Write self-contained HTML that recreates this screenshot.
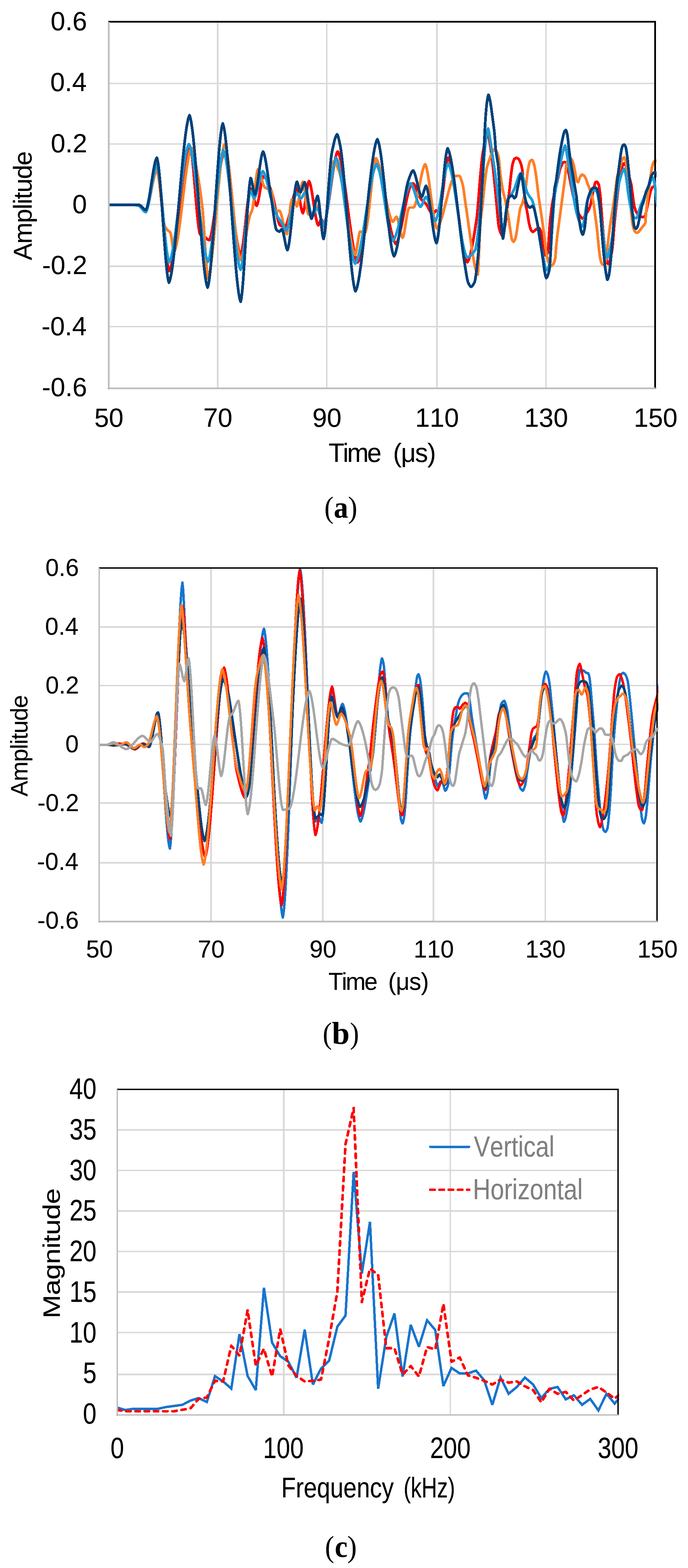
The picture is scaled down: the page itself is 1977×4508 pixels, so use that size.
<!DOCTYPE html>
<html lang="en">
<head>
<meta charset="utf-8">
<title>Figure</title>
<style>html,body{margin:0;padding:0;background:#fff}svg{display:block}</style>
</head>
<body>
<svg width="1977" height="4508" viewBox="0 0 1977 4508" style="font-kerning:none">
<rect width="1977" height="4508" fill="#fff"/>
<g shape-rendering="crispEdges">
<rect x="310" y="238" width="1575" height="4" fill="#d9d9d9"/>
<rect x="310" y="412" width="1575" height="4" fill="#d9d9d9"/>
<rect x="310" y="586" width="1575" height="4" fill="#d9d9d9"/>
<rect x="310" y="763" width="1575" height="5" fill="#d9d9d9"/>
<rect x="310" y="937" width="1575" height="4" fill="#d9d9d9"/>
<rect x="623" y="60" width="5" height="1059" fill="#d9d9d9"/>
<rect x="937" y="60" width="4" height="1059" fill="#d9d9d9"/>
<rect x="1253" y="60" width="5" height="1059" fill="#d9d9d9"/>
<rect x="1567" y="60" width="4" height="1059" fill="#d9d9d9"/>
</g>
<clipPath id="ca"><rect x="312" y="60" width="1574.6" height="1059"/></clipPath>
<g clip-path="url(#ca)" fill="none" stroke-width="7.8" stroke-linejoin="round" stroke-linecap="butt" shape-rendering="crispEdges">
<path d="M312.0,589.0 314.0,589.0 316.0,589.0 318.0,589.0 320.0,589.0 322.0,589.0 324.0,589.0 326.0,589.0 328.0,589.0 330.0,589.0 332.0,589.0 334.0,589.0 336.0,589.0 338.0,589.0 340.0,589.0 342.0,589.0 344.0,589.0 346.0,589.0 348.0,589.0 350.0,589.0 352.0,589.0 354.0,589.0 356.0,589.0 358.0,589.0 360.0,589.0 362.0,589.0 364.0,589.0 366.0,589.0 368.0,589.0 370.0,589.0 372.0,589.0 374.0,589.0 376.0,589.0 378.0,589.0 380.0,589.0 380.0,589.0 382.0,589.0 384.0,589.0 386.0,589.0 388.0,589.0 390.0,589.0 392.0,589.0 394.0,589.0 396.0,589.0 398.0,589.0 399.5,589.0 400.0,589.2 402.0,590.1 404.0,591.7 406.0,593.7 408.0,596.0 410.0,598.3 412.0,600.7 414.0,602.7 416.0,604.4 418.0,605.4 418.9,605.7 420.0,604.4 422.0,600.3 424.0,594.1 426.0,586.3 428.0,577.1 430.0,566.7 432.0,555.7 434.0,544.1 436.0,532.5 438.0,521.0 440.0,510.1 442.0,499.9 444.0,490.9 446.0,483.3 448.0,477.5 450.0,473.7 450.8,472.9 452.0,475.9 454.0,484.3 456.0,496.5 458.0,512.0 460.0,530.3 462.0,550.8 464.0,573.0 466.0,596.4 468.0,620.4 470.0,644.6 472.0,668.4 474.0,691.2 476.0,712.6 478.0,732.0 480.0,748.8 482.0,762.6 484.0,772.8 486.0,778.8 486.2,779.1 488.0,776.1 490.0,771.2 492.0,764.6 494.0,756.5 496.0,747.0 498.0,736.2 500.0,724.2 502.0,711.3 504.0,697.4 506.0,682.8 508.0,667.5 510.0,651.7 512.0,635.5 514.0,619.0 516.0,602.4 518.0,585.8 520.0,569.3 522.0,553.0 524.0,537.1 526.0,521.7 528.0,506.9 530.0,492.8 532.0,479.6 534.0,467.4 536.0,456.3 538.0,446.4 540.0,438.0 542.0,431.0 544.0,425.6 546.0,422.0 546.4,421.6 548.0,426.5 550.0,437.0 552.0,451.8 554.0,470.1 556.0,491.2 558.0,514.1 560.0,538.2 562.0,562.6 564.0,586.5 566.0,609.1 568.0,629.7 570.0,647.4 572.0,661.4 574.0,670.9 574.7,672.9 576.0,674.1 578.0,675.7 580.0,676.9 582.0,678.0 584.0,679.1 586.0,680.1 588.0,681.3 588.8,681.8 590.0,682.6 592.0,684.3 594.0,686.1 596.0,687.9 598.0,689.3 600.0,690.3 601.2,690.6 602.0,689.5 604.0,684.8 606.0,677.8 608.0,668.8 610.0,657.9 612.0,645.5 614.0,631.7 616.0,616.9 618.0,601.3 620.0,585.1 622.0,568.6 624.0,552.1 626.0,535.7 628.0,519.8 630.0,504.6 632.0,490.4 634.0,477.3 636.0,465.7 638.0,455.8 640.0,447.9 642.0,442.2 643.7,439.3 644.0,439.7 646.0,443.7 648.0,450.0 650.0,458.3 652.0,468.4 654.0,480.1 656.0,493.2 658.0,507.6 660.0,522.9 662.0,539.0 664.0,555.6 666.0,572.7 668.0,589.9 670.0,607.0 672.0,623.9 674.0,640.4 676.0,656.1 678.0,671.0 680.0,684.9 682.0,697.4 684.0,708.5 686.0,717.8 688.0,725.3 690.0,730.6 691.5,733.1 692.0,732.2 694.0,726.2 696.0,716.5 698.0,703.6 700.0,688.3 702.0,671.2 704.0,652.9 706.0,634.0 708.0,615.3 710.0,597.3 712.0,580.8 714.0,566.3 716.0,554.5 718.0,546.1 719.8,541.9 720.0,542.1 722.0,544.9 724.0,550.0 726.0,556.7 728.0,564.2 730.0,572.0 732.0,579.4 734.0,585.5 736.0,589.9 737.5,591.5 738.0,590.9 740.0,586.2 742.0,578.3 744.0,568.1 746.0,556.5 748.0,544.3 750.0,532.4 752.0,521.8 754.0,513.4 756.0,507.9 757.0,506.5 758.0,507.0 760.0,508.6 762.0,510.9 764.0,513.7 766.0,517.2 768.0,521.1 770.0,525.3 772.0,529.8 774.0,534.6 776.0,539.4 778.0,544.3 780.0,549.0 780.0,549.1 782.0,555.6 784.0,563.4 786.0,572.2 788.0,581.8 790.0,591.8 792.0,602.0 794.0,611.9 796.0,621.2 798.0,629.8 800.0,637.1 802.0,643.0 804.0,647.1 804.8,648.1 806.0,648.6 808.0,649.4 810.0,650.0 812.0,650.6 814.0,651.0 816.0,651.4 818.0,651.6 818.9,651.7 820.0,650.7 822.0,647.7 824.0,643.2 826.0,637.4 828.0,630.6 830.0,623.0 832.0,614.7 834.0,606.0 836.0,597.1 838.0,588.2 840.0,579.5 842.0,571.2 844.0,563.5 846.0,556.6 848.0,550.8 850.0,546.2 852.0,543.1 853.3,541.9 854.0,542.9 856.0,548.2 858.0,556.8 860.0,567.3 862.0,578.9 864.0,590.3 866.0,600.4 868.0,608.2 870.0,612.5 870.3,612.7 872.0,608.8 874.0,600.2 876.0,588.4 878.0,574.6 880.0,560.0 882.0,546.1 884.0,534.1 886.0,525.1 888.0,520.7 888.0,520.8 890.0,524.5 892.0,531.1 894.0,540.1 896.0,551.0 898.0,563.3 900.0,576.4 902.0,589.8 904.0,603.0 906.0,615.5 908.0,626.7 910.0,636.1 912.0,643.3 914.0,647.6 914.5,648.1 916.0,646.4 918.0,641.8 920.0,636.3 922.0,631.8 923.4,630.4 924.0,631.0 926.0,635.1 928.0,640.6 930.0,644.3 930.4,644.6 932.0,642.2 934.0,637.0 936.0,629.9 938.0,620.9 940.0,610.4 942.0,598.5 944.0,585.6 946.0,571.9 948.0,557.7 950.0,543.2 952.0,528.6 954.0,514.2 956.0,500.2 958.0,487.0 960.0,474.7 962.0,463.6 964.0,453.9 966.0,446.0 968.0,440.0 970.0,436.2 970.4,435.8 972.0,438.1 974.0,442.6 976.0,448.8 978.0,456.4 980.0,465.4 982.0,475.7 984.0,487.0 986.0,499.4 988.0,512.5 990.0,526.4 992.0,540.9 994.0,555.9 996.0,571.2 998.0,586.7 1000.0,602.2 1002.0,617.7 1004.0,633.0 1006.0,648.0 1008.0,662.5 1010.0,676.5 1012.0,689.7 1014.0,702.1 1016.0,713.6 1018.0,723.9 1020.0,733.0 1022.0,740.8 1024.0,747.0 1026.0,751.7 1027.8,754.3 1028.0,754.1 1030.0,750.8 1032.0,745.7 1034.0,739.0 1036.0,730.8 1038.0,721.3 1040.0,710.7 1042.0,699.0 1044.0,686.3 1046.0,673.0 1048.0,659.0 1050.0,644.6 1052.0,629.9 1054.0,615.0 1056.0,600.1 1058.0,585.3 1060.0,570.8 1062.0,556.6 1064.0,543.1 1066.0,530.2 1068.0,518.2 1070.0,507.2 1072.0,497.4 1074.0,488.8 1076.0,481.6 1078.0,476.1 1080.0,472.2 1080.9,471.2 1082.0,472.3 1084.0,475.4 1086.0,479.6 1088.0,485.0 1090.0,491.4 1092.0,498.8 1094.0,507.0 1096.0,515.9 1098.0,525.5 1100.0,535.6 1102.0,546.2 1104.0,557.1 1106.0,568.2 1108.0,579.6 1110.0,590.9 1112.0,602.3 1114.0,613.4 1116.0,624.4 1118.0,635.0 1120.0,645.2 1122.0,654.9 1124.0,663.9 1126.0,672.3 1128.0,679.8 1130.0,686.4 1132.0,691.9 1134.0,696.4 1136.0,699.7 1137.5,701.2 1138.0,700.8 1140.0,698.1 1142.0,694.0 1144.0,688.6 1146.0,682.1 1148.0,674.7 1150.0,666.4 1152.0,657.4 1154.0,647.8 1156.0,637.8 1158.0,627.5 1160.0,617.1 1162.0,606.6 1164.0,596.3 1166.0,586.2 1168.0,576.5 1170.0,567.4 1172.0,558.9 1174.0,551.2 1176.0,544.5 1178.0,538.8 1180.0,534.4 1180.0,534.4 1182.0,531.7 1184.0,529.4 1186.0,527.7 1187.1,527.3 1188.0,527.9 1190.0,529.9 1192.0,532.9 1194.0,536.8 1196.0,541.4 1198.0,546.3 1200.0,551.5 1202.0,556.6 1204.0,561.6 1206.0,566.2 1208.0,570.1 1210.0,573.3 1210.1,573.4 1212.0,575.3 1214.0,577.0 1216.0,578.6 1218.0,580.1 1220.0,581.7 1222.0,583.5 1222.5,584.0 1224.0,586.0 1226.0,589.1 1228.0,592.6 1230.0,596.3 1232.0,600.2 1234.0,603.9 1236.0,607.5 1238.0,610.6 1240.0,613.2 1242.0,615.0 1243.7,615.8 1244.0,615.7 1246.0,614.1 1248.0,611.2 1250.0,608.2 1252.0,605.9 1253.3,605.2 1254.0,605.5 1256.0,607.2 1258.0,609.6 1260.0,611.6 1261.4,612.3 1262.0,611.4 1264.0,605.9 1266.0,597.2 1268.0,585.7 1270.0,572.1 1272.0,556.9 1274.0,540.9 1276.0,524.6 1278.0,508.5 1280.0,493.4 1282.0,479.8 1284.0,468.2 1286.0,459.4 1288.0,454.0 1288.7,453.0 1290.0,455.0 1292.0,459.4 1294.0,465.6 1296.0,473.3 1298.0,482.5 1300.0,493.0 1302.0,504.6 1304.0,517.2 1306.0,530.7 1308.0,544.8 1310.0,559.6 1312.0,574.7 1314.0,590.1 1316.0,605.7 1318.0,621.2 1320.0,636.5 1322.0,651.6 1324.0,666.2 1326.0,680.1 1328.0,693.4 1330.0,705.7 1332.0,717.0 1334.0,727.1 1336.0,735.9 1338.0,743.2 1340.0,748.9 1342.0,752.9 1342.8,753.9 1344.0,752.5 1346.0,748.9 1348.0,743.9 1350.0,737.6 1352.0,730.0 1354.0,721.4 1356.0,711.8 1358.0,701.3 1360.0,690.1 1362.0,678.2 1364.0,665.8 1366.0,652.9 1368.0,639.8 1370.0,626.5 1370.1,626.1 1372.0,607.5 1374.0,584.0 1376.0,558.1 1378.0,532.3 1380.0,509.0 1380.0,508.6 1382.0,487.2 1384.0,466.7 1385.6,452.7 1386.0,449.9 1388.0,436.6 1390.0,424.7 1392.0,414.3 1393.5,407.7 1394.0,405.7 1396.0,398.3 1398.0,391.6 1400.0,386.7 1401.4,385.1 1402.0,386.0 1404.0,392.7 1406.0,402.6 1407.0,407.7 1408.0,413.6 1410.0,427.1 1412.0,442.3 1414.0,458.5 1416.0,475.2 1416.0,475.2 1418.0,493.8 1420.0,513.8 1422.0,534.5 1424.0,555.1 1425.0,565.3 1426.0,575.7 1428.0,598.6 1430.0,621.5 1432.0,641.4 1434.0,655.3 1434.1,655.4 1436.0,661.9 1438.0,667.7 1440.0,672.4 1442.0,675.9 1444.0,677.9 1444.2,677.9 1446.0,674.1 1448.0,666.0 1450.0,655.5 1452.0,644.3 1452.1,644.1 1454.0,629.8 1456.0,612.4 1458.0,594.5 1458.8,587.8 1460.0,578.2 1462.0,562.7 1464.0,546.5 1464.5,542.8 1466.0,527.0 1467.8,509.0 1468.0,507.3 1470.0,490.7 1472.0,476.9 1472.3,475.2 1474.0,468.3 1476.0,461.5 1478.0,457.2 1478.0,457.1 1480.0,455.5 1482.0,454.3 1483.6,453.8 1484.0,453.9 1486.0,454.5 1488.0,455.6 1490.0,457.0 1490.4,457.2 1492.0,459.6 1494.0,463.7 1496.0,468.5 1496.0,468.6 1498.0,475.2 1500.0,484.0 1500.5,486.5 1502.0,501.0 1502.7,509.0 1504.0,526.3 1506.0,553.1 1506.1,554.1 1508.0,570.1 1510.0,584.0 1510.6,587.8 1512.0,595.3 1514.0,604.8 1515.1,610.4 1516.0,615.7 1518.0,628.5 1520.0,640.5 1520.8,644.1 1522.0,649.1 1524.0,656.1 1526.0,661.5 1526.4,662.2 1528.0,664.4 1530.0,666.3 1530.9,666.7 1532.0,666.3 1534.0,665.1 1536.0,663.5 1537.7,662.2 1538.0,661.8 1540.0,659.6 1542.0,657.7 1542.2,657.7 1544.0,656.8 1546.0,656.0 1548.0,655.5 1548.9,655.4 1550.0,656.3 1552.0,660.0 1554.0,665.2 1554.5,666.7 1556.0,673.6 1558.0,686.1 1560.0,699.5 1560.2,700.5 1562.0,713.8 1563.6,723.0 1564.0,724.6 1566.0,730.9 1568.0,734.2 1568.1,734.2 1570.0,733.0 1572.0,730.4 1573.7,727.5 1574.0,725.6 1576.0,703.4 1578.0,671.6 1580.0,644.1 1580.0,643.8 1582.0,624.9 1584.0,607.9 1586.0,592.8 1586.8,587.8 1588.0,580.5 1590.0,570.2 1592.0,560.8 1593.5,554.1 1594.0,551.8 1596.0,543.7 1598.0,536.0 1600.0,528.0 1600.3,527.0 1602.0,519.0 1604.0,509.4 1606.0,499.8 1608.0,491.1 1609.3,486.5 1610.0,484.3 1612.0,479.2 1613.8,475.2 1614.0,474.7 1616.0,470.6 1618.0,467.5 1618.3,467.3 1620.0,466.7 1622.0,466.3 1622.8,466.2 1624.0,466.4 1626.0,467.1 1628.0,468.2 1628.4,468.5 1630.0,474.0 1632.0,485.7 1634.0,497.7 1634.1,497.7 1636.0,507.7 1638.0,517.7 1638.6,520.3 1640.0,527.8 1642.0,538.1 1644.0,548.4 1646.0,558.3 1647.6,565.3 1648.0,567.3 1650.0,575.5 1652.0,583.4 1654.0,590.7 1656.0,597.4 1656.6,599.1 1658.0,603.0 1660.0,607.8 1662.0,612.2 1663.3,614.9 1664.0,616.1 1666.0,619.6 1668.0,622.7 1669.0,623.9 1670.0,625.0 1672.0,627.0 1674.0,628.2 1674.6,628.4 1676.0,627.5 1678.0,624.9 1680.0,621.9 1680.2,621.6 1682.0,618.9 1684.0,615.6 1685.9,612.6 1686.0,612.3 1688.0,609.2 1690.0,606.1 1692.0,602.5 1692.6,601.4 1694.0,597.7 1696.0,591.6 1697.1,587.8 1698.0,583.8 1700.0,573.6 1701.6,565.3 1702.0,563.2 1704.0,553.0 1706.0,543.2 1706.1,542.8 1708.0,533.8 1710.0,526.0 1710.6,524.8 1712.0,523.7 1714.0,522.8 1715.1,522.5 1716.0,523.0 1718.0,525.7 1720.0,529.8 1720.8,531.5 1722.0,538.1 1724.0,554.0 1725.3,565.3 1726.0,574.2 1728.0,602.1 1728.6,610.4 1730.0,628.2 1732.0,653.5 1733.2,666.7 1734.0,676.2 1736.0,696.6 1737.7,711.7 1738.0,714.9 1740.0,731.8 1742.0,744.9 1742.2,745.5 1744.0,751.7 1746.0,756.8 1747.8,759.0 1748.0,758.9 1750.0,755.5 1752.0,749.9 1753.4,745.5 1754.0,743.2 1756.0,734.7 1758.0,724.2 1760.0,711.7 1760.0,711.4 1762.0,688.2 1764.0,661.1 1764.5,655.4 1766.0,639.0 1768.0,618.7 1770.0,599.3 1771.3,587.8 1772.0,580.9 1774.0,563.3 1776.0,546.5 1778.0,531.5 1778.0,531.4 1780.0,518.9 1782.0,507.4 1784.0,496.9 1784.8,493.2 1786.0,487.4 1788.0,479.0 1789.3,475.2 1790.0,473.9 1792.0,470.9 1793.8,469.6 1794.0,469.7 1796.0,471.6 1798.0,474.8 1798.3,475.2 1800.0,479.7 1802.0,486.3 1802.8,488.7 1804.0,493.0 1806.0,500.1 1808.0,507.6 1808.4,509.0 1810.0,515.0 1812.0,522.5 1814.0,531.4 1814.1,531.5 1816.0,545.5 1818.0,561.5 1818.6,565.3 1820.0,575.8 1822.0,589.2 1823.1,594.6 1824.0,598.2 1826.0,604.3 1827.6,608.1 1828.0,609.0 1830.0,612.2 1832.0,614.8 1832.1,614.9 1834.0,617.2 1836.0,619.3 1838.0,621.1 1838.8,621.6 1840.0,622.2 1842.0,623.0 1844.0,623.6 1845.6,623.9 1846.0,623.9 1848.0,623.7 1850.0,623.3 1852.0,622.8 1852.3,622.7 1854.0,619.6 1856.0,613.2 1856.8,610.4 1858.0,605.2 1860.0,594.7 1861.4,587.8 1862.0,584.4 1864.0,574.1 1865.9,565.3 1866.0,564.5 1868.0,555.8 1870.0,548.3 1870.4,547.3 1872.0,543.2 1874.0,539.4 1874.9,538.3 1876.0,537.5 1878.0,536.4 1879.4,536.0 1880.0,536.4 1882.0,539.3 1882.7,540.5 1884.0,544.2 1886.0,551.8 1886.6,554.1 1888.0,560.8 1890.0,571.1 1892.0,582.6" stroke="#ff0000"/>
<path d="M312.0,589.0 314.0,589.0 316.0,589.0 318.0,589.0 320.0,589.0 322.0,589.0 324.0,589.0 326.0,589.0 328.0,589.0 330.0,589.0 332.0,589.0 334.0,589.0 336.0,589.0 338.0,589.0 340.0,589.0 342.0,589.0 344.0,589.0 346.0,589.0 348.0,589.0 350.0,589.0 352.0,589.0 354.0,589.0 356.0,589.0 358.0,589.0 360.0,589.0 362.0,589.0 364.0,589.0 366.0,589.0 368.0,589.0 370.0,589.0 372.0,589.0 374.0,589.0 376.0,589.0 378.0,589.0 380.0,589.0 380.0,589.0 382.0,589.0 384.0,589.0 386.0,589.0 388.0,589.0 390.0,589.0 392.0,589.0 394.0,589.0 396.0,589.0 398.0,589.0 399.5,589.0 400.0,589.2 402.0,590.2 404.0,591.9 406.0,594.2 408.0,596.7 410.0,599.3 412.0,601.9 414.0,604.2 416.0,606.0 418.0,607.2 418.9,607.4 420.0,606.3 422.0,602.6 424.0,597.1 426.0,590.1 428.0,581.9 430.0,572.7 432.0,562.8 434.0,552.5 436.0,542.1 438.0,531.8 440.0,522.0 442.0,512.9 444.0,504.9 446.0,498.1 448.0,492.9 450.0,489.6 450.8,488.8 452.0,491.6 454.0,499.9 456.0,512.1 458.0,527.3 460.0,544.8 462.0,563.5 464.0,582.5 466.0,601.1 468.0,618.2 470.0,633.1 472.0,644.7 473.8,651.7 474.0,652.1 476.0,655.1 478.0,657.5 480.0,659.6 482.0,661.6 482.7,662.3 484.0,663.6 486.0,665.3 488.0,667.2 489.7,669.4 490.0,670.2 492.0,678.9 494.0,691.5 496.0,705.2 498.0,717.0 500.0,723.8 500.4,724.2 502.0,721.4 504.0,716.0 506.0,708.7 508.0,699.5 510.0,688.7 512.0,676.5 514.0,663.1 516.0,648.6 518.0,633.3 520.0,617.2 522.0,600.7 524.0,584.0 526.0,567.1 528.0,550.3 530.0,533.7 532.0,517.7 534.0,502.2 536.0,487.7 538.0,474.1 540.0,461.8 542.0,450.9 544.0,441.5 546.0,434.0 548.0,428.4 549.9,425.1 550.0,425.2 552.0,428.3 554.0,433.5 556.0,440.6 558.0,449.1 560.0,458.8 562.0,469.4 564.0,480.5 566.0,491.7 568.0,502.8 569.4,510.1 570.0,514.0 572.0,526.2 574.0,539.3 576.0,553.3 578.0,568.1 580.0,584.0 581.8,598.6 582.0,601.2 584.0,625.2 586.0,654.4 588.0,686.4 590.0,718.6 592.0,748.7 594.0,774.1 596.0,792.3 597.7,800.4 598.0,799.8 600.0,794.4 602.0,786.2 604.0,775.3 606.0,762.0 608.0,746.6 610.0,729.3 612.0,710.5 614.0,690.4 616.0,669.3 618.0,647.4 620.0,625.0 622.0,602.4 624.0,579.9 626.0,557.7 628.0,536.1 630.0,515.4 632.0,495.8 634.0,477.7 636.0,461.2 638.0,446.7 640.0,434.4 642.0,424.7 644.0,417.7 645.5,414.5 646.0,415.4 648.0,420.6 650.0,428.4 652.0,438.6 654.0,451.0 656.0,465.3 658.0,481.2 660.0,498.6 662.0,517.0 664.0,536.2 666.0,556.1 668.0,576.2 670.0,596.5 672.0,616.5 674.0,636.0 676.0,654.9 678.0,672.7 680.0,689.3 682.0,704.4 684.0,717.7 686.0,729.0 688.0,737.9 690.0,744.3 691.5,747.3 692.0,746.7 694.0,742.8 696.0,736.6 698.0,728.5 700.0,718.9 702.0,708.0 704.0,696.3 706.0,684.0 708.0,671.7 710.0,659.5 712.0,647.9 714.0,637.2 716.0,627.7 718.0,619.9 718.1,619.8 720.0,614.7 722.0,610.3 724.0,605.4 725.1,602.1 726.0,597.7 728.0,584.4 730.0,567.7 732.0,549.1 734.0,530.3 736.0,513.0 738.0,498.9 740.0,489.5 741.1,487.1 742.0,487.9 744.0,491.0 746.0,495.7 748.0,501.6 750.0,508.3 752.0,515.3 754.0,522.2 756.0,528.6 758.0,533.9 760.0,537.7 760.5,538.4 762.0,539.5 764.0,540.8 766.0,541.7 768.0,542.6 770.0,543.3 772.0,544.1 774.0,544.9 776.0,546.0 778.0,547.3 780.0,549.0 780.0,549.1 782.0,556.7 784.0,569.3 786.0,583.7 788.0,596.6 790.0,604.7 790.6,605.7 792.0,605.7 794.0,605.7 796.0,605.7 798.0,605.7 800.0,605.7 802.0,605.7 803.0,605.7 804.0,606.7 806.0,610.5 808.0,616.5 810.0,623.9 812.0,632.3 814.0,641.1 816.0,649.8 818.0,657.9 820.0,664.7 822.0,669.9 824.0,672.8 824.2,672.9 826.0,666.9 828.0,653.6 830.0,635.9 832.0,616.4 834.0,597.9 836.0,583.1 838.0,574.5 838.4,573.8 840.0,573.8 842.0,573.8 844.0,573.8 845.5,573.8 846.0,574.4 848.0,579.8 850.0,587.3 852.0,592.7 852.6,593.3 854.0,591.0 856.0,584.8 858.0,576.0 860.0,565.6 862.0,554.4 864.0,543.6 866.0,534.0 868.0,526.7 870.0,522.7 870.3,522.5 872.0,527.1 874.0,537.5 876.0,551.7 878.0,567.8 880.0,584.0 882.0,598.7 884.0,610.0 886.0,616.1 886.2,616.3 888.0,616.3 890.0,616.3 892.0,616.3 894.0,616.3 896.0,616.3 896.8,616.3 898.0,615.6 900.0,613.2 902.0,609.7 904.0,605.5 906.0,601.2 908.0,597.1 910.0,593.9 912.0,591.8 912.7,591.5 914.0,593.2 916.0,598.5 918.0,606.3 920.0,615.6 922.0,625.6 924.0,635.4 926.0,644.1 928.0,650.9 930.0,654.8 930.4,655.2 932.0,651.7 934.0,643.6 936.0,632.1 938.0,617.9 940.0,601.5 942.0,583.7 944.0,565.0 946.0,546.1 948.0,527.7 950.0,510.5 952.0,494.9 954.0,481.8 956.0,471.7 958.0,465.3 958.8,464.1 960.0,464.8 962.0,466.7 964.0,469.5 966.0,473.0 968.0,477.0 970.0,481.5 972.0,486.1 974.0,490.9 974.7,492.4 976.0,496.8 978.0,504.4 980.0,513.4 982.0,523.4 984.0,534.4 986.0,546.3 988.0,558.8 990.0,571.8 992.0,585.2 994.0,598.9 996.0,612.6 998.0,626.3 1000.0,639.9 1002.0,653.0 1004.0,665.7 1006.0,677.8 1008.0,689.0 1010.0,699.4 1012.0,708.7 1014.0,716.8 1016.0,723.5 1018.0,728.7 1020.0,732.3 1020.7,733.1 1022.0,730.5 1024.0,722.4 1026.0,710.9 1028.0,697.8 1030.0,685.0 1032.0,674.1 1034.0,667.2 1034.9,665.8 1036.0,666.0 1038.0,666.4 1040.0,667.0 1042.0,667.6 1044.0,668.3 1046.0,668.9 1048.0,669.3 1049.0,669.4 1050.0,667.5 1052.0,660.8 1054.0,650.6 1056.0,637.6 1058.0,622.3 1060.0,605.2 1062.0,586.8 1064.0,567.8 1066.0,548.5 1068.0,529.7 1070.0,511.8 1072.0,495.4 1074.0,481.0 1076.0,469.2 1078.0,460.5 1080.0,455.4 1080.2,455.2 1082.0,457.2 1084.0,460.7 1086.0,465.5 1088.0,471.4 1090.0,478.3 1092.0,486.0 1094.0,494.6 1096.0,503.7 1098.0,513.4 1100.0,523.5 1102.0,533.8 1104.0,544.3 1106.0,554.8 1108.0,565.3 1110.0,575.4 1112.0,585.3 1114.0,594.7 1116.0,603.5 1118.0,611.6 1120.0,618.8 1122.0,625.1 1124.0,630.3 1126.0,634.3 1128.0,637.0 1128.7,637.5 1130.0,636.6 1132.0,633.9 1134.0,630.3 1136.0,626.8 1138.0,624.1 1139.3,623.4 1140.0,624.1 1142.0,628.3 1144.0,635.1 1146.0,643.6 1148.0,652.9 1150.0,662.3 1152.0,671.0 1154.0,678.0 1156.0,682.5 1157.0,683.5 1158.0,681.9 1160.0,675.5 1162.0,665.8 1164.0,653.9 1166.0,641.0 1168.0,628.0 1170.0,616.0 1172.0,606.3 1174.0,599.8 1174.7,598.6 1176.0,597.8 1178.0,596.8 1180.0,596.4 1180.0,596.4 1182.0,596.4 1184.0,596.4 1186.0,596.4 1188.0,596.4 1188.8,596.4 1190.0,595.1 1192.0,591.4 1194.0,585.9 1196.0,578.9 1198.0,570.6 1200.0,561.4 1202.0,551.5 1204.0,541.1 1206.0,530.6 1208.0,520.2 1210.0,510.1 1212.0,500.7 1214.0,492.1 1216.0,484.8 1218.0,478.8 1220.0,474.6 1221.8,472.5 1222.0,472.8 1224.0,476.9 1226.0,483.8 1228.0,493.1 1230.0,504.4 1232.0,517.2 1234.0,531.3 1236.0,546.3 1238.0,561.6 1240.0,577.1 1242.0,592.2 1244.0,606.7 1246.0,620.0 1248.0,631.9 1250.0,642.0 1252.0,649.8 1254.0,655.0 1255.0,656.5 1256.0,655.9 1258.0,653.7 1260.0,650.6 1262.0,646.7 1264.0,642.1 1266.0,636.7 1268.0,630.7 1270.0,624.2 1272.0,617.3 1274.0,610.0 1276.0,602.4 1278.0,594.6 1280.0,586.6 1282.0,578.6 1284.0,570.7 1286.0,562.8 1288.0,555.1 1290.0,547.7 1292.0,540.6 1294.0,533.9 1296.0,527.8 1298.0,522.2 1300.0,517.3 1302.0,513.1 1304.0,509.7 1306.0,507.3 1307.4,506.1 1308.0,506.1 1310.0,505.9 1312.0,505.7 1314.0,505.6 1316.0,505.5 1318.0,505.4 1319.8,505.4 1320.0,505.5 1322.0,508.0 1324.0,512.5 1326.0,518.5 1328.0,525.4 1330.0,532.9 1330.4,534.4 1332.0,543.4 1334.0,557.9 1336.0,573.4 1337.5,584.0 1338.0,587.3 1340.0,600.5 1342.0,614.4 1344.0,628.7 1346.0,643.2 1348.0,658.0 1350.0,672.7 1352.0,687.2 1354.0,701.4 1356.0,715.1 1358.0,728.1 1360.0,740.4 1362.0,751.6 1364.0,761.8 1366.0,770.7 1368.0,778.1 1370.0,784.0 1372.0,788.1 1372.9,789.3 1374.0,778.4 1376.0,736.1 1378.0,683.8 1380.0,644.1 1380.0,643.8 1382.0,624.7 1384.0,609.3 1386.0,594.0 1386.8,587.8 1388.0,575.4 1390.0,554.4 1392.0,533.8 1393.5,520.3 1394.0,516.2 1396.0,501.1 1398.0,487.9 1399.1,482.0 1400.0,478.5 1402.0,472.0 1404.0,466.2 1404.8,464.0 1406.0,460.0 1408.0,453.6 1410.0,447.6 1411.5,443.7 1412.0,442.6 1414.0,438.2 1416.0,434.1 1418.0,431.2 1419.4,430.2 1420.0,430.3 1422.0,431.2 1424.0,432.6 1426.0,434.5 1427.3,435.8 1428.0,437.1 1430.0,442.0 1432.0,449.0 1432.9,452.7 1434.0,461.4 1436.0,483.5 1437.4,497.7 1438.0,502.4 1440.0,516.9 1442.0,530.1 1444.0,541.9 1444.2,542.8 1446.0,551.4 1448.0,559.8 1450.0,567.8 1452.0,576.4 1452.1,576.6 1454.0,585.9 1456.0,595.6 1458.0,606.0 1458.8,610.4 1460.0,617.8 1462.0,631.3 1464.0,645.1 1465.6,655.4 1466.0,658.3 1468.0,672.2 1470.0,684.5 1471.2,689.2 1472.0,690.7 1474.0,693.6 1475.7,694.8 1476.0,694.7 1478.0,692.2 1480.0,688.0 1481.4,684.7 1482.0,682.0 1484.0,671.3 1486.0,658.0 1488.0,644.6 1488.1,644.1 1490.0,630.6 1492.0,615.7 1494.0,603.0 1494.9,599.1 1496.0,595.7 1498.0,591.3 1500.0,587.3 1501.6,583.3 1502.0,582.0 1504.0,574.5 1506.0,565.7 1506.1,565.3 1508.0,555.0 1510.0,542.8 1511.8,531.5 1512.0,529.5 1514.0,512.9 1516.0,495.9 1517.4,486.5 1518.0,483.2 1520.0,473.7 1522.0,466.3 1523.0,464.0 1524.0,462.8 1526.0,460.8 1528.0,459.6 1528.6,459.5 1530.0,460.9 1532.0,465.1 1534.0,470.9 1535.4,475.2 1536.0,477.9 1538.0,489.0 1540.0,502.2 1541.0,509.0 1542.0,516.6 1544.0,533.5 1546.0,551.0 1547.8,565.3 1548.0,567.1 1550.0,580.8 1552.0,593.8 1554.0,606.9 1554.5,610.4 1556.0,620.7 1558.0,634.7 1560.0,648.9 1562.0,663.7 1562.4,666.7 1564.0,680.1 1566.0,697.9 1568.0,714.7 1569.2,723.0 1570.0,727.9 1572.0,738.4 1573.7,745.5 1574.0,746.6 1576.0,752.8 1578.0,758.0 1580.0,761.3 1580.0,761.3 1582.0,762.4 1584.0,763.2 1585.6,763.5 1586.0,763.4 1588.0,761.7 1590.0,758.8 1591.3,756.8 1592.0,755.0 1594.0,748.9 1595.8,741.0 1596.0,738.6 1598.0,711.7 1598.0,711.5 1600.0,690.6 1601.4,677.9 1602.0,672.7 1604.0,657.7 1605.9,644.1 1606.0,643.1 1608.0,628.1 1610.0,613.1 1610.4,610.4 1612.0,598.1 1614.0,583.1 1614.9,576.6 1616.0,568.1 1618.0,553.1 1619.4,542.8 1620.0,538.2 1622.0,523.7 1623.9,509.0 1624.0,507.9 1626.0,485.6 1627.3,475.2 1628.0,472.9 1630.0,467.9 1632.0,464.3 1634.0,461.7 1634.1,461.7 1636.0,460.1 1638.0,458.7 1640.0,457.7 1641.9,457.2 1642.0,457.3 1644.0,460.4 1646.0,466.1 1648.0,473.0 1648.7,475.2 1650.0,481.2 1652.0,491.7 1653.2,497.7 1654.0,502.3 1656.0,513.7 1657.7,520.3 1658.0,520.8 1660.0,523.1 1661.1,523.6 1662.0,522.4 1664.0,516.8 1666.0,510.5 1666.7,509.0 1668.0,506.9 1670.0,504.1 1672.0,502.4 1672.3,502.3 1674.0,502.6 1676.0,503.4 1678.0,504.5 1678.0,504.6 1680.0,507.0 1682.0,510.4 1683.6,513.5 1684.0,514.6 1686.0,520.6 1688.0,526.8 1688.1,527.0 1690.0,531.9 1692.0,536.8 1692.6,538.3 1694.0,542.2 1696.0,547.7 1698.0,553.5 1700.0,559.8 1701.6,565.3 1702.0,567.0 1704.0,576.4 1706.0,587.3 1706.1,587.8 1708.0,601.4 1710.0,617.1 1710.6,621.6 1712.0,631.9 1714.0,646.6 1715.1,655.4 1716.0,663.9 1718.0,684.3 1718.5,689.2 1720.0,705.0 1721.9,723.0 1722.0,724.1 1724.0,738.5 1725.3,745.5 1726.0,748.5 1728.0,755.4 1729.8,759.0 1730.0,759.2 1732.0,760.3 1734.0,761.0 1735.4,761.3 1736.0,760.7 1738.0,756.3 1740.0,749.4 1741.0,745.5 1742.0,739.6 1744.0,723.5 1746.0,705.7 1746.7,700.5 1748.0,689.3 1750.0,673.0 1752.0,657.3 1752.3,655.4 1754.0,643.6 1756.0,630.8 1758.0,618.3 1760.0,605.9 1760.0,605.6 1762.0,592.8 1764.0,579.8 1764.5,576.6 1766.0,565.4 1768.0,550.2 1769.0,542.8 1770.0,534.7 1772.0,518.6 1773.5,509.0 1774.0,506.8 1776.0,499.6 1778.0,493.6 1780.0,487.3 1780.3,486.5 1782.0,479.2 1784.0,470.6 1785.9,464.0 1786.0,463.6 1788.0,459.0 1790.0,455.4 1790.4,455.0 1792.0,453.5 1793.8,452.7 1794.0,452.9 1796.0,456.6 1798.0,463.1 1798.3,464.0 1800.0,474.7 1802.0,491.3 1802.8,497.7 1804.0,509.4 1806.0,529.9 1807.3,542.8 1808.0,550.2 1810.0,570.2 1811.8,587.8 1812.0,590.2 1814.0,611.5 1816.0,630.7 1816.3,632.9 1818.0,644.1 1820.0,654.7 1820.8,657.7 1822.0,660.7 1824.0,664.8 1826.0,667.5 1826.4,667.8 1828.0,668.3 1830.0,668.7 1832.0,668.9 1832.1,668.9 1834.0,667.8 1836.0,665.6 1838.0,663.1 1838.8,662.2 1840.0,660.7 1842.0,658.0 1844.0,655.2 1845.6,653.2 1846.0,652.6 1848.0,650.3 1850.0,648.0 1851.2,646.4 1852.0,645.2 1854.0,641.4 1854.6,639.6 1855.7,621.6 1856.0,618.0 1858.0,599.1 1858.0,598.5 1860.0,577.7 1861.4,565.3 1862.0,560.3 1864.0,547.4 1864.7,542.8 1866.0,533.1 1868.0,517.8 1869.2,509.0 1870.0,503.4 1872.0,489.4 1873.7,479.7 1874.0,478.6 1876.0,471.7 1878.0,466.6 1878.2,466.2 1880.0,463.8 1882.0,462.0 1882.7,461.7 1884.0,461.9 1886.0,462.6 1886.6,462.8 1888.0,463.5 1890.0,464.5 1892.0,465.7" stroke="#ff7f27"/>
<rect x="1880" y="60" width="5" height="1058" fill="#000" stroke="none" shape-rendering="crispEdges"/>
<path d="M312.0,589.0 314.0,589.0 316.0,589.0 318.0,589.0 320.0,589.0 322.0,589.0 324.0,589.0 326.0,589.0 328.0,589.0 330.0,589.0 332.0,589.0 334.0,589.0 336.0,589.0 338.0,589.0 340.0,589.0 342.0,589.0 344.0,589.0 346.0,589.0 348.0,589.0 350.0,589.0 352.0,589.0 354.0,589.0 356.0,589.0 358.0,589.0 360.0,589.0 362.0,589.0 364.0,589.0 366.0,589.0 368.0,589.0 370.0,589.0 372.0,589.0 374.0,589.0 376.0,589.0 378.0,589.0 380.0,589.0 380.0,589.0 382.0,589.1 384.0,589.2 386.0,589.3 388.0,589.5 390.0,589.7 392.0,590.0 394.0,590.2 396.0,590.5 397.7,590.8 398.0,590.9 400.0,592.0 402.0,593.6 404.0,595.6 406.0,597.9 408.0,600.4 410.0,602.8 412.0,605.1 414.0,607.1 416.0,608.7 418.0,609.7 418.9,609.9 420.0,608.6 422.0,604.4 424.0,598.2 426.0,590.2 428.0,580.8 430.0,570.3 432.0,559.0 434.0,547.2 436.0,535.4 438.0,523.7 440.0,512.5 442.0,502.2 444.0,493.0 446.0,485.3 448.0,479.3 450.0,475.5 450.8,474.7 452.0,477.5 454.0,485.1 456.0,496.2 458.0,510.4 460.0,527.1 462.0,545.8 464.0,566.1 466.0,587.5 468.0,609.4 470.0,631.5 472.0,653.2 474.0,674.1 476.0,693.6 478.0,711.3 480.0,726.6 482.0,739.2 484.0,748.5 486.0,754.1 486.2,754.3 488.0,751.3 490.0,746.1 492.0,739.3 494.0,730.7 496.0,720.8 498.0,709.4 500.0,697.0 502.0,683.4 504.0,669.0 506.0,653.8 508.0,638.0 510.0,621.8 512.0,605.2 514.0,588.4 516.0,571.6 518.0,555.0 520.0,538.5 522.0,522.5 524.0,507.0 526.0,492.2 528.0,478.2 530.0,465.2 532.0,453.3 534.0,442.7 536.0,433.5 538.0,425.8 540.0,419.8 542.0,415.6 542.8,414.5 544.0,416.4 546.0,421.1 548.0,427.8 550.0,436.2 552.0,446.1 554.0,457.5 556.0,470.2 558.0,484.0 560.0,498.8 562.0,514.4 564.0,530.6 566.0,547.3 568.0,564.3 570.0,581.6 572.0,598.8 574.0,615.9 576.0,632.7 578.0,649.0 580.0,664.8 582.0,679.7 584.0,693.8 586.0,706.7 588.0,718.4 590.0,728.8 592.0,737.5 594.0,744.6 596.0,749.8 597.7,752.6 598.0,752.0 600.0,747.1 602.0,739.4 604.0,729.1 606.0,716.6 608.0,702.2 610.0,686.0 612.0,668.5 614.0,649.9 616.0,630.5 618.0,610.5 620.0,590.2 622.0,570.0 624.0,550.1 626.0,530.8 628.0,512.4 630.0,495.2 632.0,479.4 634.0,465.3 636.0,453.3 638.0,443.5 640.0,436.4 641.9,432.2 642.0,432.3 644.0,436.5 646.0,443.2 648.0,452.1 650.0,463.0 652.0,475.7 654.0,490.0 656.0,505.7 658.0,522.6 660.0,540.3 662.0,558.9 664.0,577.9 666.0,597.2 668.0,616.6 670.0,635.8 672.0,654.7 674.0,673.0 676.0,690.6 678.0,707.1 680.0,722.4 682.0,736.2 684.0,748.4 686.0,758.7 688.0,766.9 690.0,772.8 691.5,775.6 692.0,774.5 694.0,767.4 696.0,755.9 698.0,740.7 700.0,722.5 702.0,702.2 704.0,680.5 706.0,658.1 708.0,636.0 710.0,614.7 712.0,595.1 714.0,577.9 716.0,563.9 718.0,554.0 719.8,549.0 720.0,549.1 722.0,551.8 724.0,556.6 726.0,562.2 728.0,567.1 730.0,570.0 730.4,570.3 732.0,568.5 734.0,564.5 736.0,558.7 738.0,551.5 740.0,543.5 742.0,534.8 744.0,526.0 746.0,517.5 748.0,509.6 750.0,502.7 752.0,497.2 754.0,493.5 755.2,492.4 756.0,493.1 758.0,495.9 760.0,500.1 762.0,505.5 764.0,512.0 766.0,519.2 768.0,527.1 770.0,535.2 772.0,543.5 774.0,551.8 776.0,559.7 778.0,567.2 780.0,573.8 780.0,573.9 782.0,580.2 784.0,586.7 786.0,593.2 788.0,599.5 790.0,605.5 792.0,611.0 794.0,616.0 794.2,616.3 796.0,619.9 798.0,623.4 800.0,626.7 802.0,629.8 804.0,632.8 806.0,635.7 808.0,638.7 810.0,641.7 811.9,644.6 812.0,644.9 814.0,648.7 816.0,652.9 818.0,656.9 820.0,660.2 822.0,662.1 822.5,662.3 824.0,660.5 826.0,656.5 828.0,650.8 830.0,643.6 832.0,635.3 834.0,626.2 836.0,616.5 838.0,606.7 840.0,596.9 842.0,587.5 844.0,578.7 846.0,571.0 848.0,564.5 850.0,559.6 852.0,556.6 852.6,556.1 854.0,556.9 856.0,559.1 858.0,562.0 860.0,565.2 862.0,568.0 864.0,569.9 865.0,570.3 866.0,569.7 868.0,567.2 870.0,563.6 872.0,559.7 874.0,556.0 876.0,553.4 877.3,552.6 878.0,553.2 880.0,557.2 882.0,563.7 884.0,571.9 886.0,581.2 888.0,590.8 890.0,600.1 892.0,608.4 894.0,614.9 896.0,619.0 896.8,619.8 898.0,619.1 900.0,616.6 902.0,613.0 904.0,608.9 906.0,604.8 908.0,601.4 910.0,599.1 911.0,598.6 912.0,599.5 914.0,602.8 916.0,607.8 918.0,614.0 920.0,621.0 922.0,628.1 924.0,634.8 926.0,640.7 928.0,645.2 930.0,647.9 930.4,648.1 932.0,645.5 934.0,639.7 936.0,631.6 938.0,621.4 940.0,609.5 942.0,596.2 944.0,581.9 946.0,566.9 948.0,551.6 950.0,536.3 952.0,521.2 954.0,506.9 956.0,493.5 958.0,481.4 960.0,471.0 962.0,462.6 964.0,456.6 965.8,453.5 966.0,453.7 968.0,457.0 970.0,462.2 972.0,468.9 974.0,477.2 976.0,486.9 978.0,497.7 980.0,509.7 982.0,522.5 984.0,536.2 986.0,550.6 988.0,565.4 990.0,580.6 992.0,596.0 994.0,611.6 996.0,627.0 998.0,642.3 1000.0,657.3 1002.0,671.7 1004.0,685.6 1006.0,698.7 1008.0,710.8 1010.0,722.0 1012.0,731.9 1014.0,740.5 1016.0,747.7 1018.0,753.2 1020.0,757.0 1020.7,757.9 1022.0,756.3 1024.0,752.9 1026.0,748.1 1028.0,742.2 1030.0,735.2 1032.0,727.2 1034.0,718.3 1036.0,708.5 1038.0,698.0 1040.0,686.9 1042.0,675.3 1044.0,663.2 1046.0,650.8 1048.0,638.0 1050.0,625.2 1052.0,612.2 1054.0,599.3 1056.0,586.5 1058.0,573.8 1060.0,561.5 1062.0,549.6 1064.0,538.1 1066.0,527.2 1068.0,517.0 1070.0,507.5 1072.0,498.9 1074.0,491.2 1076.0,484.6 1078.0,479.1 1080.0,474.8 1082.0,471.8 1082.7,471.2 1084.0,472.9 1086.0,477.1 1088.0,483.0 1090.0,490.4 1092.0,499.2 1094.0,509.2 1096.0,520.2 1098.0,532.0 1100.0,544.5 1102.0,557.5 1104.0,570.8 1106.0,584.3 1108.0,597.7 1110.0,610.9 1112.0,623.7 1114.0,636.0 1116.0,647.5 1118.0,658.2 1120.0,667.7 1122.0,676.0 1124.0,682.9 1126.0,688.2 1128.0,691.7 1128.7,692.4 1130.0,691.2 1132.0,688.6 1134.0,684.9 1136.0,680.3 1138.0,674.8 1140.0,668.5 1142.0,661.6 1144.0,654.1 1146.0,646.1 1148.0,637.7 1150.0,629.1 1152.0,620.2 1154.0,611.2 1156.0,602.2 1158.0,593.3 1160.0,584.6 1162.0,576.1 1164.0,568.0 1166.0,560.3 1168.0,553.2 1170.0,546.8 1172.0,541.0 1174.0,536.1 1176.0,532.1 1178.0,529.2 1180.0,527.3 1180.0,527.4 1182.0,529.1 1184.0,532.2 1186.0,536.5 1188.0,541.7 1190.0,547.6 1192.0,554.0 1194.0,560.6 1196.0,567.2 1198.0,573.6 1200.0,579.6 1202.0,584.8 1204.0,589.2 1206.0,592.5 1208.0,594.5 1208.3,594.6 1210.0,593.3 1212.0,590.2 1214.0,585.9 1216.0,581.1 1218.0,576.1 1220.0,571.7 1222.0,568.3 1224.0,566.4 1224.2,566.3 1226.0,567.9 1228.0,571.3 1230.0,576.0 1232.0,581.8 1234.0,588.4 1236.0,595.4 1238.0,602.7 1240.0,609.9 1242.0,616.7 1244.0,622.9 1246.0,628.1 1248.0,632.2 1250.0,634.8 1250.8,635.3 1252.0,633.8 1254.0,629.6 1256.0,623.6 1258.0,615.9 1260.0,606.8 1262.0,596.5 1264.0,585.4 1266.0,573.6 1268.0,561.3 1270.0,549.0 1272.0,536.6 1274.0,524.7 1276.0,513.3 1278.0,502.7 1280.0,493.2 1282.0,484.9 1284.0,478.3 1286.0,473.4 1288.0,470.7 1288.0,470.8 1290.0,473.7 1292.0,478.2 1294.0,484.2 1296.0,491.6 1298.0,500.3 1300.0,510.0 1302.0,520.7 1304.0,532.3 1306.0,544.6 1308.0,557.4 1310.0,570.7 1312.0,584.4 1314.0,598.2 1316.0,612.1 1318.0,625.9 1320.0,639.6 1322.0,652.9 1324.0,665.8 1326.0,678.1 1328.0,689.6 1330.0,700.3 1332.0,710.1 1334.0,718.7 1336.0,726.1 1338.0,732.2 1340.0,736.7 1342.0,739.6 1342.1,739.7 1344.0,739.3 1346.0,738.5 1348.0,737.5 1350.0,736.2 1352.0,734.7 1354.0,733.0 1356.0,731.1 1358.0,728.9 1360.0,726.5 1362.0,723.9 1364.0,721.2 1365.8,718.5 1366.0,717.8 1368.0,709.1 1370.0,697.0 1372.0,681.8 1374.0,664.0 1376.0,644.2 1378.0,622.7 1380.0,599.9 1382.0,576.4 1384.0,552.5 1386.0,528.7 1386.8,520.3 1388.0,501.9 1390.0,470.1 1391.3,452.7 1392.0,443.7 1394.0,421.8 1396.0,403.0 1396.9,396.4 1398.0,389.2 1400.0,377.5 1402.0,370.1 1402.5,369.4 1404.0,373.7 1406.0,385.3 1408.0,399.5 1409.3,407.7 1410.0,412.4 1412.0,425.6 1414.0,439.2 1416.0,452.7 1416.0,452.7 1418.0,465.8 1420.0,478.8 1422.0,492.3 1422.8,497.7 1424.0,507.5 1426.0,524.1 1428.0,541.2 1429.5,554.1 1430.0,558.1 1432.0,575.3 1434.0,592.4 1436.0,608.3 1436.3,610.4 1438.0,623.4 1440.0,639.2 1442.0,653.4 1444.0,663.5 1445.3,666.7 1446.0,664.9 1448.0,653.7 1450.0,637.5 1452.0,621.9 1452.1,621.6 1454.0,607.2 1456.0,592.1 1458.0,579.9 1458.8,576.6 1460.0,573.9 1462.0,570.5 1464.0,567.7 1465.6,565.3 1466.0,564.6 1468.0,561.3 1470.0,558.0 1472.0,554.6 1472.3,554.1 1474.0,550.9 1476.0,547.1 1478.0,542.9 1479.1,540.5 1480.0,538.0 1482.0,532.1 1484.0,525.8 1485.9,520.3 1486.0,519.8 1488.0,513.8 1490.0,508.0 1492.0,503.3 1492.6,502.3 1494.0,500.5 1496.0,498.5 1497.6,497.7 1498.0,498.1 1500.0,501.6 1502.0,507.0 1502.7,509.0 1504.0,513.5 1506.0,521.8 1508.0,530.2 1508.4,531.5 1510.0,537.6 1512.0,544.7 1514.0,551.1 1515.1,554.1 1516.0,555.9 1518.0,559.4 1520.0,562.5 1521.9,565.3 1522.0,565.5 1524.0,568.1 1526.0,570.5 1528.0,573.3 1528.6,574.3 1530.0,577.7 1532.0,583.9 1533.2,587.8 1534.0,591.7 1536.0,601.9 1537.7,610.4 1538.0,612.2 1540.0,621.9 1542.0,631.7 1544.0,642.1 1544.4,644.1 1546.0,654.5 1548.0,668.3 1550.0,682.1 1551.2,689.2 1552.0,693.9 1554.0,704.4 1556.0,714.3 1558.0,723.9 1560.0,733.5 1560.2,734.2 1562.0,744.3 1564.0,756.3 1566.0,767.2 1568.0,774.9 1569.2,777.0 1570.0,776.6 1572.0,774.8 1574.0,771.9 1576.0,767.9 1578.0,762.8 1580.0,756.8 1580.0,756.5 1582.0,731.7 1584.0,696.6 1584.5,689.2 1586.0,665.9 1588.0,635.6 1589.0,621.6 1590.0,607.6 1592.0,581.2 1593.5,565.3 1594.0,561.4 1596.0,548.8 1598.0,537.9 1599.1,531.5 1600.0,526.1 1602.0,513.9 1604.0,501.9 1604.8,497.7 1606.0,491.1 1608.0,480.9 1610.0,471.1 1611.5,464.0 1612.0,461.6 1614.0,452.4 1616.0,443.6 1618.0,435.6 1618.3,434.7 1620.0,428.6 1622.0,422.1 1623.9,418.9 1624.0,419.1 1626.0,425.3 1628.0,436.6 1630.0,449.1 1630.7,452.7 1632.0,460.5 1634.0,472.4 1636.0,484.8 1636.3,486.5 1638.0,497.7 1640.0,511.1 1642.0,524.6 1643.1,531.5 1644.0,538.1 1646.0,551.9 1648.0,565.4 1649.8,576.6 1650.0,577.8 1652.0,588.6 1654.0,598.8 1656.0,608.0 1656.6,610.4 1658.0,615.8 1660.0,622.7 1662.0,629.0 1663.3,632.9 1664.0,634.8 1666.0,640.1 1668.0,644.7 1669.0,646.4 1670.0,647.8 1672.0,650.1 1673.5,650.9 1674.0,650.3 1676.0,645.3 1678.0,637.5 1679.1,632.9 1680.0,627.1 1682.0,610.9 1683.6,599.1 1684.0,596.6 1686.0,585.7 1688.0,576.8 1688.1,576.6 1690.0,571.2 1692.0,566.6 1694.0,562.5 1694.9,560.8 1696.0,558.6 1698.0,554.9 1700.0,551.6 1701.6,549.5 1702.0,549.2 1704.0,547.4 1706.0,546.0 1708.0,545.1 1708.4,545.0 1710.0,545.8 1712.0,547.6 1714.0,550.2 1715.1,551.8 1716.0,554.2 1718.0,562.3 1720.0,572.6 1720.8,576.6 1722.0,585.3 1724.0,601.7 1726.0,618.7 1726.4,621.6 1728.0,634.7 1730.0,650.7 1732.0,666.7 1732.0,666.7 1734.0,683.4 1736.0,700.0 1737.7,711.7 1738.0,713.9 1740.0,725.1 1742.0,733.8 1742.2,734.2 1744.0,739.0 1745.5,741.0 1746.0,740.5 1748.0,735.3 1750.0,727.5 1751.2,723.0 1752.0,719.4 1754.0,710.5 1756.0,700.8 1758.0,690.0 1760.0,677.9 1760.0,677.7 1762.0,659.8 1764.0,638.5 1766.0,617.3 1766.8,610.4 1768.0,598.9 1770.0,581.1 1772.0,564.7 1773.5,554.1 1774.0,551.0 1776.0,540.0 1778.0,530.1 1780.0,521.3 1780.3,520.3 1782.0,513.6 1784.0,506.6 1786.0,500.4 1787.0,497.7 1788.0,495.4 1790.0,490.7 1792.0,487.0 1793.8,485.4 1794.0,485.6 1796.0,491.5 1798.0,501.5 1799.4,509.0 1800.0,513.1 1802.0,529.1 1804.0,546.3 1805.0,554.1 1806.0,560.6 1808.0,573.2 1810.0,584.5 1810.7,587.8 1812.0,593.9 1814.0,602.2 1816.0,609.5 1816.3,610.4 1818.0,615.8 1820.0,621.5 1821.9,625.0 1822.0,625.1 1824.0,626.2 1826.0,627.0 1827.6,627.3 1828.0,627.1 1830.0,625.0 1832.0,621.6 1833.2,619.4 1834.0,616.8 1836.0,608.3 1837.7,601.4 1838.0,600.2 1840.0,594.0 1842.0,588.3 1842.2,587.8 1844.0,583.4 1846.0,578.9 1848.0,574.5 1850.0,569.9 1850.1,569.8 1852.0,565.1 1854.0,560.1 1856.0,555.0 1858.0,550.0 1859.1,547.3 1860.0,544.9 1862.0,539.8 1864.0,534.7 1866.0,529.7 1868.0,524.9 1868.1,524.8 1870.0,520.6 1872.0,516.7 1872.6,515.8 1874.0,513.9 1876.0,511.8 1877.1,511.3 1878.0,513.1 1880.0,522.3 1881.6,531.5 1882.0,534.4 1884.0,551.9 1885.0,560.8 1886.0,571.0 1887.5,583.3 1888.0,586.0 1890.0,594.6 1892.0,600.3" stroke="#1e9bd7"/>
<path d="M312.0,589.0 314.0,589.0 316.0,589.0 318.0,589.0 320.0,589.0 322.0,589.0 324.0,589.0 326.0,589.0 328.0,589.0 330.0,589.0 332.0,589.0 334.0,589.0 336.0,589.0 338.0,589.0 340.0,589.0 342.0,589.0 344.0,589.0 346.0,589.0 348.0,589.0 350.0,589.0 352.0,589.0 354.0,589.0 356.0,589.0 358.0,589.0 360.0,589.0 362.0,589.0 364.0,589.0 366.0,589.0 368.0,589.0 370.0,589.0 372.0,589.0 374.0,589.0 376.0,589.0 378.0,589.0 380.0,589.0 380.0,589.0 382.0,589.0 384.0,589.0 386.0,589.0 388.0,589.0 390.0,589.0 392.0,589.0 394.0,589.0 396.0,589.0 398.0,589.0 399.5,589.0 400.0,589.1 402.0,590.0 404.0,591.4 406.0,593.2 408.0,595.2 410.0,597.3 412.0,599.4 414.0,601.3 416.0,602.7 418.0,603.7 418.9,603.9 420.0,602.4 422.0,597.8 424.0,590.8 426.0,581.9 428.0,571.5 430.0,559.8 432.0,547.2 434.0,534.2 436.0,521.0 438.0,508.0 440.0,495.5 442.0,484.0 444.0,473.8 446.0,465.2 448.0,458.6 450.0,454.4 450.8,453.5 452.0,457.1 454.0,467.2 456.0,482.0 458.0,500.8 460.0,522.9 462.0,547.7 464.0,574.5 466.0,602.7 468.0,631.6 470.0,660.5 472.0,688.7 474.0,715.7 476.0,740.8 478.0,763.2 480.0,782.4 482.0,797.6 484.0,808.3 485.5,812.7 486.0,811.8 488.0,806.5 490.0,798.8 492.0,788.9 494.0,777.0 496.0,763.1 498.0,747.6 500.0,730.5 502.0,712.1 504.0,692.6 506.0,672.0 508.0,650.7 510.0,628.7 512.0,606.2 514.0,583.5 516.0,560.7 518.0,538.0 520.0,515.6 522.0,493.6 524.0,472.2 526.0,451.7 528.0,432.1 530.0,413.7 532.0,396.6 534.0,381.1 536.0,367.2 538.0,355.2 540.0,345.3 542.0,337.6 544.0,332.4 544.6,331.3 546.0,334.9 548.0,342.8 550.0,353.7 552.0,367.4 554.0,383.7 556.0,402.1 558.0,422.5 560.0,444.7 562.0,468.2 564.0,492.9 566.0,518.5 568.0,544.8 570.0,571.3 572.0,598.0 574.0,624.4 576.0,650.4 578.0,675.7 580.0,700.0 582.0,723.0 584.0,744.4 586.0,764.0 588.0,781.6 590.0,796.8 592.0,809.4 594.0,819.1 596.0,825.6 596.6,826.9 598.0,822.7 600.0,813.0 602.0,799.2 604.0,781.9 606.0,761.4 608.0,738.1 610.0,712.6 612.0,685.3 614.0,656.5 616.0,626.8 618.0,596.6 620.0,566.3 622.0,536.4 624.0,507.2 626.0,479.3 628.0,453.1 630.0,428.9 632.0,407.4 634.0,388.8 636.0,373.6 638.0,362.3 640.0,355.4 640.2,355.0 642.0,360.3 644.0,369.4 646.0,381.6 648.0,396.6 650.0,414.3 652.0,434.3 654.0,456.3 656.0,480.0 658.0,505.1 660.0,531.4 662.0,558.5 664.0,586.1 666.0,614.0 668.0,641.9 670.0,669.5 672.0,696.5 674.0,722.6 676.0,747.4 678.0,770.8 680.0,792.4 682.0,812.0 684.0,829.2 686.0,843.7 688.0,855.3 690.0,863.7 691.5,867.6 692.0,866.0 694.0,855.3 696.0,837.9 698.0,814.9 700.0,787.4 702.0,756.6 704.0,723.6 706.0,689.4 708.0,655.3 710.0,622.3 712.0,591.6 714.0,564.2 716.0,541.2 718.0,523.9 720.0,513.3 720.5,511.9 722.0,514.8 724.0,523.0 726.0,533.8 728.0,545.1 730.0,554.4 732.0,559.5 732.2,559.6 734.0,556.1 736.0,548.8 738.0,538.6 740.0,526.2 742.0,512.5 744.0,498.0 746.0,483.4 748.0,469.6 750.0,457.2 752.0,447.0 754.0,439.5 755.9,435.8 756.0,435.9 758.0,439.8 760.0,446.2 762.0,455.0 764.0,465.6 766.0,477.7 768.0,491.0 770.0,505.0 772.0,519.4 774.0,533.9 776.0,548.1 778.0,561.6 780.0,573.8 780.0,574.0 782.0,587.1 784.0,601.6 786.0,616.5 788.0,630.8 790.0,643.6 792.0,653.7 794.0,660.3 794.2,660.5 796.0,662.2 798.0,663.7 800.0,664.9 802.0,665.7 803.0,665.8 804.0,665.3 806.0,663.0 808.0,660.3 810.0,658.8 810.1,658.8 812.0,662.2 814.0,669.1 816.0,678.4 818.0,688.8 820.0,699.1 822.0,708.4 824.0,715.4 826.0,718.9 826.0,718.9 828.0,713.6 830.0,703.9 832.0,690.7 834.0,674.6 836.0,656.4 838.0,636.9 840.0,616.8 842.0,596.8 844.0,577.7 846.0,560.3 848.0,545.2 850.0,533.3 852.0,525.2 853.3,522.5 854.0,523.3 856.0,528.7 858.0,536.7 860.0,544.9 862.0,551.0 863.2,552.6 864.0,551.9 866.0,548.2 868.0,542.7 870.0,536.3 872.0,530.4 874.0,525.9 875.6,524.2 876.0,524.9 878.0,530.6 880.0,540.2 882.0,552.7 884.0,566.9 886.0,581.9 888.0,596.5 890.0,609.6 892.0,620.1 894.0,626.9 895.0,628.7 896.0,627.5 898.0,622.5 900.0,614.8 902.0,605.4 904.0,595.2 906.0,585.0 908.0,575.8 910.0,568.5 912.0,564.0 912.7,563.2 914.0,566.7 916.0,577.7 918.0,593.8 920.0,612.9 922.0,633.2 924.0,652.8 926.0,669.6 928.0,681.8 929.7,687.1 930.0,686.4 932.0,677.9 934.0,663.5 936.0,644.3 938.0,621.5 940.0,596.1 942.0,569.1 944.0,541.7 946.0,515.0 948.0,489.9 950.0,467.7 952.0,449.3 953.5,439.3 954.0,436.5 956.0,427.0 958.0,417.8 960.0,409.2 962.0,401.4 964.0,394.9 966.0,389.9 968.0,386.8 968.7,386.2 970.0,388.1 972.0,393.7 974.0,401.7 976.0,411.1 978.0,420.7 978.2,421.6 980.0,433.2 982.0,448.6 984.0,466.2 986.0,485.8 988.0,507.1 990.0,529.7 992.0,553.4 994.0,578.0 996.0,603.0 998.0,628.2 1000.0,653.3 1002.0,678.0 1004.0,702.1 1006.0,725.1 1008.0,746.9 1010.0,767.1 1012.0,785.4 1014.0,801.6 1016.0,815.2 1018.0,826.2 1020.0,834.0 1021.4,837.5 1022.0,836.6 1024.0,832.1 1026.0,825.7 1028.0,817.6 1030.0,807.7 1032.0,796.3 1034.0,783.5 1036.0,769.5 1038.0,754.3 1040.0,738.1 1042.0,721.1 1044.0,703.3 1046.0,684.9 1048.0,666.1 1050.0,646.9 1052.0,627.5 1054.0,608.1 1056.0,588.8 1058.0,569.6 1060.0,550.8 1062.0,532.5 1064.0,514.8 1066.0,497.9 1068.0,481.8 1070.0,466.7 1072.0,452.8 1074.0,440.2 1076.0,428.9 1078.0,419.3 1080.0,411.3 1082.0,405.1 1084.0,400.9 1084.4,400.4 1086.0,403.5 1088.0,409.8 1090.0,418.5 1092.0,429.4 1094.0,442.1 1096.0,456.6 1098.0,472.5 1100.0,489.7 1102.0,507.8 1104.0,526.7 1106.0,546.1 1108.0,565.7 1110.0,585.4 1112.0,604.9 1114.0,623.9 1116.0,642.3 1118.0,659.7 1120.0,676.0 1122.0,690.9 1124.0,704.2 1126.0,715.6 1128.0,725.0 1130.0,731.9 1132.0,736.4 1132.2,736.6 1134.0,733.9 1136.0,729.0 1138.0,722.5 1140.0,714.4 1142.0,705.0 1144.0,694.4 1146.0,682.9 1148.0,670.5 1150.0,657.5 1152.0,644.0 1154.0,630.2 1156.0,616.4 1158.0,602.7 1160.0,589.2 1162.0,576.1 1164.0,563.7 1166.0,552.1 1168.0,541.4 1170.0,532.0 1172.0,523.8 1172.9,520.7 1174.0,517.6 1176.0,512.0 1178.0,506.4 1180.0,501.3 1182.0,496.8 1184.0,493.2 1186.0,490.8 1187.1,490.2 1188.0,491.0 1190.0,494.4 1192.0,499.6 1194.0,506.1 1196.0,513.8 1198.0,522.1 1200.0,530.7 1202.0,539.1 1204.0,547.1 1206.0,554.2 1208.0,560.0 1210.0,564.2 1211.9,566.3 1212.0,566.2 1214.0,563.1 1216.0,557.4 1218.0,550.4 1220.0,543.4 1222.0,537.7 1224.0,534.6 1224.2,534.4 1226.0,537.7 1228.0,544.3 1230.0,553.5 1232.0,564.8 1234.0,577.9 1236.0,592.1 1238.0,607.1 1240.0,622.4 1242.0,637.5 1244.0,652.0 1246.0,665.4 1248.0,677.2 1250.0,687.0 1252.0,694.3 1254.0,698.7 1254.3,699.0 1256.0,694.3 1258.0,684.6 1260.0,670.8 1262.0,653.8 1264.0,634.1 1266.0,612.4 1268.0,589.3 1270.0,565.5 1272.0,541.6 1274.0,518.3 1276.0,496.2 1278.0,476.0 1280.0,458.3 1282.0,443.8 1284.0,433.0 1286.0,426.7 1286.2,426.5 1288.0,429.7 1290.0,434.9 1292.0,441.7 1294.0,450.0 1296.0,459.7 1298.0,470.7 1300.0,482.8 1302.0,495.9 1304.0,509.9 1306.0,524.7 1308.0,540.3 1310.0,556.3 1312.0,572.8 1314.0,589.7 1316.0,606.7 1318.0,623.8 1320.0,641.0 1322.0,657.9 1324.0,674.6 1326.0,690.9 1328.0,706.7 1330.0,721.9 1332.0,736.4 1334.0,750.0 1335.8,761.0 1336.0,762.7 1338.0,775.2 1340.0,788.0 1342.0,799.5 1344.0,808.6 1344.6,810.5 1346.0,813.8 1348.0,818.0 1350.0,821.4 1352.0,823.8 1353.5,824.7 1354.0,824.5 1356.0,823.2 1358.0,821.0 1360.0,818.1 1362.0,814.6 1364.0,810.6 1364.1,810.5 1366.0,801.5 1368.0,788.2 1370.0,771.6 1372.0,752.7 1374.0,732.4 1374.7,725.6 1376.0,707.3 1378.0,675.2 1380.0,638.8 1382.0,599.8 1384.0,560.0 1386.0,521.1 1386.1,520.3 1388.0,481.6 1390.0,441.2 1390.6,430.2 1392.0,399.7 1394.0,358.3 1395.1,340.1 1396.0,327.6 1398.0,304.9 1399.1,295.0 1400.0,289.1 1402.0,277.4 1403.6,272.5 1404.0,273.0 1406.0,279.0 1408.0,288.7 1409.3,295.0 1410.0,299.5 1412.0,313.1 1414.0,328.3 1415.6,340.1 1416.0,343.5 1418.0,358.3 1420.0,374.3 1421.2,385.1 1422.0,395.4 1424.0,423.8 1424.6,430.2 1426.0,441.1 1428.0,452.9 1430.0,464.9 1431.4,475.2 1432.0,483.0 1434.0,511.8 1435.2,531.5 1436.0,552.1 1437.4,587.8 1438.0,599.4 1440.0,633.3 1440.8,644.1 1442.0,658.7 1444.0,679.4 1445.3,685.8 1446.0,683.8 1448.0,670.4 1449.8,655.4 1450.0,653.5 1452.0,633.5 1454.0,613.0 1454.3,610.4 1456.0,595.8 1458.0,580.8 1458.8,576.6 1460.0,572.5 1462.0,567.3 1463.3,565.3 1464.0,565.0 1466.0,564.4 1466.7,564.2 1468.0,563.6 1470.0,562.6 1472.0,562.0 1472.3,561.9 1474.0,563.8 1476.0,567.6 1478.0,569.8 1478.0,569.8 1480.0,568.5 1482.0,566.0 1482.5,565.3 1484.0,559.3 1486.0,547.9 1487.0,542.8 1488.0,537.4 1490.0,527.1 1491.5,520.3 1492.0,517.9 1494.0,508.9 1496.0,501.8 1497.1,500.0 1498.0,501.9 1500.0,511.2 1501.6,520.3 1502.0,522.9 1504.0,538.4 1506.0,553.5 1506.1,554.1 1508.0,564.6 1510.0,574.5 1511.8,581.1 1512.0,581.8 1514.0,586.5 1516.0,590.3 1517.4,592.3 1518.0,593.0 1520.0,595.1 1522.0,596.5 1523.0,596.8 1524.0,596.5 1526.0,594.9 1528.0,593.2 1529.8,592.3 1530.0,592.4 1532.0,594.6 1534.0,598.3 1535.4,601.4 1536.0,603.4 1538.0,612.3 1539.9,621.6 1540.0,622.2 1542.0,631.8 1544.0,641.5 1546.0,651.9 1546.7,655.4 1548.0,663.9 1550.0,677.2 1552.0,691.0 1553.4,700.5 1554.0,704.5 1556.0,717.7 1558.0,730.9 1560.0,744.5 1560.2,745.5 1562.0,760.0 1564.0,775.3 1564.7,779.3 1566.0,786.1 1568.0,795.2 1569.9,799.5 1570.0,799.4 1572.0,797.0 1574.0,792.6 1576.0,786.3 1578.0,778.0 1580.0,768.0 1580.0,767.7 1582.0,730.9 1583.4,700.5 1584.0,687.0 1586.0,645.9 1586.8,632.9 1588.0,614.8 1590.0,589.2 1590.1,587.8 1592.0,560.3 1593.5,542.8 1594.0,539.4 1596.0,529.7 1598.0,520.3 1598.0,520.2 1600.0,505.9 1602.0,490.2 1602.5,486.5 1604.0,474.9 1606.0,459.8 1607.0,452.7 1608.0,446.2 1610.0,434.0 1612.0,422.4 1612.7,418.9 1614.0,411.7 1616.0,401.7 1617.2,396.4 1618.0,392.4 1620.0,383.5 1621.7,378.4 1622.0,377.8 1624.0,375.3 1626.0,373.9 1626.2,373.9 1628.0,378.0 1630.0,386.6 1630.7,389.6 1632.0,400.0 1634.0,419.6 1635.2,430.2 1636.0,437.0 1638.0,452.2 1639.7,464.0 1640.0,466.2 1642.0,478.5 1644.0,490.2 1645.3,497.7 1646.0,502.1 1648.0,514.1 1650.0,526.1 1650.9,531.5 1652.0,537.8 1654.0,549.1 1656.0,561.5 1656.6,565.3 1658.0,579.4 1660.0,599.1 1660.0,599.8 1662.0,615.6 1664.0,630.0 1664.5,632.9 1666.0,643.4 1668.0,655.5 1669.0,659.9 1670.0,663.6 1672.0,670.0 1674.0,674.1 1674.6,674.5 1676.0,672.2 1678.0,665.4 1680.0,656.3 1680.2,655.4 1682.0,639.8 1684.0,617.7 1684.7,610.4 1686.0,596.1 1688.0,577.0 1688.1,576.6 1690.0,568.7 1692.0,562.5 1692.6,560.8 1694.0,556.9 1696.0,551.9 1698.0,547.7 1698.2,547.3 1700.0,544.6 1702.0,542.0 1703.9,540.5 1704.0,540.5 1706.0,540.0 1708.0,539.7 1710.0,539.4 1710.6,539.4 1712.0,539.9 1714.0,541.6 1715.1,542.8 1716.0,545.0 1718.0,552.8 1719.6,560.8 1720.0,563.3 1722.0,579.1 1724.0,598.0 1724.1,599.1 1726.0,621.5 1728.0,647.6 1728.6,655.4 1730.0,673.1 1732.0,698.4 1733.2,711.7 1734.0,721.2 1736.0,741.6 1737.7,756.8 1738.0,759.9 1740.0,776.2 1742.0,789.8 1742.2,790.5 1744.0,799.9 1745.5,804.1 1746.0,803.6 1748.0,798.4 1750.0,790.6 1750.0,790.5 1752.0,776.8 1754.0,758.3 1756.0,736.6 1758.0,712.9 1760.0,689.2 1760.0,688.7 1762.0,659.4 1764.0,628.3 1764.5,621.6 1766.0,601.5 1768.0,576.7 1769.0,565.3 1770.0,554.3 1772.0,534.0 1773.5,520.3 1774.0,516.0 1776.0,500.9 1778.0,486.5 1778.0,486.4 1780.0,471.2 1782.0,456.2 1782.5,452.7 1784.0,441.8 1785.9,430.2 1786.0,429.6 1788.0,422.0 1789.3,418.9 1790.0,418.1 1792.0,416.3 1793.8,415.5 1794.0,415.7 1796.0,418.2 1798.0,422.8 1798.3,423.4 1800.0,432.3 1802.0,446.9 1802.8,452.7 1804.0,464.3 1806.0,485.1 1806.2,486.5 1808.0,504.7 1810.0,524.7 1810.7,531.5 1812.0,548.1 1814.0,574.0 1815.2,587.8 1816.0,597.2 1818.0,618.1 1819.7,632.9 1820.0,635.4 1822.0,648.9 1823.1,653.2 1824.0,654.6 1826.0,656.9 1827.6,657.7 1828.0,657.4 1830.0,654.9 1832.0,651.0 1832.1,650.9 1834.0,644.1 1836.0,635.3 1836.6,632.9 1838.0,625.9 1840.0,615.8 1841.1,610.4 1842.0,605.0 1844.0,594.1 1844.5,592.3 1846.0,588.1 1848.0,583.6 1849.0,581.1 1850.0,577.1 1852.0,568.5 1852.8,565.3 1854.0,560.3 1855.7,554.1 1856.0,553.1 1858.0,548.0 1860.0,543.3 1860.2,542.8 1862.0,538.5 1864.0,533.5 1864.7,531.5 1866.0,526.6 1868.0,518.0 1869.2,513.5 1870.0,511.2 1872.0,505.9 1873.7,502.3 1874.0,501.8 1876.0,498.8 1878.0,496.8 1878.2,496.6 1880.0,496.0 1882.0,495.6 1882.7,495.5 1884.0,496.4 1886.0,499.1 1886.6,500.0 1888.0,503.4 1890.0,509.4 1892.0,516.8" stroke="#00417a"/>
</g>
<g shape-rendering="crispEdges">
<rect x="311" y="60" width="1574" height="5" fill="#000"/>
<rect x="310" y="62.5" width="5" height="1056.5" fill="#bfbfbf"/>
<rect x="310" y="1114" width="1574" height="5" fill="#bfbfbf"/>
<rect x="310" y="1117" width="2" height="1" fill="#000"/>
</g>
<text transform="translate(145.56 87.20) scale(0.9830 1.0000)" font-family="'Liberation Sans', Arial, sans-serif" font-size="76.50" stroke="#000" stroke-width="0.20">0.6</text>
<text transform="translate(144.46 262.47) scale(0.9830 1.0000)" font-family="'Liberation Sans', Arial, sans-serif" font-size="76.50" stroke="#000" stroke-width="0.20">0.4</text>
<text transform="translate(146.04 437.73) scale(0.9830 1.0000)" font-family="'Liberation Sans', Arial, sans-serif" font-size="76.50" stroke="#000" stroke-width="0.20">0.2</text>
<text transform="translate(207.91 613.00) scale(0.9830 1.0000)" font-family="'Liberation Sans', Arial, sans-serif" font-size="76.50" stroke="#000" stroke-width="0.20">0</text>
<text transform="translate(121.00 788.27) scale(0.9830 1.0000)" font-family="'Liberation Sans', Arial, sans-serif" font-size="76.50" stroke="#000" stroke-width="0.20">-0.2</text>
<text transform="translate(119.42 963.53) scale(0.9830 1.0000)" font-family="'Liberation Sans', Arial, sans-serif" font-size="76.50" stroke="#000" stroke-width="0.20">-0.4</text>
<text transform="translate(120.52 1138.80) scale(0.9830 1.0000)" font-family="'Liberation Sans', Arial, sans-serif" font-size="76.50" stroke="#000" stroke-width="0.20">-0.6</text>
<text transform="translate(271.18 1227.00) scale(0.9830 1.0000)" font-family="'Liberation Sans', Arial, sans-serif" font-size="76.50" stroke="#000" stroke-width="0.20">50</text>
<text transform="translate(584.18 1227.00) scale(0.9830 1.0000)" font-family="'Liberation Sans', Arial, sans-serif" font-size="76.50" stroke="#000" stroke-width="0.20">70</text>
<text transform="translate(897.68 1227.00) scale(0.9830 1.0000)" font-family="'Liberation Sans', Arial, sans-serif" font-size="76.50" stroke="#000" stroke-width="0.20">90</text>
<text transform="translate(1193.26 1227.00) scale(0.9830 1.0000)" font-family="'Liberation Sans', Arial, sans-serif" font-size="76.50" stroke="#000" stroke-width="0.20">110</text>
<text transform="translate(1506.76 1227.00) scale(0.9830 1.0000)" font-family="'Liberation Sans', Arial, sans-serif" font-size="76.50" stroke="#000" stroke-width="0.20">130</text>
<text transform="translate(1821.36 1227.00) scale(0.9830 1.0000)" font-family="'Liberation Sans', Arial, sans-serif" font-size="76.50" stroke="#000" stroke-width="0.20">150</text>
<text transform="translate(90.90 748.14) rotate(-90)" font-family="'Liberation Sans', Arial, sans-serif" font-size="73.50" letter-spacing="-1.654" stroke="#000" stroke-width="0.20">Amplitude</text>
<text transform="translate(944.13 1328.00) scale(0.9850 1.0000)" font-family="'Liberation Sans', Arial, sans-serif" font-size="75.50" letter-spacing="-4.359" stroke="#000" stroke-width="0.20">Time</text>
<text transform="translate(1129.49 1328.00) scale(0.9850 1.0000)" font-family="'Liberation Sans', Arial, sans-serif" font-size="75.50" letter-spacing="-2.145" stroke="#000" stroke-width="0.20">(μs)</text>
<text transform="translate(932.24 1487.61) scale(0.7865 0.8591)" font-family="'Liberation Serif', 'Times New Roman', serif" font-size="100.00" stroke="#000" stroke-width="0.25">(</text>
<text transform="translate(959.25 1487.94) scale(0.8219 0.8789)" font-family="'Liberation Serif', 'Times New Roman', serif" font-size="100.00" font-weight="bold" stroke="#000" stroke-width="0.24">a</text>
<text transform="translate(1000.35 1487.61) scale(0.7904 0.8591)" font-family="'Liberation Serif', 'Times New Roman', serif" font-size="100.00" stroke="#000" stroke-width="0.25">)</text>
<g shape-rendering="crispEdges">
<rect x="283" y="1800" width="1607" height="5" fill="#d9d9d9"/>
<rect x="283" y="1969" width="1607" height="4" fill="#d9d9d9"/>
<rect x="283" y="2138" width="1607" height="4" fill="#d9d9d9"/>
<rect x="283" y="2306" width="1607" height="5" fill="#d9d9d9"/>
<rect x="283" y="2478" width="1607" height="5" fill="#d9d9d9"/>
<rect x="604" y="1631" width="5" height="1021" fill="#d9d9d9"/>
<rect x="925" y="1631" width="5" height="1021" fill="#d9d9d9"/>
<rect x="1243" y="1631" width="5" height="1021" fill="#d9d9d9"/>
<rect x="1565" y="1631" width="4" height="1021" fill="#d9d9d9"/>
</g>
<clipPath id="cb"><rect x="285" y="1631" width="1607" height="1021"/></clipPath>
<g clip-path="url(#cb)" fill="none" stroke-width="7.0" stroke-linejoin="round" stroke-linecap="butt" shape-rendering="crispEdges">
<path d="M284.2,2141.1 286.2,2141.1 288.2,2141.1 290.2,2141.1 292.2,2141.1 294.2,2141.1 296.2,2141.1 298.2,2141.1 300.2,2141.1 302.2,2141.1 304.2,2141.1 306.2,2141.1 308.2,2141.1 308.3,2141.1 310.2,2141.2 312.2,2141.4 314.2,2141.6 316.2,2142.0 318.2,2142.3 320.2,2142.6 322.2,2142.9 324.2,2143.1 326.0,2143.2 326.2,2143.2 328.2,2143.1 330.2,2143.0 332.2,2142.8 334.2,2142.6 336.2,2142.4 338.2,2142.2 340.2,2141.9 342.2,2141.6 344.2,2141.3 346.2,2141.1 348.2,2140.8 350.2,2140.5 352.2,2140.3 354.2,2140.1 356.2,2139.9 358.2,2139.8 360.2,2139.7 361.4,2139.6 362.2,2139.8 364.2,2140.3 366.2,2141.2 368.2,2142.3 370.2,2143.6 372.2,2145.0 374.2,2146.5 376.2,2148.0 378.2,2149.4 380.2,2150.6 382.2,2151.6 384.2,2152.4 386.2,2152.7 386.2,2152.7 388.2,2152.2 390.2,2151.2 392.2,2149.8 394.2,2148.1 396.2,2146.4 398.2,2144.5 400.2,2142.8 402.2,2141.3 404.2,2140.0 406.2,2139.2 407.4,2138.9 408.2,2139.0 410.2,2139.5 412.2,2140.2 414.2,2141.1 416.2,2142.2 418.2,2143.3 420.2,2144.4 422.2,2145.4 424.2,2146.3 426.2,2147.0 428.2,2147.4 428.7,2147.4 430.2,2145.2 432.2,2139.8 434.2,2132.1 436.2,2122.6 438.2,2111.9 440.2,2100.5 442.2,2089.0 444.2,2078.0 446.2,2067.9 448.2,2059.3 450.2,2052.8 452.2,2048.8 452.7,2048.3 454.2,2053.3 456.2,2064.7 458.2,2080.9 460.2,2101.2 462.2,2125.0 464.2,2151.5 466.2,2180.2 468.2,2210.2 470.2,2241.1 472.2,2271.9 474.2,2302.2 476.2,2331.2 478.2,2358.2 480.2,2382.6 482.2,2403.6 484.2,2420.7 486.2,2433.0 488.1,2439.8 488.2,2439.4 490.2,2424.9 492.2,2400.5 494.2,2367.4 496.2,2326.8 498.2,2280.0 500.2,2228.3 502.2,2172.8 504.2,2114.9 506.2,2055.8 508.2,1996.7 510.2,1938.9 512.2,1883.6 514.2,1832.1 516.2,1785.6 518.2,1745.4 520.2,1712.7 522.2,1688.8 524.2,1674.9 524.2,1674.9 526.2,1693.8 528.2,1730.2 530.2,1774.5 532.2,1817.1 533.1,1832.4 534.2,1850.4 536.2,1880.2 538.2,1909.5 540.2,1938.6 540.2,1939.7 542.2,1972.7 544.2,2006.6 546.2,2039.5 547.3,2055.0 548.2,2069.1 550.2,2097.1 552.2,2124.1 554.2,2149.5 556.2,2172.8 556.8,2178.9 558.2,2192.9 560.2,2212.7 562.2,2232.7 564.2,2252.8 566.2,2272.6 568.2,2292.1 570.2,2311.0 572.2,2329.0 574.2,2346.0 576.2,2361.8 578.2,2376.2 580.2,2388.9 582.2,2399.7 584.2,2408.5 586.2,2415.0 588.0,2418.6 588.2,2418.0 590.2,2412.4 592.2,2403.7 594.2,2392.4 596.2,2378.5 598.2,2362.4 600.2,2344.2 602.2,2324.3 604.2,2303.0 606.2,2280.3 608.2,2256.6 610.2,2232.2 612.2,2207.2 614.2,2181.9 616.2,2156.7 618.2,2131.6 620.2,2107.0 622.2,2083.1 624.2,2060.1 626.2,2038.4 628.2,2018.1 630.2,1999.4 632.2,1982.8 634.2,1968.3 636.2,1956.2 638.2,1946.8 640.2,1940.3 641.1,1938.6 642.2,1940.1 644.2,1943.8 646.2,1948.8 648.2,1955.1 650.2,1962.6 652.2,1971.1 654.2,1980.7 656.2,1991.1 658.2,2002.4 660.2,2014.5 662.2,2027.1 664.2,2040.3 666.2,2054.0 668.2,2068.1 670.2,2082.4 672.2,2097.0 674.2,2111.6 676.2,2126.3 678.2,2140.9 680.2,2155.3 682.2,2169.5 684.2,2183.4 686.2,2196.8 688.2,2209.7 690.2,2222.1 692.2,2233.7 694.2,2244.5 696.2,2254.5 698.2,2263.5 700.2,2271.5 702.2,2278.3 704.2,2283.9 706.2,2288.2 708.2,2291.1 708.3,2291.2 710.2,2285.8 712.2,2276.9 714.2,2264.9 716.2,2250.1 718.2,2232.7 720.2,2213.2 722.2,2191.7 724.2,2168.6 726.2,2144.1 728.2,2118.6 730.2,2092.3 732.2,2065.6 734.2,2038.7 736.2,2011.9 738.2,1985.5 740.2,1959.8 742.2,1935.1 744.2,1911.6 746.2,1889.8 748.2,1869.8 750.2,1852.0 752.2,1836.7 754.2,1824.1 756.2,1814.5 758.2,1808.3 758.6,1807.6 760.2,1814.6 762.2,1827.6 764.2,1845.3 766.2,1867.3 768.2,1893.2 770.2,1922.5 772.2,1955.0 774.2,1990.2 776.2,2027.7 778.2,2067.0 780.2,2107.9 782.2,2149.8 784.2,2192.5 786.2,2235.4 788.2,2278.2 790.2,2320.4 792.2,2361.8 794.2,2401.8 796.2,2440.1 798.2,2476.3 800.2,2510.0 802.2,2540.7 804.2,2568.1 806.2,2591.8 808.2,2611.3 810.2,2626.3 812.2,2636.4 812.7,2638.1 814.2,2629.8 816.2,2612.4 818.2,2588.2 820.2,2558.0 822.2,2522.3 824.2,2481.7 826.2,2436.9 828.2,2388.6 830.2,2337.3 832.2,2283.8 834.2,2228.5 836.2,2172.2 838.2,2115.5 840.2,2059.1 842.2,2003.5 844.2,1949.4 846.2,1897.4 848.2,1848.2 850.2,1802.4 852.2,1760.6 854.2,1723.5 856.2,1691.7 858.2,1665.8 860.2,1646.5 862.2,1634.4 862.3,1634.2 864.2,1643.8 866.2,1660.2 868.2,1682.4 870.2,1709.9 872.2,1741.9 874.2,1777.9 876.2,1817.1 878.2,1859.0 880.2,1902.8 882.2,1948.1 884.2,1994.0 886.2,2040.0 888.2,2085.3 890.2,2129.5 892.2,2171.8 894.2,2211.5 896.2,2248.1 898.2,2280.9 900.2,2309.2 902.2,2332.4 904.2,2349.8 906.2,2360.9 906.5,2361.9 908.2,2360.3 910.2,2356.5 912.2,2352.1 914.2,2348.7 915.4,2347.8 916.2,2348.5 918.2,2352.4 920.2,2357.8 922.2,2362.8 924.2,2365.5 924.2,2365.5 926.2,2356.4 928.2,2340.2 930.2,2317.9 932.2,2290.7 934.2,2259.6 936.2,2225.8 938.2,2190.3 940.2,2154.3 942.2,2118.7 944.2,2084.8 946.2,2053.6 948.2,2026.2 950.2,2003.7 952.2,1987.2 954.2,1977.8 954.3,1977.5 956.2,1982.1 958.2,1991.4 960.2,2003.8 962.2,2017.9 964.2,2031.9 966.2,2044.5 968.2,2054.0 970.2,2058.9 970.3,2058.9 972.2,2056.4 974.2,2051.5 976.2,2045.1 978.2,2038.1 980.2,2031.6 982.2,2026.4 984.2,2023.6 984.4,2023.5 986.2,2026.9 988.2,2032.9 990.2,2040.9 992.2,2050.8 994.2,2062.4 996.2,2075.6 998.2,2090.1 1000.2,2105.7 1002.2,2122.3 1004.2,2139.6 1006.2,2157.5 1008.2,2175.8 1010.2,2194.2 1012.2,2212.6 1014.2,2230.8 1016.2,2248.7 1018.2,2265.9 1020.2,2282.3 1022.2,2297.8 1024.2,2312.1 1026.2,2325.0 1028.2,2336.4 1030.2,2346.0 1032.2,2353.7 1034.2,2359.3 1035.8,2361.9 1036.2,2361.4 1038.2,2357.9 1040.2,2352.6 1042.2,2345.8 1044.2,2337.5 1046.2,2328.0 1048.2,2317.4 1050.2,2306.0 1052.2,2293.9 1054.2,2281.3 1056.2,2268.3 1058.2,2255.2 1060.2,2242.2 1062.2,2229.3 1064.2,2216.9 1065.9,2206.8 1066.2,2205.0 1068.2,2192.5 1070.2,2179.2 1071.9,2167.2 1072.2,2164.1 1074.2,2145.0 1076.2,2124.0 1076.8,2117.7 1078.2,2101.6 1080.2,2077.6 1081.8,2058.3 1082.2,2052.1 1084.2,2023.7 1086.2,1995.4 1086.7,1989.0 1088.2,1969.6 1090.2,1944.5 1092.2,1923.4 1092.7,1919.7 1094.2,1908.6 1096.2,1896.9 1097.6,1893.0 1098.2,1893.7 1100.2,1899.3 1102.2,1908.2 1102.6,1909.8 1104.2,1925.7 1106.2,1952.1 1107.5,1969.2 1108.2,1979.0 1110.2,2008.1 1112.2,2035.7 1112.5,2038.5 1114.2,2058.8 1116.2,2079.2 1117.4,2088.0 1118.2,2091.6 1120.2,2098.5 1122.2,2104.3 1123.4,2107.8 1124.2,2110.7 1126.2,2116.8 1128.2,2123.5 1129.3,2127.6 1130.2,2132.6 1132.2,2145.1 1134.2,2159.6 1135.2,2167.2 1136.2,2176.0 1138.2,2195.6 1140.2,2216.6 1141.2,2226.6 1142.2,2238.5 1144.2,2261.7 1146.2,2285.5 1147.1,2295.9 1148.2,2310.5 1150.2,2338.0 1152.1,2355.3 1152.2,2356.0 1154.2,2362.5 1156.2,2366.5 1157.0,2367.2 1158.2,2364.7 1160.2,2355.6 1162.0,2345.4 1162.2,2343.3 1164.2,2322.2 1166.2,2295.5 1166.9,2286.0 1168.2,2264.2 1170.2,2227.7 1170.9,2216.7 1172.2,2195.4 1174.2,2165.8 1174.9,2157.3 1176.2,2139.2 1178.2,2114.8 1179.8,2097.9 1180.2,2093.9 1182.2,2077.6 1184.2,2062.3 1184.8,2058.3 1186.2,2046.5 1188.2,2030.7 1189.7,2018.7 1190.2,2013.9 1192.2,1995.0 1194.2,1976.6 1194.7,1973.2 1196.2,1960.3 1198.2,1947.0 1198.6,1945.4 1200.2,1941.6 1202.2,1938.7 1202.6,1938.5 1204.2,1941.8 1206.2,1949.5 1207.5,1955.3 1208.2,1960.0 1210.2,1976.7 1212.2,1996.6 1212.5,1998.9 1214.2,2019.8 1216.2,2045.9 1216.4,2048.4 1218.2,2075.2 1220.2,2105.6 1220.4,2107.8 1222.2,2137.8 1224.2,2162.6 1224.4,2163.3 1226.2,2167.9 1228.2,2171.1 1228.3,2171.2 1230.2,2173.4 1232.2,2175.5 1233.3,2177.1 1234.2,2181.3 1236.2,2194.7 1238.2,2206.8 1238.2,2206.9 1240.2,2213.6 1242.2,2219.4 1244.2,2224.4 1246.2,2229.2 1248.2,2234.0 1250.0,2238.5 1250.2,2239.2 1252.2,2245.7 1254.2,2252.5 1256.2,2258.0 1257.9,2260.3 1258.2,2260.1 1260.2,2257.2 1262.2,2252.5 1264.2,2248.2 1265.8,2246.4 1266.2,2246.5 1268.2,2247.4 1270.2,2249.0 1271.8,2250.4 1272.2,2251.2 1274.2,2257.0 1276.2,2264.5 1278.2,2270.9 1279.7,2273.2 1280.2,2272.9 1282.2,2270.4 1284.2,2266.3 1286.2,2260.8 1287.6,2256.3 1288.2,2252.6 1290.2,2233.6 1292.2,2210.5 1292.6,2206.8 1294.2,2186.1 1296.2,2160.7 1296.5,2157.3 1298.2,2139.1 1300.2,2119.9 1300.5,2117.7 1302.2,2104.9 1304.2,2091.7 1305.4,2084.1 1306.2,2079.1 1308.2,2067.0 1310.2,2055.2 1310.4,2054.4 1312.2,2043.3 1314.2,2031.9 1315.3,2026.6 1316.2,2023.4 1318.2,2016.8 1320.2,2011.3 1321.3,2008.8 1322.2,2007.0 1324.2,2003.5 1326.2,2000.4 1328.2,1997.9 1329.2,1996.9 1330.2,1996.2 1332.2,1994.9 1334.2,1993.8 1336.2,1993.1 1337.1,1993.0 1338.2,1993.0 1340.2,1993.2 1342.2,1993.4 1344.2,1993.8 1345.0,1994.0 1346.2,1996.6 1348.2,2005.1 1349.0,2008.8 1350.2,2017.2 1352.2,2034.2 1354.0,2048.4 1354.2,2050.5 1356.2,2064.3 1358.2,2077.5 1359.9,2088.0 1360.2,2090.1 1362.2,2101.7 1364.2,2113.0 1366.2,2124.2 1366.8,2127.6 1368.2,2136.1 1370.2,2148.2 1372.2,2160.2 1372.8,2163.3 1374.2,2171.6 1376.2,2182.7 1378.2,2194.2 1378.7,2196.9 1380.2,2206.8 1382.2,2220.2 1384.2,2233.8 1384.7,2236.5 1386.2,2247.6 1388.2,2261.7 1390.2,2274.2 1390.6,2276.1 1392.2,2284.5 1394.2,2293.2 1395.5,2295.9 1396.2,2295.2 1398.2,2290.0 1400.2,2281.9 1401.5,2276.1 1402.2,2270.7 1404.2,2250.6 1406.2,2228.5 1406.4,2226.6 1408.2,2207.4 1410.2,2188.2 1410.4,2187.0 1412.2,2176.5 1414.2,2167.1 1416.2,2157.8 1416.3,2157.3 1418.2,2147.8 1420.2,2137.8 1422.2,2127.8 1422.3,2127.6 1424.2,2117.9 1426.2,2108.1 1428.2,2097.9 1428.2,2097.8 1430.2,2086.1 1432.2,2073.9 1433.2,2068.2 1434.2,2061.0 1436.2,2046.0 1438.2,2032.5 1440.0,2024.7 1440.2,2024.2 1442.2,2020.9 1444.2,2018.2 1446.2,2016.2 1448.2,2015.0 1448.9,2014.8 1450.2,2016.4 1452.2,2021.3 1454.2,2028.2 1456.2,2036.2 1456.8,2038.5 1458.2,2046.5 1460.2,2060.8 1462.2,2076.5 1463.8,2088.0 1464.2,2091.6 1466.2,2106.8 1468.2,2122.1 1470.2,2137.2 1471.7,2147.4 1472.2,2151.2 1474.2,2164.3 1476.2,2176.9 1478.2,2189.1 1479.6,2196.9 1480.2,2200.4 1482.2,2211.0 1484.2,2221.1 1486.2,2230.7 1487.5,2236.5 1488.2,2239.6 1490.2,2248.3 1492.2,2256.6 1494.2,2263.3 1495.4,2266.2 1496.2,2267.4 1498.2,2270.0 1500.2,2272.1 1502.2,2273.1 1502.4,2273.2 1504.2,2270.9 1506.2,2266.1 1508.2,2259.9 1509.3,2256.3 1510.2,2251.7 1512.2,2238.6 1514.2,2223.7 1515.2,2216.7 1516.2,2210.0 1518.2,2196.2 1520.2,2182.9 1521.2,2177.1 1522.2,2171.4 1524.2,2161.1 1526.2,2151.5 1527.1,2147.4 1528.2,2142.5 1530.2,2134.0 1532.1,2127.6 1532.2,2127.2 1534.2,2122.6 1536.2,2118.9 1537.0,2117.7 1538.2,2116.7 1540.2,2115.4 1542.0,2113.8 1542.2,2113.1 1544.2,2104.7 1546.2,2092.5 1546.9,2088.0 1548.2,2076.5 1550.2,2055.5 1551.9,2038.5 1552.2,2035.1 1554.2,2016.3 1556.2,1998.2 1557.8,1985.0 1558.2,1981.9 1560.2,1967.0 1562.2,1953.6 1563.8,1945.4 1564.2,1943.5 1566.2,1936.0 1568.2,1931.0 1568.7,1930.6 1570.2,1931.9 1572.2,1935.6 1574.2,1940.4 1574.7,1941.5 1576.2,1948.3 1578.2,1960.1 1579.6,1969.2 1580.2,1974.5 1582.2,1994.4 1584.2,2015.6 1584.6,2018.7 1586.2,2035.4 1588.2,2055.1 1590.2,2075.5 1590.5,2078.1 1592.2,2098.2 1594.2,2122.2 1596.2,2145.4 1596.4,2147.4 1598.2,2166.1 1600.2,2185.8 1602.2,2205.5 1602.4,2206.8 1604.2,2225.5 1606.2,2245.5 1608.2,2265.5 1608.3,2266.2 1610.2,2286.4 1612.2,2307.3 1614.2,2325.6 1614.3,2325.6 1616.2,2340.6 1618.2,2354.3 1620.2,2362.4 1620.5,2362.8 1622.2,2360.2 1624.2,2354.7 1626.2,2346.9 1628.2,2337.4 1630.2,2326.7 1632.2,2315.2 1633.9,2305.8 1634.2,2303.1 1636.2,2285.9 1638.2,2265.4 1640.2,2243.4 1641.8,2226.6 1642.2,2221.4 1644.2,2198.6 1646.2,2174.9 1648.2,2150.6 1650.2,2125.8 1651.7,2107.8 1652.2,2100.6 1654.2,2074.7 1656.2,2047.9 1657.6,2028.6 1658.2,2018.8 1660.2,1983.4 1662.2,1953.0 1662.6,1949.4 1664.2,1936.3 1666.2,1926.1 1666.5,1925.6 1668.2,1925.8 1670.2,1926.2 1672.2,1926.8 1674.2,1927.4 1676.2,1928.2 1677.4,1928.6 1678.2,1929.1 1680.2,1930.6 1682.2,1932.4 1684.2,1934.0 1685.3,1934.6 1686.2,1934.8 1688.2,1935.1 1690.2,1935.5 1690.3,1935.5 1692.2,1940.5 1694.2,1949.4 1694.3,1949.4 1696.2,1967.1 1698.2,1989.0 1698.2,1989.3 1700.2,2012.7 1702.2,2037.2 1703.2,2048.4 1704.2,2061.1 1706.2,2084.4 1708.1,2107.8 1708.2,2109.7 1710.2,2141.2 1712.2,2174.3 1713.1,2187.0 1714.2,2203.8 1716.2,2231.3 1718.2,2257.0 1719.0,2266.2 1720.2,2280.0 1722.2,2301.7 1724.2,2321.9 1726.2,2339.9 1726.9,2345.4 1728.2,2354.6 1730.2,2368.0 1732.2,2379.1 1733.9,2385.0 1734.2,2385.7 1736.2,2388.9 1738.2,2391.1 1739.8,2392.0 1740.2,2391.8 1742.2,2389.3 1744.2,2385.1 1745.7,2381.1 1746.2,2378.5 1748.2,2362.0 1750.2,2340.4 1750.7,2335.5 1752.2,2316.2 1754.2,2287.9 1755.6,2266.2 1756.2,2255.2 1758.2,2213.6 1759.6,2187.0 1760.2,2176.5 1762.2,2146.1 1763.6,2127.6 1764.2,2118.8 1766.2,2094.2 1768.2,2071.2 1768.5,2068.2 1770.2,2050.0 1772.2,2029.9 1774.2,2010.7 1774.5,2008.8 1776.2,1992.4 1778.2,1974.6 1780.2,1960.2 1780.4,1959.3 1782.2,1950.7 1784.2,1942.8 1786.2,1937.7 1786.3,1937.5 1788.2,1935.9 1790.2,1934.8 1791.3,1934.6 1792.2,1934.9 1794.2,1936.4 1796.2,1938.8 1798.2,1941.5 1798.2,1941.5 1800.2,1946.0 1802.2,1952.1 1804.2,1959.3 1804.2,1959.8 1806.2,1973.7 1808.2,1991.6 1810.1,2008.8 1810.2,2010.2 1812.2,2029.5 1814.2,2049.8 1816.0,2068.2 1816.2,2070.4 1818.2,2091.5 1820.2,2112.9 1822.2,2134.5 1824.2,2155.8 1825.3,2167.2 1826.2,2176.4 1828.2,2196.3 1829.3,2206.8 1830.2,2216.2 1832.2,2236.2 1834.2,2256.2 1834.3,2256.3 1836.2,2276.6 1838.2,2296.7 1839.2,2305.8 1840.2,2315.5 1842.2,2334.5 1844.2,2350.3 1845.1,2355.3 1846.2,2359.0 1848.2,2364.6 1850.1,2367.2 1850.2,2367.1 1852.2,2362.6 1854.2,2354.4 1856.0,2345.4 1856.2,2344.1 1858.2,2326.2 1860.2,2304.1 1861.0,2295.9 1862.2,2281.5 1864.2,2257.3 1865.9,2236.5 1866.2,2232.7 1868.2,2207.2 1869.9,2187.0 1870.2,2183.3 1872.2,2163.2 1873.9,2147.4 1874.2,2143.6 1876.2,2123.6 1878.2,2103.6 1878.8,2097.9 1880.2,2083.3 1882.2,2062.9 1883.8,2048.4 1884.2,2044.3 1886.2,2028.1 1888.2,2012.5 1888.7,2008.8 1890.2,1996.1 1891.7,1985.0 1892.2,1981.6 1894.2,1969.8 1896.2,1959.4" stroke="#1874cd"/>
<path d="M284.2,2141.1 286.2,2141.1 288.2,2141.1 290.2,2141.1 292.2,2141.1 294.2,2141.1 296.2,2141.1 298.2,2141.1 300.2,2141.1 302.2,2141.1 304.2,2141.1 306.2,2141.1 308.2,2141.1 308.3,2141.1 310.2,2141.0 312.2,2140.8 314.2,2140.6 316.2,2140.4 318.2,2140.1 320.2,2139.8 322.2,2139.5 324.2,2139.1 326.2,2138.8 328.2,2138.5 330.2,2138.2 332.2,2138.0 334.2,2137.8 336.2,2137.6 338.2,2137.5 338.4,2137.5 340.2,2137.6 342.2,2137.7 344.2,2137.9 346.2,2138.0 348.2,2138.3 350.2,2138.5 352.2,2138.8 354.2,2139.1 356.2,2139.4 358.2,2139.8 360.2,2140.1 361.4,2140.4 362.2,2140.6 364.2,2141.4 366.2,2142.4 368.2,2143.5 370.2,2144.8 372.2,2146.2 374.2,2147.6 376.2,2149.0 378.2,2150.4 380.2,2151.6 382.2,2152.7 384.2,2153.6 386.2,2154.2 388.0,2154.5 388.2,2154.5 390.2,2153.8 392.2,2152.6 394.2,2151.1 396.2,2149.3 398.2,2147.3 400.2,2145.2 402.2,2143.2 404.2,2141.3 406.2,2139.7 408.2,2138.5 410.2,2137.7 411.0,2137.5 412.2,2137.7 414.2,2138.2 416.2,2139.0 418.2,2139.9 420.2,2140.9 422.2,2141.9 424.2,2142.8 426.2,2143.5 428.2,2143.9 428.7,2143.9 430.2,2141.8 432.2,2136.7 434.2,2129.4 436.2,2120.6 438.2,2110.6 440.2,2100.2 442.2,2089.7 444.2,2079.8 446.2,2071.0 448.2,2063.9 450.2,2059.0 451.7,2057.2 452.2,2058.4 454.2,2065.9 456.2,2077.7 458.2,2093.1 460.2,2111.7 462.2,2133.0 464.2,2156.4 466.2,2181.4 468.2,2207.5 470.2,2234.1 472.2,2260.7 474.2,2286.8 476.2,2311.8 478.2,2335.3 480.2,2356.6 482.2,2375.3 484.2,2390.8 486.2,2402.6 488.2,2410.1 488.8,2411.5 490.2,2404.0 492.2,2385.6 494.2,2359.3 496.2,2326.1 498.2,2287.0 500.2,2243.3 502.2,2195.9 504.2,2146.0 506.2,2094.6 508.2,2042.9 510.2,1992.0 512.2,1942.8 514.2,1896.6 516.2,1854.3 518.2,1817.2 520.2,1786.2 522.2,1762.5 524.2,1747.1 525.0,1743.9 526.2,1750.0 528.2,1768.5 530.2,1795.2 532.2,1827.2 534.2,1861.7 536.2,1895.5 537.7,1918.1 538.2,1926.5 540.2,1958.8 542.2,1992.2 544.2,2025.2 546.2,2055.0 546.2,2055.8 548.2,2082.9 550.2,2109.1 552.2,2134.2 554.2,2158.1 556.1,2178.9 556.2,2180.4 558.2,2201.0 560.2,2222.2 562.2,2243.9 564.2,2265.7 566.2,2287.5 568.2,2309.0 570.2,2330.0 572.2,2350.4 574.2,2369.8 576.2,2388.1 578.2,2405.0 580.2,2420.3 582.2,2433.8 584.2,2445.3 586.2,2454.5 588.2,2461.3 589.7,2464.6 590.2,2463.5 592.2,2456.8 594.2,2446.9 596.2,2434.1 598.2,2418.5 600.2,2400.5 602.2,2380.3 604.2,2358.2 606.2,2334.4 608.2,2309.2 610.2,2282.9 612.2,2255.7 614.2,2228.0 616.2,2199.8 618.2,2171.7 620.2,2143.7 622.2,2116.1 624.2,2089.3 626.2,2063.5 628.2,2038.8 630.2,2015.8 632.2,1994.4 634.2,1975.1 636.2,1958.2 638.2,1943.7 640.2,1932.1 642.2,1923.6 643.9,1919.1 644.2,1919.8 646.2,1925.4 648.2,1934.2 650.2,1945.9 652.2,1960.0 654.2,1976.2 656.2,1994.2 658.2,2013.6 660.2,2034.0 662.2,2055.2 664.2,2076.7 666.2,2098.1 668.2,2119.2 670.2,2139.6 672.2,2158.9 674.2,2176.7 676.2,2192.8 678.2,2206.7 680.0,2216.8 680.2,2217.8 682.2,2226.3 684.2,2234.7 686.2,2243.0 688.2,2251.1 690.2,2258.9 692.2,2266.2 694.2,2273.0 696.2,2279.1 698.2,2284.4 700.2,2288.8 702.2,2292.1 704.2,2294.3 704.8,2294.7 706.2,2291.0 708.2,2283.1 710.2,2272.1 712.2,2258.2 714.2,2241.9 716.2,2223.3 718.2,2202.8 720.2,2180.7 722.2,2157.2 724.2,2132.6 726.2,2107.3 728.2,2081.5 730.2,2055.4 732.2,2029.5 734.2,2004.0 736.2,1979.2 738.2,1955.3 740.2,1932.7 742.2,1911.7 744.2,1892.5 746.2,1875.4 748.2,1860.8 750.2,1848.9 752.2,1839.9 754.2,1834.3 754.3,1834.2 756.2,1841.7 758.2,1854.0 760.2,1870.6 762.2,1891.0 764.2,1914.9 766.2,1941.9 768.2,1971.7 770.2,2003.9 772.2,2038.1 774.2,2074.1 776.2,2111.4 778.2,2149.7 780.2,2188.6 782.2,2227.8 784.2,2266.9 786.2,2305.5 788.2,2343.4 790.2,2380.1 792.2,2415.3 794.2,2448.6 796.2,2479.7 798.2,2508.2 800.2,2533.8 802.2,2556.0 804.2,2574.6 806.2,2589.2 808.2,2599.4 809.2,2602.7 810.2,2597.9 812.2,2583.8 814.2,2563.7 816.2,2538.0 818.2,2507.4 820.2,2472.4 822.2,2433.4 824.2,2391.0 826.2,2345.7 828.2,2298.1 830.2,2248.6 832.2,2197.8 834.2,2146.3 836.2,2094.5 838.2,2042.9 840.2,1992.2 842.2,1942.8 844.2,1895.2 846.2,1850.0 848.2,1807.7 850.2,1768.8 852.2,1733.8 854.2,1703.3 856.2,1677.9 858.2,1657.9 860.2,1644.0 861.2,1639.5 862.2,1643.8 864.2,1657.3 866.2,1677.0 868.2,1702.2 870.2,1732.4 872.2,1766.9 874.2,1805.0 876.2,1846.1 878.2,1889.7 880.2,1935.0 882.2,1981.5 884.2,2028.5 886.2,2075.4 888.2,2121.5 890.2,2166.3 892.2,2209.1 894.2,2249.2 896.2,2286.1 898.2,2319.1 900.2,2347.6 902.2,2371.0 904.2,2388.6 906.2,2399.8 906.5,2400.9 908.2,2396.6 910.2,2388.5 912.2,2377.3 914.2,2363.4 916.2,2347.1 918.2,2328.6 920.2,2308.3 922.2,2286.5 924.2,2263.4 926.2,2239.4 928.2,2214.8 930.2,2189.9 932.2,2164.9 934.2,2140.2 936.2,2116.1 938.2,2092.8 940.2,2070.7 942.2,2050.1 944.2,2031.2 946.2,2014.5 948.2,2000.1 950.2,1988.4 952.2,1979.6 954.2,1974.1 954.3,1974.0 956.2,1979.7 958.2,1991.4 960.2,2006.7 962.2,2023.4 964.2,2039.2 966.2,2051.6 968.2,2058.6 968.5,2058.9 970.2,2057.9 972.2,2055.6 974.2,2052.6 976.2,2049.4 978.2,2046.7 980.2,2045.0 980.9,2044.8 982.2,2045.9 984.2,2048.6 986.2,2052.4 988.2,2057.2 990.2,2062.9 992.2,2069.3 994.2,2076.3 996.2,2083.9 998.2,2091.8 1000.2,2100.0 1002.2,2108.4 1004.2,2116.8 1005.7,2122.7 1006.2,2125.7 1008.2,2138.0 1010.2,2152.8 1012.2,2169.5 1014.2,2187.7 1016.2,2206.8 1018.2,2226.5 1020.2,2246.2 1022.2,2265.5 1024.2,2283.8 1026.2,2300.7 1028.2,2315.7 1030.2,2328.3 1032.2,2338.1 1034.2,2344.5 1035.0,2346.0 1036.2,2344.1 1038.2,2338.9 1040.2,2331.4 1042.2,2321.9 1044.2,2310.7 1046.2,2298.1 1048.2,2284.4 1050.2,2269.8 1052.2,2254.8 1054.2,2239.5 1056.2,2224.3 1058.2,2209.4 1060.0,2196.9 1060.2,2195.1 1062.2,2179.3 1064.2,2162.4 1065.9,2147.4 1066.2,2144.5 1068.2,2124.6 1070.2,2104.0 1071.9,2088.0 1072.2,2084.8 1074.2,2067.6 1076.2,2051.2 1077.8,2038.5 1078.2,2035.1 1080.2,2019.4 1082.2,2004.1 1083.8,1993.0 1084.2,1989.5 1086.2,1975.0 1088.2,1961.5 1089.7,1953.4 1090.2,1951.1 1092.2,1943.1 1094.2,1936.6 1095.6,1933.6 1096.2,1932.9 1098.2,1931.2 1099.6,1930.6 1100.2,1931.5 1102.2,1938.0 1104.2,1947.8 1104.6,1949.4 1106.2,1963.2 1108.2,1984.6 1109.5,1998.9 1110.2,2008.6 1112.2,2038.4 1114.2,2065.9 1114.5,2068.2 1116.2,2084.1 1118.2,2099.4 1119.4,2107.8 1120.2,2113.5 1122.2,2126.1 1124.2,2138.2 1126.2,2150.4 1127.3,2157.3 1128.2,2163.6 1130.2,2177.5 1132.2,2191.9 1134.2,2206.8 1134.3,2206.8 1136.2,2223.0 1138.2,2239.9 1140.2,2256.3 1140.2,2256.8 1142.2,2273.9 1144.2,2291.1 1146.1,2305.8 1146.2,2306.6 1148.2,2320.5 1150.2,2332.2 1151.1,2335.5 1152.2,2338.2 1154.2,2341.8 1156.0,2343.5 1156.2,2343.2 1158.2,2336.0 1160.0,2325.6 1160.2,2323.6 1162.2,2300.0 1164.0,2276.1 1164.2,2272.1 1166.2,2242.3 1167.9,2216.7 1168.2,2211.8 1170.2,2181.8 1171.9,2157.3 1172.2,2151.7 1174.2,2119.8 1175.8,2097.9 1176.2,2094.0 1178.2,2077.0 1180.2,2062.3 1180.8,2058.3 1182.2,2048.0 1184.2,2034.3 1186.2,2021.6 1186.7,2018.7 1188.2,2010.4 1190.2,2000.0 1192.2,1990.8 1192.7,1989.0 1194.2,1983.2 1196.2,1976.5 1198.2,1971.7 1198.6,1971.2 1200.2,1970.1 1202.2,1969.3 1202.6,1969.2 1204.2,1973.8 1206.2,1984.7 1207.5,1993.0 1208.2,1999.5 1210.2,2023.1 1211.5,2038.5 1212.2,2047.8 1214.2,2072.9 1215.4,2088.0 1216.2,2098.6 1218.2,2125.4 1219.4,2137.5 1220.2,2143.3 1222.2,2155.5 1224.2,2163.0 1224.4,2163.3 1226.2,2164.7 1228.2,2165.7 1230.2,2167.2 1230.3,2167.2 1232.2,2176.2 1234.2,2190.3 1235.2,2196.9 1236.2,2203.1 1238.2,2215.7 1240.2,2226.6 1240.2,2226.9 1242.2,2235.6 1244.2,2243.8 1246.2,2251.2 1248.2,2257.7 1250.0,2262.3 1250.2,2262.7 1252.2,2266.5 1254.2,2269.8 1256.2,2271.9 1256.9,2272.2 1258.2,2270.7 1260.2,2266.1 1262.2,2260.4 1263.9,2256.3 1264.2,2255.5 1266.2,2250.6 1268.2,2246.2 1269.8,2244.5 1270.2,2244.7 1272.2,2247.4 1274.2,2251.0 1275.7,2252.4 1276.2,2252.1 1278.2,2249.9 1280.2,2246.0 1281.7,2242.5 1282.2,2239.9 1284.2,2225.2 1286.2,2206.5 1286.6,2202.9 1288.2,2185.2 1290.2,2161.4 1290.6,2157.3 1292.2,2137.8 1294.2,2114.9 1294.6,2111.8 1296.2,2096.7 1298.2,2080.3 1298.5,2078.1 1300.2,2062.6 1302.2,2047.5 1302.5,2046.4 1304.2,2041.1 1306.2,2036.4 1308.2,2033.7 1308.4,2033.6 1310.2,2033.2 1312.2,2032.8 1314.2,2032.6 1315.3,2032.6 1316.2,2033.0 1318.2,2035.0 1320.2,2037.0 1321.3,2037.5 1322.2,2037.0 1324.2,2034.5 1326.2,2031.1 1328.2,2027.8 1329.2,2026.6 1330.2,2025.6 1332.2,2023.7 1334.2,2022.0 1336.2,2020.9 1337.1,2020.7 1338.2,2021.1 1340.2,2022.7 1342.2,2025.3 1343.1,2026.6 1344.2,2032.7 1346.2,2049.8 1348.0,2064.3 1348.2,2065.6 1350.2,2076.1 1352.2,2085.6 1354.2,2094.7 1355.0,2097.9 1356.2,2103.6 1358.2,2112.0 1360.2,2120.2 1362.2,2128.8 1362.9,2131.6 1364.2,2138.2 1366.2,2148.3 1368.2,2158.5 1368.8,2161.3 1370.2,2168.4 1372.2,2178.4 1374.2,2188.4 1374.8,2191.0 1376.2,2198.9 1378.2,2209.7 1380.2,2220.3 1380.7,2222.7 1382.2,2231.0 1384.2,2241.7 1386.2,2250.9 1386.6,2252.4 1388.2,2257.4 1390.2,2263.4 1392.2,2268.3 1394.2,2271.0 1394.6,2271.2 1396.2,2267.5 1398.2,2258.9 1400.2,2247.8 1400.5,2246.4 1402.2,2230.0 1404.2,2208.7 1404.5,2206.8 1406.2,2193.5 1408.2,2180.1 1410.2,2168.1 1410.4,2167.2 1412.2,2158.1 1414.2,2149.0 1416.2,2140.5 1418.2,2131.9 1418.3,2131.6 1420.2,2123.6 1422.2,2115.6 1424.2,2107.2 1426.2,2097.9 1426.2,2097.9 1428.2,2084.6 1430.2,2069.8 1432.2,2058.3 1432.2,2058.1 1434.2,2051.1 1436.2,2045.3 1438.2,2040.3 1440.0,2036.5 1440.2,2036.1 1442.2,2032.7 1444.2,2029.8 1445.9,2028.6 1446.2,2028.9 1448.2,2033.6 1450.2,2041.5 1451.9,2048.4 1452.2,2050.1 1454.2,2060.5 1456.2,2072.2 1458.2,2084.5 1459.8,2094.0 1460.2,2096.7 1462.2,2109.2 1464.2,2121.9 1466.2,2134.5 1467.7,2143.5 1468.2,2146.5 1470.2,2157.8 1472.2,2168.8 1474.2,2179.6 1475.6,2187.0 1476.2,2190.2 1478.2,2200.6 1480.2,2210.9 1482.2,2220.7 1483.6,2226.6 1484.2,2229.4 1486.2,2237.5 1488.2,2244.8 1489.5,2248.4 1490.2,2250.0 1492.2,2254.3 1494.2,2257.4 1495.4,2258.3 1496.2,2258.0 1498.2,2256.4 1500.2,2253.9 1501.4,2252.4 1502.2,2250.8 1504.2,2246.0 1506.2,2240.0 1507.3,2236.5 1508.2,2232.8 1510.2,2223.4 1512.2,2212.6 1513.3,2206.8 1514.2,2200.4 1516.2,2185.7 1518.2,2171.2 1518.2,2171.0 1520.2,2157.4 1522.2,2143.9 1523.2,2137.5 1524.2,2129.0 1526.2,2113.1 1527.1,2107.8 1528.2,2103.6 1530.2,2097.6 1531.1,2095.9 1532.2,2094.6 1534.2,2092.9 1536.2,2091.5 1537.0,2091.0 1538.2,2090.4 1540.2,2089.6 1542.2,2088.6 1543.0,2088.0 1544.2,2083.9 1546.2,2072.6 1546.9,2068.2 1548.2,2056.2 1550.2,2034.7 1550.9,2028.6 1552.2,2017.7 1554.2,2002.9 1555.8,1993.0 1556.2,1991.0 1558.2,1981.7 1560.2,1974.6 1560.8,1973.2 1562.2,1970.8 1564.2,1968.0 1566.2,1966.4 1566.7,1966.2 1568.2,1967.6 1570.2,1971.2 1572.2,1976.0 1572.7,1977.1 1574.2,1984.1 1576.2,1996.2 1578.2,2010.2 1578.6,2012.8 1580.2,2026.4 1582.2,2045.1 1584.2,2065.1 1584.6,2068.2 1586.2,2087.3 1588.2,2111.4 1590.2,2134.8 1590.5,2137.5 1592.2,2155.6 1594.2,2175.4 1596.2,2195.1 1596.4,2196.9 1598.2,2215.3 1600.2,2235.7 1602.2,2255.1 1602.4,2256.3 1604.2,2272.9 1606.2,2289.9 1608.2,2305.3 1608.3,2305.8 1610.2,2319.1 1612.2,2331.1 1613.3,2335.5 1614.2,2338.3 1616.2,2343.0 1618.2,2345.4 1618.2,2345.4 1620.2,2339.5 1622.2,2330.1 1624.2,2317.5 1626.2,2302.2 1628.2,2284.5 1630.2,2264.6 1632.2,2242.9 1634.2,2219.7 1636.2,2195.5 1638.2,2170.5 1640.2,2145.0 1642.2,2119.4 1644.2,2094.0 1646.2,2069.2 1648.2,2045.3 1649.7,2028.6 1650.2,2022.1 1652.2,1996.8 1653.7,1979.1 1654.2,1971.8 1656.2,1946.3 1657.6,1933.6 1658.2,1930.7 1660.2,1922.3 1662.2,1915.5 1664.2,1910.8 1665.9,1908.8 1666.2,1909.1 1668.2,1914.4 1670.2,1923.4 1672.2,1933.7 1673.5,1939.5 1674.2,1943.2 1676.2,1953.6 1678.2,1963.8 1679.4,1969.2 1680.2,1972.5 1682.2,1979.2 1684.2,1985.4 1686.2,1992.1 1688.2,2000.6 1688.3,2000.9 1690.2,2014.9 1692.2,2033.4 1694.2,2054.4 1696.2,2076.9 1697.2,2088.0 1698.2,2101.0 1700.2,2128.7 1702.2,2158.3 1704.2,2187.0 1704.2,2188.4 1706.2,2220.7 1708.2,2253.2 1709.1,2266.2 1710.2,2282.5 1712.2,2310.8 1714.2,2334.4 1715.0,2341.5 1716.2,2348.5 1718.2,2359.5 1720.2,2368.7 1722.2,2375.2 1724.0,2378.1 1724.2,2377.9 1726.2,2373.9 1728.2,2366.9 1730.2,2358.0 1732.2,2348.4 1732.9,2345.4 1734.2,2337.2 1736.2,2323.1 1738.2,2307.3 1740.2,2290.6 1740.8,2286.0 1742.2,2272.9 1744.2,2253.8 1746.2,2233.5 1748.2,2212.0 1748.7,2206.8 1750.2,2187.7 1752.2,2160.8 1754.2,2133.2 1754.7,2127.6 1756.2,2105.1 1758.2,2076.6 1759.6,2058.3 1760.2,2050.2 1762.2,2024.8 1764.2,2001.0 1766.2,1981.4 1766.5,1979.1 1768.2,1968.4 1770.2,1957.5 1772.2,1949.0 1773.5,1945.4 1774.2,1944.3 1776.2,1941.6 1778.2,1939.6 1780.2,1938.5 1780.4,1938.5 1782.2,1940.4 1784.2,1944.3 1786.2,1949.5 1788.2,1955.2 1788.3,1955.3 1790.2,1962.9 1792.2,1972.6 1794.2,1983.4 1795.2,1989.0 1796.2,1995.5 1798.2,2009.9 1800.2,2025.4 1802.2,2040.5 1802.2,2041.0 1804.2,2056.8 1806.2,2072.8 1808.1,2088.0 1808.2,2089.1 1810.2,2105.4 1812.2,2122.0 1814.1,2137.5 1814.2,2139.2 1816.2,2158.0 1818.2,2177.5 1820.2,2197.2 1822.2,2216.3 1823.4,2226.6 1824.2,2234.3 1826.2,2251.5 1828.2,2267.9 1829.3,2276.1 1830.2,2283.2 1832.2,2298.3 1834.2,2311.1 1835.2,2315.7 1836.2,2318.5 1838.2,2323.3 1840.2,2326.7 1841.2,2327.6 1842.2,2328.0 1844.2,2328.5 1845.1,2328.6 1846.2,2326.3 1848.2,2316.9 1850.1,2305.8 1850.2,2304.8 1852.2,2286.9 1854.2,2265.2 1855.0,2256.3 1856.2,2241.7 1858.2,2215.9 1859.0,2206.8 1860.2,2193.9 1862.2,2174.4 1863.0,2167.2 1864.2,2154.5 1866.2,2134.5 1866.9,2127.6 1868.2,2114.1 1870.2,2093.9 1870.9,2088.0 1872.2,2077.0 1874.2,2062.3 1874.9,2058.3 1876.2,2050.7 1878.2,2041.1 1878.8,2038.5 1880.2,2032.5 1882.2,2024.6 1883.8,2018.7 1884.2,2016.9 1886.2,2009.2 1888.2,2001.7 1890.2,1994.5 1890.7,1993.0 1892.2,1988.0 1894.2,1981.8 1896.2,1975.8" stroke="#ff0000"/>
<path d="M284.2,2141.1 286.2,2141.1 288.2,2141.1 290.2,2141.1 292.2,2141.1 294.2,2141.1 296.2,2141.1 298.2,2141.1 300.2,2141.1 302.2,2141.1 304.2,2141.1 306.2,2141.1 308.2,2141.1 308.3,2141.1 310.2,2141.2 312.2,2141.4 314.2,2141.6 316.2,2142.0 318.2,2142.3 320.2,2142.6 322.2,2142.9 324.2,2143.1 326.0,2143.2 326.2,2143.2 328.2,2143.1 330.2,2143.0 332.2,2142.8 334.2,2142.6 336.2,2142.4 338.2,2142.2 340.2,2141.9 342.2,2141.6 344.2,2141.3 346.2,2141.1 348.2,2140.8 350.2,2140.5 352.2,2140.3 354.2,2140.1 356.2,2139.9 358.2,2139.8 360.2,2139.7 361.4,2139.6 362.2,2139.8 364.2,2140.3 366.2,2141.2 368.2,2142.3 370.2,2143.6 372.2,2145.0 374.2,2146.5 376.2,2148.0 378.2,2149.4 380.2,2150.6 382.2,2151.6 384.2,2152.4 386.2,2152.7 386.2,2152.7 388.2,2152.2 390.2,2151.2 392.2,2149.8 394.2,2148.1 396.2,2146.4 398.2,2144.5 400.2,2142.8 402.2,2141.3 404.2,2140.0 406.2,2139.2 407.4,2138.9 408.2,2139.0 410.2,2139.5 412.2,2140.2 414.2,2141.1 416.2,2142.2 418.2,2143.3 420.2,2144.4 422.2,2145.4 424.2,2146.3 426.2,2147.0 428.2,2147.4 428.7,2147.4 430.2,2145.4 432.2,2140.6 434.2,2133.7 436.2,2125.2 438.2,2115.5 440.2,2105.1 442.2,2094.4 444.2,2083.8 446.2,2073.8 448.2,2064.8 450.2,2057.4 452.2,2051.8 454.2,2048.5 454.5,2048.3 456.2,2054.5 458.2,2067.5 460.2,2085.6 462.2,2107.6 464.2,2132.3 466.2,2158.7 468.2,2185.5 470.2,2211.5 472.2,2235.7 474.2,2256.8 475.8,2269.9 476.2,2273.3 478.2,2287.7 480.2,2302.2 482.2,2316.1 484.2,2328.4 486.2,2338.5 488.2,2345.4 489.6,2347.8 490.2,2344.8 492.2,2330.1 494.2,2307.0 496.2,2276.9 498.2,2240.8 500.2,2200.0 502.2,2155.7 504.2,2109.2 506.2,2061.6 508.2,2014.1 510.2,1968.0 512.2,1924.4 514.2,1884.6 516.2,1849.8 518.2,1821.1 520.2,1799.9 522.2,1787.2 522.5,1786.4 524.2,1791.4 526.2,1801.7 528.2,1815.9 530.2,1833.3 532.2,1852.9 534.2,1873.9 536.2,1895.4 538.2,1916.4 538.4,1918.1 540.2,1941.4 542.2,1970.4 544.2,2001.1 546.2,2031.2 548.0,2055.0 548.2,2058.5 550.2,2082.9 552.2,2106.4 554.2,2129.2 556.2,2151.0 558.2,2171.9 558.9,2178.9 560.2,2191.5 562.2,2211.4 564.2,2232.0 566.2,2252.9 568.2,2273.8 570.2,2294.4 572.2,2314.5 574.2,2333.6 576.2,2351.6 578.2,2368.0 580.2,2382.7 582.2,2395.2 584.2,2405.4 586.2,2412.8 588.0,2416.8 588.2,2416.3 590.2,2410.8 592.2,2402.5 594.2,2391.5 596.2,2378.0 598.2,2362.5 600.2,2344.9 602.2,2325.7 604.2,2305.0 606.2,2283.1 608.2,2260.2 610.2,2236.6 612.2,2212.4 614.2,2188.0 616.2,2163.6 618.2,2139.3 620.2,2115.5 622.2,2092.4 624.2,2070.2 626.2,2049.2 628.2,2029.6 630.2,2011.6 632.2,1995.4 634.2,1981.4 636.2,1969.8 638.2,1960.7 640.2,1954.4 641.1,1952.7 642.2,1954.1 644.2,1957.5 646.2,1962.1 648.2,1967.8 650.2,1974.6 652.2,1982.4 654.2,1991.1 656.2,2000.7 658.2,2011.0 660.2,2021.9 662.2,2033.5 664.2,2045.6 666.2,2058.1 668.2,2071.1 670.2,2084.2 672.2,2097.6 674.2,2111.2 676.2,2124.7 678.2,2138.3 680.2,2151.7 682.2,2165.0 684.2,2178.0 686.2,2190.7 688.2,2202.9 690.2,2214.7 692.2,2225.9 694.2,2236.4 696.2,2246.2 698.2,2255.2 700.2,2263.3 702.2,2270.4 704.2,2276.5 706.2,2281.5 708.2,2285.3 710.1,2287.6 710.2,2287.3 712.2,2281.7 714.2,2272.9 716.2,2261.2 718.2,2246.7 720.2,2230.0 722.2,2211.1 724.2,2190.5 726.2,2168.5 728.2,2145.3 730.2,2121.2 732.2,2096.6 734.2,2071.7 736.2,2046.9 738.2,2022.4 740.2,1998.5 742.2,1975.6 744.2,1953.9 746.2,1933.8 748.2,1915.5 750.2,1899.3 752.2,1885.5 754.2,1874.5 756.2,1866.5 757.9,1862.5 758.2,1863.5 760.2,1871.9 762.2,1884.5 764.2,1901.1 766.2,1921.3 768.2,1944.7 770.2,1971.0 772.2,1999.8 774.2,2030.7 776.2,2063.4 778.2,2097.5 780.2,2132.7 782.2,2168.6 784.2,2204.8 786.2,2241.0 788.2,2276.7 790.2,2311.8 792.2,2345.7 794.2,2378.1 796.2,2408.7 798.2,2437.0 800.2,2462.8 802.2,2485.7 804.2,2505.3 806.2,2521.2 808.2,2533.1 810.2,2540.7 810.3,2540.7 812.2,2531.9 814.2,2517.9 816.2,2499.1 818.2,2476.0 820.2,2449.1 822.2,2418.6 824.2,2385.0 826.2,2348.9 828.2,2310.5 830.2,2270.3 832.2,2228.7 834.2,2186.1 836.2,2143.0 838.2,2099.8 840.2,2056.9 842.2,2014.7 844.2,1973.7 846.2,1934.2 848.2,1896.7 850.2,1861.7 852.2,1829.4 854.2,1800.4 856.2,1775.0 858.2,1753.8 860.2,1737.0 862.2,1725.2 863.4,1720.9 864.2,1724.1 866.2,1735.8 868.2,1753.1 870.2,1775.5 872.2,1802.3 874.2,1833.0 876.2,1866.8 878.2,1903.3 880.2,1941.8 882.2,1981.7 884.2,2022.5 886.2,2063.4 888.2,2104.0 890.2,2143.6 892.2,2181.6 894.2,2217.4 896.2,2250.3 898.2,2279.9 900.2,2305.5 902.2,2326.5 904.2,2342.2 906.2,2352.1 906.5,2353.1 908.2,2352.4 910.2,2350.8 912.2,2348.6 914.2,2346.1 916.2,2343.8 918.2,2341.9 920.2,2340.8 920.7,2340.7 922.2,2341.5 924.2,2343.3 926.0,2344.2 926.2,2343.6 928.2,2333.0 930.2,2314.7 932.2,2290.1 934.2,2260.5 936.2,2227.3 938.2,2192.1 940.2,2156.1 942.2,2120.7 944.2,2087.5 946.2,2057.7 948.2,2032.8 950.2,2014.2 952.2,2003.2 952.6,2002.3 954.2,2004.7 956.2,2010.2 958.2,2017.9 960.2,2026.9 962.2,2036.3 964.2,2045.5 966.2,2053.4 968.2,2059.4 970.2,2062.5 970.3,2062.5 972.2,2060.0 974.2,2055.1 976.2,2049.0 978.2,2042.7 980.2,2037.5 982.2,2034.4 982.7,2034.2 984.2,2036.5 986.2,2041.1 988.2,2047.5 990.2,2055.4 992.2,2064.8 994.2,2075.4 996.2,2087.1 998.2,2099.8 1000.2,2113.3 1002.2,2127.4 1004.2,2142.0 1006.2,2157.0 1008.2,2172.2 1010.2,2187.5 1012.2,2202.6 1014.2,2217.5 1016.2,2231.9 1018.2,2245.8 1020.2,2259.0 1022.2,2271.3 1024.2,2282.6 1026.2,2292.7 1028.2,2301.5 1030.2,2308.9 1032.2,2314.5 1034.2,2318.4 1035.0,2319.5 1036.2,2318.3 1038.2,2315.5 1040.2,2311.7 1042.2,2306.9 1044.2,2301.2 1046.2,2294.7 1048.2,2287.5 1050.2,2279.5 1052.2,2270.8 1054.2,2261.6 1056.2,2251.8 1058.2,2241.5 1060.2,2230.8 1062.2,2219.8 1064.2,2208.4 1066.2,2196.9 1067.9,2187.0 1068.2,2184.6 1070.2,2166.3 1072.2,2144.7 1073.9,2127.6 1074.2,2123.8 1076.2,2103.6 1078.2,2083.5 1079.8,2068.2 1080.2,2063.9 1082.2,2044.6 1084.2,2025.9 1085.7,2012.8 1086.2,2008.7 1088.2,1992.4 1090.2,1977.6 1091.7,1969.2 1092.2,1966.8 1094.2,1958.6 1096.2,1951.7 1098.2,1947.7 1098.6,1947.4 1100.2,1950.5 1102.2,1958.2 1104.2,1967.7 1104.6,1969.2 1106.2,1980.8 1108.2,1997.7 1109.5,2008.8 1110.2,2016.0 1112.2,2037.9 1114.2,2058.8 1115.4,2068.2 1116.2,2072.1 1118.2,2080.1 1120.2,2086.8 1122.2,2093.6 1123.4,2097.9 1124.2,2101.9 1126.2,2111.2 1128.2,2121.5 1129.3,2127.6 1130.2,2134.3 1132.2,2150.4 1134.2,2168.1 1135.2,2177.1 1136.2,2186.6 1138.2,2206.6 1140.2,2227.0 1141.2,2236.5 1142.2,2247.4 1144.2,2268.7 1146.2,2288.4 1147.1,2295.9 1148.2,2304.0 1150.2,2317.3 1152.1,2325.6 1152.2,2326.0 1154.2,2329.8 1156.0,2331.6 1156.2,2331.3 1158.2,2323.3 1160.2,2309.0 1162.2,2292.1 1163.0,2286.0 1164.2,2272.9 1166.2,2248.5 1167.9,2226.6 1168.2,2222.1 1170.2,2191.6 1171.9,2167.2 1172.2,2162.3 1174.2,2136.1 1175.8,2117.7 1176.2,2113.9 1178.2,2097.0 1180.2,2082.0 1180.8,2078.1 1182.2,2068.9 1184.2,2057.2 1185.7,2048.4 1186.2,2045.4 1188.2,2033.4 1190.2,2021.4 1190.7,2018.7 1192.2,2008.5 1194.2,1995.0 1196.2,1984.4 1196.6,1983.1 1198.2,1979.5 1200.2,1976.2 1201.6,1975.1 1202.2,1976.0 1204.2,1982.5 1206.2,1991.6 1206.5,1993.0 1208.2,2003.5 1210.2,2018.6 1211.5,2028.6 1212.2,2035.6 1214.2,2056.1 1216.2,2076.4 1216.4,2078.1 1218.2,2093.7 1220.2,2109.7 1221.4,2117.7 1222.2,2122.9 1224.2,2134.1 1226.2,2143.1 1226.3,2143.5 1228.2,2148.4 1230.2,2153.2 1230.3,2153.4 1232.2,2159.6 1234.2,2167.2 1234.3,2167.2 1236.2,2179.0 1238.2,2192.0 1239.2,2196.9 1240.2,2200.7 1242.2,2207.4 1244.2,2213.4 1246.2,2218.6 1248.2,2223.2 1250.0,2226.6 1250.2,2227.0 1252.2,2230.0 1254.2,2232.6 1256.2,2234.3 1256.9,2234.6 1258.2,2233.4 1260.2,2229.9 1262.2,2227.0 1262.9,2226.6 1264.2,2227.8 1266.2,2231.1 1268.2,2235.4 1269.8,2238.5 1270.2,2239.4 1272.2,2244.0 1274.2,2249.0 1276.2,2253.4 1278.2,2256.1 1278.7,2256.3 1280.2,2254.7 1282.2,2250.2 1284.2,2243.9 1284.7,2242.5 1286.2,2231.0 1288.2,2210.7 1288.6,2206.8 1290.2,2185.5 1291.6,2167.2 1292.2,2158.7 1294.2,2134.6 1294.6,2131.6 1296.2,2118.7 1298.2,2106.2 1299.5,2099.9 1300.2,2097.2 1302.2,2090.9 1304.2,2085.5 1306.2,2080.7 1307.4,2078.1 1308.2,2076.6 1310.2,2073.2 1312.2,2070.0 1313.4,2068.2 1314.2,2066.8 1316.2,2063.4 1318.2,2060.1 1319.3,2058.3 1320.2,2056.7 1322.2,2053.2 1324.2,2049.7 1326.2,2046.1 1327.2,2044.5 1328.2,2042.7 1330.2,2039.0 1332.2,2035.7 1333.2,2034.6 1334.2,2033.5 1336.2,2031.7 1338.2,2030.3 1340.1,2029.6 1340.2,2029.7 1342.2,2032.4 1344.2,2037.3 1346.0,2042.5 1346.2,2043.2 1348.2,2053.0 1350.2,2064.3 1351.0,2068.2 1352.2,2074.2 1354.2,2083.5 1356.2,2092.6 1357.9,2099.9 1358.2,2101.3 1360.2,2109.3 1362.2,2117.0 1364.2,2124.9 1365.8,2131.6 1366.2,2133.5 1368.2,2143.3 1370.2,2153.5 1371.8,2161.3 1372.2,2163.6 1374.2,2173.5 1376.2,2183.5 1377.7,2191.0 1378.2,2193.7 1380.2,2204.4 1382.2,2215.2 1383.7,2222.7 1384.2,2225.7 1386.2,2236.8 1388.2,2247.0 1389.6,2252.4 1390.2,2254.1 1392.2,2259.3 1394.2,2263.1 1395.5,2264.3 1396.2,2263.3 1398.2,2256.8 1400.2,2247.6 1400.5,2246.4 1402.2,2235.2 1404.2,2219.7 1405.4,2210.8 1406.2,2205.1 1408.2,2190.4 1410.2,2177.9 1410.4,2177.1 1412.2,2170.1 1414.2,2163.8 1416.2,2157.6 1416.3,2157.3 1418.2,2151.2 1420.2,2144.8 1422.2,2137.6 1422.3,2137.5 1424.2,2128.8 1426.2,2118.9 1428.2,2107.8 1428.2,2107.6 1430.2,2091.9 1432.2,2074.9 1433.2,2068.2 1434.2,2061.8 1436.2,2050.2 1438.2,2040.5 1440.0,2034.6 1440.2,2034.1 1442.2,2030.9 1444.2,2028.4 1446.2,2026.9 1446.9,2026.6 1448.2,2028.4 1450.2,2034.1 1452.2,2041.9 1453.9,2048.4 1454.2,2050.2 1456.2,2061.4 1458.2,2074.4 1460.2,2087.9 1461.8,2097.9 1462.2,2100.8 1464.2,2113.6 1466.2,2126.4 1468.2,2138.9 1469.7,2147.4 1470.2,2150.4 1472.2,2160.8 1474.2,2170.8 1476.2,2180.4 1477.6,2187.0 1478.2,2190.0 1480.2,2199.6 1482.2,2209.1 1484.2,2217.8 1485.5,2222.7 1486.2,2224.9 1488.2,2231.0 1490.2,2236.4 1492.2,2240.2 1492.5,2240.5 1494.2,2241.9 1496.2,2243.3 1498.2,2244.2 1499.4,2244.5 1500.2,2244.1 1502.2,2242.4 1504.2,2239.8 1506.2,2236.7 1506.3,2236.5 1508.2,2231.6 1510.2,2224.7 1512.2,2216.9 1512.3,2216.7 1514.2,2206.5 1516.2,2194.6 1518.2,2183.1 1518.2,2182.9 1520.2,2171.6 1522.2,2161.1 1523.2,2157.3 1524.2,2154.3 1526.2,2149.7 1528.2,2145.5 1529.1,2143.5 1530.2,2140.4 1532.2,2134.8 1534.2,2129.5 1535.0,2127.6 1536.2,2125.5 1538.2,2122.7 1540.2,2119.4 1541.0,2117.7 1542.2,2112.9 1544.2,2102.2 1545.0,2097.9 1546.2,2086.7 1548.2,2065.3 1549.9,2048.4 1550.2,2045.4 1552.2,2028.2 1554.2,2012.9 1554.9,2008.8 1556.2,2000.9 1558.2,1990.8 1559.8,1985.0 1560.2,1984.0 1562.2,1979.6 1564.2,1976.3 1565.7,1975.1 1566.2,1975.3 1568.2,1977.2 1570.2,1980.4 1571.7,1983.1 1572.2,1984.8 1574.2,1993.5 1576.2,2004.8 1578.2,2016.7 1578.6,2018.7 1580.2,2028.3 1582.2,2040.5 1584.2,2053.2 1586.2,2066.3 1586.5,2068.2 1588.2,2080.2 1590.2,2094.7 1592.2,2109.8 1594.2,2125.9 1594.5,2127.6 1596.2,2144.6 1598.2,2165.0 1600.2,2185.5 1600.4,2187.0 1602.2,2205.8 1604.2,2226.2 1606.2,2245.6 1606.3,2246.4 1608.2,2264.2 1610.2,2282.1 1612.2,2295.8 1612.3,2295.9 1614.2,2303.7 1616.2,2310.9 1618.2,2316.8 1620.2,2320.8 1621.6,2322.1 1622.2,2321.5 1624.2,2317.5 1626.2,2311.0 1628.2,2302.8 1630.2,2293.6 1631.9,2286.0 1632.2,2284.0 1634.2,2271.3 1636.2,2256.4 1638.2,2240.0 1639.8,2226.6 1640.2,2222.4 1642.2,2202.1 1644.2,2180.2 1646.2,2157.0 1648.2,2133.2 1648.7,2127.6 1650.2,2107.8 1652.2,2080.7 1654.2,2053.7 1654.7,2048.4 1656.2,2026.3 1658.2,1998.1 1660.2,1977.3 1660.6,1975.1 1662.2,1969.9 1664.2,1965.4 1665.5,1963.3 1666.2,1962.4 1668.2,1960.3 1670.2,1958.8 1671.5,1958.3 1672.2,1958.3 1674.2,1958.5 1676.2,1958.7 1678.2,1959.0 1680.2,1959.5 1682.2,1960.0 1683.4,1960.3 1684.2,1961.1 1686.2,1964.4 1688.2,1969.0 1688.3,1969.2 1690.2,1977.3 1692.2,1988.8 1692.3,1989.0 1694.2,2007.7 1696.2,2028.6 1696.2,2028.7 1698.2,2045.8 1700.2,2061.9 1702.2,2079.1 1703.2,2088.0 1704.2,2100.8 1706.2,2127.5 1708.2,2155.5 1709.1,2167.2 1710.2,2182.5 1712.2,2209.6 1714.2,2236.2 1715.0,2246.4 1716.2,2261.6 1718.2,2287.2 1720.2,2309.3 1721.0,2315.7 1722.2,2323.8 1724.2,2335.4 1726.2,2344.6 1727.9,2349.4 1728.2,2349.8 1730.2,2351.8 1732.2,2353.3 1734.2,2354.2 1734.9,2354.4 1736.2,2353.4 1738.2,2350.5 1740.2,2346.6 1740.8,2345.4 1742.2,2340.5 1744.2,2331.1 1746.2,2319.1 1746.7,2315.7 1748.2,2298.6 1750.2,2268.6 1751.7,2246.4 1752.2,2237.8 1754.2,2205.9 1756.2,2173.4 1756.6,2167.2 1758.2,2140.4 1760.2,2107.3 1761.6,2088.0 1762.2,2080.3 1764.2,2058.6 1766.2,2040.7 1766.5,2038.5 1768.2,2028.6 1770.2,2019.0 1772.2,2009.9 1772.5,2008.8 1774.2,2000.3 1776.2,1990.8 1778.2,1983.5 1778.4,1983.1 1780.2,1979.6 1782.2,1976.2 1784.2,1973.5 1786.2,1971.7 1787.3,1971.2 1788.2,1971.8 1790.2,1974.4 1792.2,1978.4 1794.2,1983.0 1794.3,1983.1 1796.2,1990.0 1798.2,1999.0 1800.2,2008.8 1800.2,2009.1 1802.2,2021.8 1804.2,2036.3 1806.2,2051.6 1807.1,2058.3 1808.2,2067.5 1810.2,2084.8 1812.2,2101.6 1813.1,2107.8 1814.2,2115.3 1816.2,2126.6 1818.2,2137.0 1820.2,2147.7 1822.2,2159.6 1823.4,2167.2 1824.2,2175.0 1826.2,2195.7 1828.2,2216.1 1828.3,2216.7 1830.2,2233.0 1832.2,2248.7 1833.3,2256.3 1834.2,2263.5 1836.2,2278.1 1838.2,2291.0 1839.2,2295.9 1840.2,2300.0 1842.2,2307.5 1844.2,2313.8 1846.2,2317.9 1847.1,2318.7 1848.2,2317.7 1850.2,2313.8 1852.2,2308.3 1853.1,2305.8 1854.2,2300.5 1856.2,2288.5 1858.0,2276.1 1858.2,2274.3 1860.2,2255.2 1862.2,2234.0 1863.0,2226.6 1864.2,2213.6 1866.2,2193.2 1867.9,2177.1 1868.2,2174.3 1870.2,2158.0 1872.2,2142.5 1872.9,2137.5 1874.2,2126.3 1876.2,2109.8 1877.8,2097.9 1878.2,2095.1 1880.2,2082.6 1882.2,2071.1 1882.8,2068.2 1884.2,2060.7 1886.2,2051.1 1887.7,2044.5 1888.2,2042.2 1890.2,2034.0 1891.7,2028.6 1892.2,2026.8 1894.2,2020.5 1896.2,2014.8" stroke="#00417a"/>
<path d="M284.2,2141.1 286.2,2141.1 288.2,2141.1 290.2,2141.1 292.2,2141.1 294.2,2141.1 296.2,2141.1 298.2,2141.1 300.2,2141.1 302.2,2141.1 304.2,2141.1 306.2,2141.1 308.2,2141.1 308.3,2141.1 310.2,2140.9 312.2,2140.5 314.2,2140.1 316.2,2139.5 318.2,2139.0 320.2,2138.5 322.2,2138.0 324.2,2137.7 326.0,2137.5 326.2,2137.5 328.2,2137.8 330.2,2138.3 332.2,2139.0 334.2,2139.8 336.2,2140.5 338.2,2141.3 340.2,2141.9 342.2,2142.3 343.7,2142.5 344.2,2142.4 346.2,2141.9 348.2,2141.1 350.2,2140.1 352.2,2139.0 354.2,2137.7 356.2,2136.6 358.2,2135.5 360.2,2134.7 362.2,2134.1 363.2,2134.0 364.2,2134.3 366.2,2135.2 368.2,2136.7 370.2,2138.6 372.2,2140.7 374.2,2143.0 376.2,2145.2 378.2,2147.2 380.2,2148.9 382.2,2150.2 384.2,2150.9 384.4,2151.0 386.2,2150.6 388.2,2149.7 390.2,2148.5 392.2,2147.1 394.2,2145.6 396.2,2144.1 398.2,2142.7 400.2,2141.5 402.2,2140.7 403.9,2140.4 404.2,2140.4 406.2,2141.5 408.2,2143.3 410.2,2145.3 412.2,2147.1 414.2,2148.1 414.5,2148.1 416.2,2147.7 418.2,2146.6 420.2,2145.1 422.2,2143.2 424.2,2141.3 425.1,2140.4 426.2,2138.4 428.2,2133.7 430.2,2127.6 432.2,2120.5 434.2,2112.7 436.2,2104.4 438.2,2096.0 440.2,2087.8 442.2,2080.0 444.2,2073.0 446.2,2067.0 448.2,2062.5 450.2,2059.5 451.0,2058.9 452.2,2062.3 454.2,2071.2 456.2,2084.2 458.2,2100.7 460.2,2120.1 462.2,2141.9 464.2,2165.6 466.2,2190.5 468.2,2216.3 470.2,2242.2 472.2,2267.8 474.2,2292.5 476.2,2315.8 478.2,2337.2 480.2,2356.0 482.2,2371.7 484.2,2383.9 486.2,2391.8 487.1,2393.8 488.2,2387.6 490.2,2369.2 492.2,2342.2 494.2,2307.7 496.2,2267.0 498.2,2221.4 500.2,2172.0 502.2,2120.2 504.2,2067.1 506.2,2014.0 508.2,1962.2 510.2,1912.8 512.2,1867.2 514.2,1826.5 516.2,1792.0 518.2,1764.9 520.2,1746.6 521.4,1740.4 522.2,1743.3 524.2,1757.2 526.2,1778.7 528.2,1805.8 530.2,1836.3 532.2,1868.1 534.2,1899.0 535.6,1918.1 536.2,1927.8 538.2,1958.6 540.2,1990.6 542.2,2022.5 544.2,2052.5 544.4,2055.0 546.2,2079.4 548.2,2105.3 550.2,2130.3 552.2,2154.5 554.2,2177.9 554.3,2178.9 556.2,2200.7 558.2,2224.6 560.2,2249.3 562.2,2274.5 564.2,2299.9 566.2,2325.0 568.2,2349.5 570.2,2373.2 572.2,2395.6 574.2,2416.3 576.2,2435.1 578.2,2451.6 580.2,2465.4 582.2,2476.2 584.2,2483.7 585.1,2485.8 586.2,2482.9 588.2,2474.9 590.2,2463.5 592.2,2449.1 594.2,2432.0 596.2,2412.3 598.2,2390.4 600.2,2366.7 602.2,2341.2 604.2,2314.5 606.2,2286.6 608.2,2257.9 610.2,2228.8 612.2,2199.4 614.2,2170.1 616.2,2141.1 618.2,2112.7 620.2,2085.2 622.2,2059.0 624.2,2034.1 626.2,2011.1 628.2,1990.0 630.2,1971.3 632.2,1955.2 634.2,1941.9 636.2,1931.8 638.2,1925.2 638.6,1924.4 640.2,1927.6 642.2,1933.5 644.2,1941.6 646.2,1951.7 648.2,1963.5 650.2,1976.9 652.2,1991.5 654.2,2007.1 656.2,2023.7 658.2,2040.8 660.2,2058.4 662.2,2076.1 664.2,2093.8 666.2,2111.2 668.2,2128.1 670.2,2144.4 672.2,2159.7 674.2,2173.9 676.2,2186.7 678.2,2197.9 680.0,2206.2 680.2,2207.1 682.2,2214.1 684.2,2221.2 686.2,2228.3 688.2,2235.2 690.2,2241.9 692.2,2248.3 694.2,2254.3 696.2,2259.8 698.2,2264.7 700.2,2269.0 702.2,2272.5 704.2,2275.1 706.2,2276.8 706.5,2277.0 708.2,2271.2 710.2,2259.6 712.2,2243.4 714.2,2223.3 716.2,2200.1 718.2,2174.4 720.2,2147.0 722.2,2118.6 724.2,2090.0 726.2,2061.7 728.2,2034.6 730.2,2009.3 732.2,1986.6 734.2,1967.1 736.2,1951.7 736.6,1949.2 738.2,1941.7 740.2,1932.5 742.2,1923.6 744.2,1915.1 746.2,1907.3 748.2,1900.2 750.2,1894.2 752.2,1889.2 754.2,1885.7 756.1,1883.7 756.2,1884.1 758.2,1891.7 760.2,1903.5 762.2,1919.2 764.2,1938.4 766.2,1960.8 768.2,1986.1 770.2,2013.8 772.2,2043.6 774.2,2075.3 776.2,2108.4 778.2,2142.6 780.2,2177.6 782.2,2213.0 784.2,2248.4 786.2,2283.6 788.2,2318.2 790.2,2351.7 792.2,2384.0 794.2,2414.7 796.2,2443.3 798.2,2469.6 800.2,2493.2 802.2,2513.7 804.2,2530.9 806.2,2544.3 808.2,2553.7 809.2,2556.6 810.2,2552.1 812.2,2538.3 814.2,2518.6 816.2,2493.3 818.2,2463.2 820.2,2428.7 822.2,2390.5 824.2,2349.1 826.2,2305.0 828.2,2258.9 830.2,2211.3 832.2,2162.8 834.2,2114.0 836.2,2065.4 838.2,2017.6 840.2,1971.1 842.2,1926.6 844.2,1884.6 846.2,1845.7 848.2,1810.4 850.2,1779.3 852.2,1753.0 854.2,1732.1 856.2,1717.1 857.7,1710.3 858.2,1711.9 860.2,1721.2 862.2,1735.2 864.2,1753.6 866.2,1775.9 868.2,1801.6 870.2,1830.2 872.2,1861.4 874.2,1894.6 876.2,1929.4 878.2,1965.3 880.2,2001.9 882.2,2038.8 884.2,2075.4 886.2,2111.3 888.2,2146.1 890.2,2179.3 892.2,2210.4 894.2,2239.0 896.2,2264.7 898.2,2286.9 900.2,2305.3 902.2,2319.3 904.2,2328.5 904.8,2330.1 906.2,2328.5 908.2,2324.1 910.2,2319.6 911.9,2317.7 912.2,2317.9 914.2,2321.2 916.2,2325.9 918.2,2329.6 918.9,2330.1 920.2,2326.0 922.2,2314.9 924.2,2298.7 926.2,2278.2 928.2,2254.3 930.2,2228.0 932.2,2200.0 934.2,2171.2 936.2,2142.6 938.2,2114.9 940.2,2089.1 942.2,2066.1 944.2,2046.6 946.2,2031.7 948.2,2022.1 949.0,2020.0 950.2,2021.6 952.2,2026.8 954.2,2034.4 956.2,2043.7 958.2,2053.7 960.2,2063.6 962.2,2072.4 964.2,2079.2 966.2,2083.3 966.7,2083.7 968.2,2082.1 970.2,2077.7 972.2,2071.7 974.2,2065.2 976.2,2059.0 978.2,2054.2 980.2,2051.9 980.2,2051.9 982.2,2053.4 984.2,2055.8 986.2,2059.0 988.2,2062.9 990.2,2067.5 992.2,2072.6 994.2,2078.2 996.2,2084.2 998.2,2090.6 1000.2,2097.2 1002.2,2103.9 1004.2,2110.7 1005.7,2115.6 1006.2,2118.2 1008.2,2129.0 1010.2,2142.2 1012.2,2157.4 1014.2,2173.8 1016.2,2191.2 1018.2,2208.7 1020.2,2226.1 1022.2,2242.6 1024.2,2257.9 1026.2,2271.2 1028.2,2282.2 1030.2,2290.2 1032.2,2294.7 1032.2,2294.7 1034.2,2291.3 1036.2,2285.2 1038.2,2276.8 1040.2,2267.0 1042.2,2256.4 1044.2,2245.7 1046.2,2235.6 1048.2,2226.8 1050.2,2220.1 1051.7,2216.8 1052.2,2216.2 1054.2,2214.6 1056.2,2213.5 1058.2,2212.6 1060.2,2211.6 1062.2,2210.4 1064.2,2208.8 1065.9,2206.8 1066.2,2205.7 1068.2,2190.0 1070.2,2166.5 1071.9,2147.4 1072.2,2143.4 1074.2,2120.0 1076.2,2096.1 1077.8,2078.1 1078.2,2073.6 1080.2,2052.7 1082.2,2032.8 1083.8,2018.7 1084.2,2014.6 1086.2,1997.2 1088.2,1981.6 1089.7,1973.2 1090.2,1971.2 1092.2,1964.2 1094.2,1959.0 1095.6,1957.3 1096.2,1958.0 1098.2,1963.7 1100.2,1972.6 1101.6,1979.1 1102.2,1983.3 1104.2,1999.1 1106.2,2016.4 1106.5,2018.7 1108.2,2033.1 1110.2,2049.7 1111.5,2058.3 1112.2,2062.4 1114.2,2072.4 1116.2,2080.6 1117.4,2084.1 1118.2,2085.4 1120.2,2087.9 1122.2,2089.8 1124.2,2092.1 1125.3,2094.0 1126.2,2096.8 1128.2,2105.9 1130.2,2117.4 1130.3,2117.7 1132.2,2134.9 1134.2,2156.3 1135.2,2167.2 1136.2,2178.7 1138.2,2202.8 1140.2,2226.6 1140.2,2227.2 1142.2,2252.2 1144.2,2276.4 1145.1,2286.0 1146.2,2296.5 1148.2,2314.6 1150.1,2325.6 1150.2,2326.0 1152.2,2329.9 1154.1,2331.6 1154.2,2331.4 1156.2,2325.1 1158.0,2315.7 1158.2,2313.9 1160.2,2290.6 1162.0,2266.2 1162.2,2262.5 1164.2,2232.3 1165.9,2206.8 1166.2,2202.6 1168.2,2176.2 1168.9,2167.2 1170.2,2146.5 1172.2,2115.7 1172.9,2107.8 1174.2,2095.1 1176.2,2079.4 1177.8,2068.2 1178.2,2065.4 1180.2,2053.2 1182.2,2041.6 1182.8,2038.5 1184.2,2029.6 1186.2,2017.4 1187.7,2008.8 1188.2,2005.8 1190.2,1994.0 1192.2,1984.4 1192.7,1983.1 1194.2,1979.9 1196.2,1977.3 1196.6,1977.1 1198.2,1980.0 1200.2,1987.1 1201.6,1993.0 1202.2,1997.4 1204.2,2015.8 1205.5,2028.6 1206.2,2035.4 1208.2,2055.5 1209.5,2068.2 1210.2,2075.7 1212.2,2095.9 1213.5,2107.8 1214.2,2115.6 1216.2,2135.3 1217.4,2143.5 1218.2,2146.3 1220.2,2152.2 1222.2,2155.3 1222.4,2155.3 1224.2,2154.4 1226.2,2152.5 1228.2,2151.4 1228.3,2151.4 1230.2,2157.0 1232.2,2167.1 1232.3,2167.2 1234.2,2181.4 1236.2,2196.9 1236.2,2197.0 1238.2,2210.8 1240.2,2222.9 1241.2,2226.6 1242.2,2228.8 1244.2,2232.5 1246.2,2235.5 1248.2,2237.6 1250.0,2238.5 1250.2,2238.3 1252.2,2232.7 1254.2,2224.2 1255.9,2218.7 1256.2,2218.2 1258.2,2215.1 1260.2,2212.6 1262.2,2211.0 1262.9,2210.8 1264.2,2212.1 1266.2,2216.1 1268.2,2221.2 1268.8,2222.7 1270.2,2227.8 1272.2,2236.5 1273.8,2242.5 1274.2,2244.1 1276.2,2250.7 1277.7,2253.4 1278.2,2253.0 1280.2,2249.6 1282.2,2243.9 1282.7,2242.5 1284.2,2231.3 1286.2,2210.9 1286.6,2206.8 1288.2,2186.0 1289.6,2167.2 1290.2,2158.4 1292.2,2131.3 1292.6,2127.6 1294.2,2112.2 1295.5,2103.9 1296.2,2101.8 1298.2,2097.0 1300.2,2093.6 1301.5,2092.0 1302.2,2091.2 1304.2,2089.6 1306.2,2088.2 1308.2,2087.1 1308.4,2087.0 1310.2,2086.5 1312.2,2086.0 1314.2,2085.5 1315.3,2085.0 1316.2,2083.7 1318.2,2078.5 1320.2,2071.7 1321.3,2068.2 1322.2,2064.6 1324.2,2056.2 1326.2,2048.4 1326.2,2048.4 1328.2,2042.1 1330.2,2036.3 1332.2,2032.6 1332.2,2032.5 1334.2,2030.9 1336.2,2029.6 1338.2,2028.8 1339.1,2028.6 1340.2,2029.6 1342.2,2033.2 1344.2,2038.3 1345.0,2040.5 1346.2,2045.9 1348.2,2058.0 1350.0,2068.2 1350.2,2069.4 1352.2,2078.5 1354.2,2087.0 1356.2,2095.1 1356.9,2097.9 1358.2,2103.0 1360.2,2110.2 1362.2,2117.4 1364.2,2125.1 1364.9,2127.6 1366.2,2134.2 1368.2,2144.3 1370.2,2154.6 1370.8,2157.3 1372.2,2164.6 1374.2,2174.6 1376.2,2184.6 1376.7,2187.0 1378.2,2194.5 1380.2,2204.3 1382.2,2214.5 1382.7,2216.7 1384.2,2226.5 1386.2,2239.3 1387.6,2246.4 1388.2,2248.7 1390.2,2255.7 1392.2,2260.0 1392.6,2260.3 1394.2,2257.6 1396.2,2251.1 1397.5,2246.4 1398.2,2243.0 1400.2,2230.8 1402.2,2218.0 1402.5,2216.7 1404.2,2207.1 1406.2,2197.6 1406.4,2196.9 1408.2,2192.0 1410.2,2187.5 1412.2,2183.3 1412.4,2183.1 1414.2,2179.3 1416.2,2175.4 1418.2,2171.3 1418.3,2171.2 1420.2,2167.3 1422.2,2163.0 1424.2,2157.4 1424.3,2157.3 1426.2,2144.3 1428.2,2127.6 1428.2,2127.4 1430.2,2106.7 1432.2,2088.0 1432.2,2087.5 1434.2,2074.4 1436.2,2062.7 1438.2,2052.9 1440.0,2046.4 1440.2,2045.9 1442.2,2041.4 1444.2,2038.0 1445.9,2036.5 1446.2,2036.8 1448.2,2040.6 1450.2,2046.9 1451.9,2052.4 1452.2,2053.7 1454.2,2061.8 1456.2,2070.8 1457.8,2078.1 1458.2,2080.1 1460.2,2090.0 1462.2,2100.2 1463.8,2107.8 1464.2,2110.2 1466.2,2120.2 1468.2,2130.2 1469.7,2137.5 1470.2,2140.2 1472.2,2150.2 1474.2,2160.2 1475.6,2167.2 1476.2,2170.3 1478.2,2180.4 1480.2,2190.5 1481.6,2196.9 1482.2,2200.0 1484.2,2209.4 1486.2,2218.0 1487.5,2222.7 1488.2,2224.8 1490.2,2230.3 1492.2,2234.7 1493.5,2236.5 1494.2,2237.1 1496.2,2238.4 1498.2,2239.3 1499.4,2239.5 1500.2,2239.3 1502.2,2237.9 1504.2,2235.9 1505.3,2234.6 1506.2,2232.8 1508.2,2227.4 1510.2,2220.5 1511.3,2216.7 1512.2,2212.5 1514.2,2202.3 1515.2,2196.9 1516.2,2190.9 1518.2,2178.1 1519.2,2173.2 1520.2,2169.4 1522.2,2163.3 1523.2,2161.3 1524.2,2159.8 1526.2,2157.6 1528.2,2155.9 1529.1,2155.3 1530.2,2154.9 1532.2,2154.3 1534.2,2153.7 1535.0,2153.4 1536.2,2152.5 1538.2,2150.3 1540.0,2147.4 1540.2,2146.6 1542.2,2133.7 1543.0,2127.6 1544.2,2112.1 1545.9,2088.0 1546.2,2083.9 1548.2,2056.7 1548.9,2048.4 1550.2,2033.7 1552.2,2014.1 1552.9,2008.8 1554.2,1999.2 1556.2,1987.5 1556.8,1985.0 1558.2,1980.9 1560.2,1976.2 1561.8,1974.2 1562.2,1974.0 1564.2,1973.4 1565.7,1973.2 1566.2,1973.6 1568.2,1977.5 1570.2,1983.6 1570.7,1985.0 1572.2,1992.3 1574.2,2004.0 1575.6,2012.8 1576.2,2016.8 1578.2,2030.9 1580.2,2045.8 1580.6,2048.4 1582.2,2061.4 1584.2,2077.6 1585.5,2088.0 1586.2,2093.6 1588.2,2109.6 1590.2,2125.6 1590.5,2127.6 1592.2,2141.6 1594.2,2157.6 1595.4,2167.2 1596.2,2173.6 1598.2,2189.6 1600.2,2205.6 1600.4,2206.8 1602.2,2222.0 1604.2,2238.3 1605.3,2246.4 1606.2,2252.4 1608.2,2265.1 1610.2,2275.9 1610.3,2276.1 1612.2,2284.7 1614.2,2290.0 1614.3,2290.0 1616.2,2289.3 1618.2,2288.1 1620.2,2286.3 1622.2,2284.2 1624.2,2281.6 1626.2,2278.7 1627.9,2276.1 1628.2,2275.4 1630.2,2269.2 1631.9,2262.3 1632.2,2260.0 1634.2,2243.9 1636.2,2223.7 1637.8,2206.8 1638.2,2201.9 1640.2,2177.4 1642.2,2150.3 1643.8,2127.6 1644.2,2118.8 1646.2,2075.9 1647.7,2048.4 1648.2,2041.8 1650.2,2018.6 1652.2,2001.5 1652.7,1998.9 1654.2,1993.0 1656.2,1987.3 1657.6,1985.0 1658.2,1984.7 1660.2,1983.7 1662.2,1983.1 1662.6,1983.1 1664.2,1984.6 1666.2,1988.3 1668.2,1992.6 1670.2,1996.0 1671.5,1996.9 1672.2,1996.4 1674.2,1993.2 1676.2,1988.4 1678.2,1983.1 1680.2,1978.6 1682.2,1976.2 1682.4,1976.1 1684.2,1978.3 1686.2,1982.8 1688.2,1989.2 1689.3,1993.0 1690.2,1999.0 1692.2,2017.7 1693.3,2028.6 1694.2,2041.7 1696.2,2072.8 1697.2,2088.0 1698.2,2103.3 1700.2,2133.3 1701.2,2147.4 1702.2,2163.3 1704.2,2193.3 1705.1,2206.8 1706.2,2224.0 1708.2,2255.0 1709.1,2266.2 1710.2,2278.1 1712.2,2297.3 1714.2,2311.9 1715.0,2315.7 1716.2,2318.6 1718.2,2322.3 1720.2,2324.9 1721.0,2325.6 1722.2,2326.3 1724.2,2327.1 1726.2,2327.8 1727.9,2328.6 1728.2,2328.9 1730.2,2331.3 1732.2,2334.2 1734.2,2336.3 1734.9,2336.5 1736.2,2335.5 1738.2,2332.2 1740.2,2327.2 1740.8,2325.6 1742.2,2314.8 1744.2,2292.0 1744.8,2286.0 1746.2,2265.0 1748.2,2233.7 1748.7,2226.6 1750.2,2203.6 1752.2,2173.6 1752.7,2167.2 1754.2,2142.7 1756.2,2112.9 1756.6,2107.8 1758.2,2090.2 1760.2,2071.2 1760.6,2068.2 1762.2,2055.4 1764.2,2041.2 1766.2,2029.9 1766.5,2028.6 1768.2,2023.1 1770.2,2017.5 1772.2,2012.9 1774.2,2009.2 1774.5,2008.8 1776.2,2006.6 1778.2,2004.6 1780.2,2002.8 1782.2,2001.0 1782.4,2000.9 1784.2,1999.0 1786.2,1996.8 1788.2,1994.9 1790.2,1994.0 1790.3,1994.0 1792.2,1995.2 1794.2,1997.6 1796.2,2000.9 1798.2,2004.9 1798.2,2004.9 1800.2,2013.6 1802.2,2025.8 1804.2,2038.5 1804.2,2039.1 1806.2,2054.8 1808.2,2072.1 1810.1,2088.0 1810.2,2089.3 1812.2,2106.3 1814.2,2123.2 1816.0,2137.5 1816.2,2139.0 1818.2,2153.1 1820.2,2166.4 1822.2,2179.6 1823.4,2187.0 1824.2,2193.0 1826.2,2206.5 1828.2,2219.8 1829.3,2226.6 1830.2,2232.5 1832.2,2244.9 1834.2,2256.7 1835.2,2262.3 1836.2,2267.4 1838.2,2277.2 1840.2,2286.2 1841.2,2290.0 1842.2,2293.9 1844.2,2301.4 1846.2,2306.8 1847.1,2307.8 1848.2,2306.5 1850.2,2301.1 1852.2,2293.5 1853.1,2290.0 1854.2,2281.9 1856.2,2263.6 1857.0,2256.3 1858.2,2244.5 1860.2,2224.2 1861.0,2216.7 1862.2,2204.2 1864.2,2184.2 1865.0,2177.1 1866.2,2163.8 1868.2,2143.6 1868.9,2137.5 1870.2,2127.0 1872.2,2112.4 1872.9,2107.8 1874.2,2097.5 1876.2,2082.5 1876.8,2078.1 1878.2,2066.9 1880.2,2051.8 1880.8,2048.4 1882.2,2041.9 1884.2,2034.3 1885.7,2028.6 1886.2,2026.6 1888.2,2018.5 1890.2,2010.6 1890.7,2008.8 1892.2,2002.8 1894.2,1995.3 1896.2,1987.8" stroke="#ff7f27"/>
<rect x="1886" y="1631" width="4" height="1020" fill="#000" stroke="none" shape-rendering="crispEdges"/>
<path d="M284.2,2141.1 286.2,2141.1 288.2,2141.1 290.2,2141.1 292.2,2141.1 294.2,2141.1 296.2,2141.1 298.2,2141.1 300.2,2141.1 302.2,2141.1 304.2,2141.1 306.2,2141.1 308.2,2141.1 308.3,2141.1 310.2,2140.7 312.2,2140.0 314.2,2139.1 316.2,2138.0 318.2,2136.9 320.2,2135.9 322.2,2134.9 324.2,2134.3 326.0,2134.0 326.2,2134.0 328.2,2134.4 330.2,2135.0 332.2,2135.8 334.2,2136.8 336.2,2138.0 338.2,2139.3 340.2,2140.7 342.2,2142.1 344.2,2143.6 346.2,2145.1 348.2,2146.6 350.2,2148.0 352.2,2149.3 354.2,2150.5 356.2,2151.6 358.2,2152.5 360.2,2153.2 362.2,2153.7 363.2,2153.8 364.2,2153.6 366.2,2152.9 368.2,2151.9 370.2,2150.7 372.2,2149.2 374.2,2147.5 376.2,2145.6 378.2,2143.6 380.2,2141.5 382.2,2139.2 384.2,2137.0 386.2,2134.6 388.2,2132.3 390.2,2130.0 392.2,2127.8 394.2,2125.7 396.2,2123.6 398.2,2121.8 400.2,2120.1 402.2,2118.6 404.2,2117.4 406.2,2116.4 408.2,2115.8 409.2,2115.6 410.2,2115.8 412.2,2116.7 414.2,2118.1 416.2,2119.8 418.2,2121.8 420.2,2123.9 422.2,2126.1 424.2,2128.1 426.2,2130.0 428.2,2131.5 430.2,2132.7 432.2,2133.3 432.2,2133.3 434.2,2132.2 436.2,2130.3 438.2,2127.6 440.2,2124.6 442.2,2121.3 444.2,2118.0 446.2,2115.1 448.2,2112.6 450.2,2110.9 451.7,2110.3 452.2,2110.6 454.2,2112.7 456.2,2116.0 458.2,2120.3 460.2,2125.7 462.2,2132.1 464.2,2139.3 466.2,2147.3 467.6,2153.1 468.2,2158.1 470.2,2181.9 472.2,2213.3 474.2,2246.2 476.2,2274.5 476.5,2277.0 478.2,2295.9 480.2,2317.8 482.2,2339.2 484.2,2359.2 486.2,2376.7 488.2,2390.7 490.2,2399.9 491.3,2402.7 492.2,2397.2 494.2,2374.6 496.2,2339.7 498.2,2295.0 500.2,2243.4 502.2,2187.5 504.2,2130.2 506.2,2074.0 508.2,2021.8 510.2,1976.2 512.2,1940.0 514.2,1915.8 515.4,1908.5 516.2,1909.5 518.2,1914.7 520.2,1922.7 522.2,1932.1 524.2,1941.8 526.2,1950.3 528.2,1956.2 529.6,1958.1 530.2,1956.9 532.2,1948.9 534.2,1936.3 536.2,1921.6 538.2,1907.7 540.2,1897.0 541.9,1892.6 542.2,1893.5 544.2,1905.4 546.2,1925.7 548.2,1952.8 550.2,1985.4 552.2,2021.7 554.2,2060.3 556.2,2099.7 558.2,2138.2 560.2,2174.5 562.2,2206.9 564.2,2233.9 566.2,2254.0 568.2,2265.6 568.5,2266.4 570.2,2266.4 572.2,2266.4 574.2,2266.4 576.2,2266.4 577.3,2266.4 578.2,2267.4 580.2,2272.5 582.2,2280.3 584.2,2289.4 586.2,2298.7 588.2,2306.8 590.2,2312.5 591.5,2314.2 592.2,2312.6 594.2,2304.7 596.2,2292.2 598.2,2275.9 600.2,2256.9 602.2,2236.0 604.2,2214.2 606.2,2192.3 608.2,2171.5 610.2,2152.4 612.2,2136.2 614.2,2123.6 616.2,2115.7 617.0,2114.2 618.2,2116.9 620.2,2125.7 622.2,2138.6 624.2,2154.3 626.2,2171.5 628.2,2188.7 630.2,2204.7 632.2,2218.0 634.2,2227.4 635.8,2231.0 636.2,2230.1 638.2,2223.9 640.2,2213.6 642.2,2200.1 644.2,2184.1 646.2,2166.4 648.2,2147.8 650.2,2129.0 652.2,2110.8 654.2,2094.0 656.2,2079.4 658.2,2067.7 660.2,2059.7 660.5,2058.9 662.2,2056.9 664.2,2055.1 666.2,2053.3 667.6,2051.9 668.2,2050.9 670.2,2047.0 672.2,2042.3 674.2,2037.0 676.2,2031.6 678.2,2026.3 680.2,2021.7 682.2,2017.9 684.2,2015.4 685.3,2014.7 686.2,2017.9 688.2,2030.8 690.2,2050.5 692.2,2075.9 694.2,2105.4 696.2,2137.9 698.2,2171.9 700.2,2206.2 702.2,2239.3 704.2,2270.0 706.2,2296.9 708.2,2318.7 710.2,2334.0 711.9,2340.7 712.2,2339.9 714.2,2333.3 716.2,2323.0 718.2,2309.6 720.2,2293.2 722.2,2274.2 724.2,2253.0 726.2,2229.9 728.2,2205.3 730.2,2179.4 732.2,2152.7 734.2,2125.5 736.2,2098.2 738.2,2071.0 740.2,2044.3 742.2,2018.5 744.2,1993.9 746.2,1970.8 748.2,1949.7 750.2,1930.8 752.2,1914.5 754.2,1901.1 756.2,1890.9 758.2,1884.4 758.6,1883.7 760.2,1887.0 762.2,1893.3 764.2,1902.1 766.2,1912.9 768.2,1925.6 770.2,1939.7 772.2,1955.1 774.2,1971.5 776.2,1988.5 778.2,2005.9 780.2,2023.4 782.2,2040.7 784.2,2057.5 786.2,2073.1 786.2,2073.5 788.2,2091.7 790.2,2112.4 792.2,2134.9 794.2,2158.6 796.2,2183.0 798.2,2207.4 800.2,2231.1 802.2,2253.7 804.2,2274.5 806.2,2292.8 808.2,2308.1 810.2,2319.8 812.2,2327.2 812.7,2328.3 814.2,2328.2 816.2,2328.1 818.2,2327.8 820.2,2327.5 822.2,2327.2 824.2,2326.8 826.2,2326.3 828.2,2325.8 830.2,2325.3 832.2,2324.8 832.2,2324.7 834.2,2320.9 836.2,2315.2 838.2,2307.8 840.2,2298.9 842.2,2288.6 844.2,2277.1 846.2,2264.4 848.2,2250.8 850.2,2236.3 852.2,2221.1 854.2,2205.4 856.2,2189.2 858.2,2172.8 860.2,2156.2 862.2,2139.6 864.2,2123.2 866.2,2107.0 868.2,2091.2 870.2,2076.0 872.2,2061.5 874.2,2047.8 876.2,2035.1 878.2,2023.6 880.2,2013.2 882.2,2004.3 884.2,1996.9 886.2,1991.1 888.2,1987.2 888.8,1986.4 890.2,1988.6 892.2,1994.1 894.2,2001.8 896.2,2011.6 898.2,2023.1 900.2,2036.0 902.2,2050.1 904.2,2065.1 906.2,2080.7 908.2,2096.6 910.2,2112.5 912.2,2128.1 914.2,2143.2 916.2,2157.3 918.2,2170.4 920.2,2182.0 922.2,2191.9 924.2,2199.8 926.2,2205.4 927.8,2208.0 928.2,2207.6 930.2,2204.8 932.2,2200.1 934.2,2193.9 936.2,2186.5 938.2,2178.3 940.2,2169.6 942.2,2160.8 944.2,2152.2 946.2,2144.1 948.2,2136.9 950.2,2130.9 952.2,2126.6 954.2,2124.1 954.3,2124.1 956.2,2124.4 958.2,2125.1 960.2,2125.9 962.2,2127.0 964.2,2128.2 966.2,2129.6 968.2,2131.0 970.2,2132.4 972.2,2133.9 974.2,2135.3 976.2,2136.5 978.2,2137.7 980.2,2138.7 980.9,2138.9 982.2,2139.4 984.2,2140.1 986.2,2140.8 988.2,2141.5 990.2,2142.2 992.2,2142.8 994.2,2143.3 996.2,2143.7 998.2,2144.1 1000.2,2144.2 1000.4,2144.2 1002.2,2142.6 1004.2,2139.4 1006.2,2134.9 1008.2,2129.5 1010.2,2123.3 1012.2,2116.6 1014.2,2109.6 1016.2,2102.6 1018.2,2095.8 1020.2,2089.4 1022.2,2083.8 1024.2,2079.1 1026.2,2075.5 1028.2,2073.3 1028.7,2073.1 1030.2,2074.5 1032.2,2077.2 1034.2,2080.8 1036.2,2085.3 1038.2,2090.5 1040.2,2096.6 1042.2,2103.3 1044.2,2110.7 1046.2,2118.8 1048.2,2127.4 1050.2,2136.5 1052.2,2146.1 1054.2,2156.2 1056.2,2166.6 1058.2,2177.4 1060.0,2187.0 1060.2,2188.8 1062.2,2209.1 1064.0,2226.6 1064.2,2228.8 1066.2,2243.2 1067.9,2252.4 1068.2,2253.5 1070.2,2259.6 1072.2,2264.4 1073.9,2267.2 1074.2,2267.7 1076.2,2269.7 1078.2,2271.0 1078.8,2271.2 1080.2,2270.8 1082.2,2269.5 1084.2,2267.7 1085.7,2266.2 1086.2,2265.5 1088.2,2261.7 1090.2,2256.7 1091.7,2252.4 1092.2,2250.1 1094.2,2240.0 1096.2,2227.1 1097.6,2216.7 1098.2,2210.1 1100.2,2182.5 1102.2,2152.1 1102.6,2147.4 1104.2,2123.3 1106.2,2094.7 1107.5,2078.1 1108.2,2070.1 1110.2,2049.3 1112.2,2030.6 1112.5,2028.6 1114.2,2014.0 1116.2,1999.3 1117.4,1993.0 1118.2,1990.3 1120.2,1984.8 1122.2,1980.7 1123.4,1979.1 1124.2,1978.5 1126.2,1977.2 1128.2,1976.3 1129.3,1976.1 1130.2,1976.3 1132.2,1976.9 1134.2,1977.9 1136.2,1979.1 1136.2,1979.1 1138.2,1982.2 1140.2,1986.7 1141.2,1989.0 1142.2,1992.4 1144.2,2000.0 1146.1,2008.8 1146.2,2009.5 1148.2,2024.2 1150.2,2041.4 1151.1,2048.4 1152.2,2057.7 1154.2,2073.7 1156.0,2088.0 1156.2,2089.7 1158.2,2105.8 1160.2,2121.8 1161.0,2127.6 1162.2,2137.7 1164.2,2152.9 1165.0,2157.3 1166.2,2163.9 1168.2,2171.8 1168.9,2173.2 1170.2,2173.9 1172.2,2174.7 1174.2,2175.1 1174.9,2175.1 1176.2,2174.8 1178.2,2173.7 1180.2,2172.6 1181.8,2172.2 1182.2,2172.3 1184.2,2173.9 1186.2,2176.4 1186.7,2177.1 1188.2,2181.8 1190.2,2190.6 1191.7,2196.9 1192.2,2199.2 1194.2,2207.5 1196.2,2215.3 1196.6,2216.7 1198.2,2222.4 1200.2,2228.0 1200.6,2228.6 1202.2,2230.0 1204.2,2231.2 1205.5,2231.6 1206.2,2231.2 1208.2,2228.7 1210.2,2225.1 1210.5,2224.7 1212.2,2220.2 1214.2,2214.0 1216.2,2207.4 1216.4,2206.8 1218.2,2200.8 1220.2,2193.9 1222.2,2187.4 1222.4,2187.0 1224.2,2181.9 1226.2,2176.7 1228.2,2171.4 1228.3,2171.2 1230.2,2165.7 1232.2,2159.8 1234.2,2153.4 1234.3,2153.4 1236.2,2144.8 1238.2,2135.3 1240.2,2127.6 1240.2,2127.5 1242.2,2122.8 1244.2,2118.9 1246.2,2115.3 1248.2,2111.6 1250.0,2107.8 1250.2,2107.2 1252.2,2100.7 1254.2,2094.1 1255.9,2090.0 1256.2,2089.6 1258.2,2087.4 1260.2,2085.7 1261.9,2085.0 1262.2,2085.1 1264.2,2086.2 1266.2,2088.2 1267.8,2090.0 1268.2,2090.8 1270.2,2095.6 1272.2,2102.1 1273.8,2107.8 1274.2,2110.2 1276.2,2122.3 1278.2,2136.7 1279.7,2147.4 1280.2,2151.7 1282.2,2168.5 1284.2,2185.7 1285.6,2196.9 1286.2,2201.3 1288.2,2215.9 1290.2,2229.2 1291.6,2236.5 1292.2,2239.3 1294.2,2247.4 1296.2,2253.7 1297.5,2256.3 1298.2,2257.0 1300.2,2258.5 1302.2,2259.3 1302.5,2259.3 1304.2,2256.6 1306.2,2250.5 1307.4,2246.4 1308.2,2242.4 1310.2,2229.5 1312.2,2214.7 1313.4,2206.8 1314.2,2200.8 1316.2,2186.3 1318.2,2173.0 1319.3,2167.2 1320.2,2163.5 1322.2,2156.8 1324.2,2150.6 1325.2,2147.4 1326.2,2144.1 1328.2,2137.4 1330.2,2130.8 1331.2,2127.6 1332.2,2124.2 1334.2,2118.1 1336.2,2111.3 1337.1,2107.8 1338.2,2101.9 1340.2,2089.1 1342.2,2074.5 1343.1,2068.2 1344.2,2057.3 1346.2,2036.0 1348.2,2015.4 1349.0,2008.8 1350.2,1999.8 1352.2,1986.1 1354.2,1975.6 1355.0,1973.2 1356.2,1970.7 1358.2,1967.5 1360.2,1965.2 1361.9,1964.3 1362.2,1964.4 1364.2,1966.3 1366.2,1969.6 1368.2,1973.9 1368.8,1975.1 1370.2,1981.0 1372.2,1992.3 1374.2,2005.5 1374.8,2008.8 1376.2,2020.2 1378.2,2037.2 1380.2,2054.6 1380.7,2058.3 1382.2,2071.3 1384.2,2087.9 1386.2,2104.6 1386.6,2107.8 1388.2,2121.3 1390.2,2137.9 1392.2,2154.6 1392.6,2157.3 1394.2,2171.6 1396.2,2188.9 1398.2,2204.9 1398.5,2206.8 1400.2,2218.4 1402.2,2230.8 1404.2,2241.5 1404.5,2242.5 1406.2,2250.0 1408.2,2256.1 1408.4,2256.3 1410.2,2257.9 1412.2,2259.0 1413.4,2259.3 1414.2,2258.4 1416.2,2253.5 1418.2,2246.7 1418.3,2246.4 1420.2,2235.3 1422.2,2220.6 1424.2,2206.9 1424.3,2206.8 1426.2,2195.4 1428.2,2184.7 1430.2,2177.1 1430.2,2177.0 1432.2,2173.4 1434.2,2170.6 1436.2,2168.2 1438.2,2165.8 1440.0,2163.3 1440.2,2162.8 1442.2,2159.1 1444.2,2155.0 1446.2,2150.8 1447.9,2147.4 1448.2,2146.8 1450.2,2142.7 1452.2,2138.6 1453.9,2135.5 1454.2,2134.8 1456.2,2130.8 1458.2,2127.3 1459.8,2125.6 1460.2,2125.5 1462.2,2125.1 1464.2,2124.8 1465.7,2124.7 1466.2,2124.7 1468.2,2124.9 1470.2,2125.3 1471.7,2125.6 1472.2,2125.9 1474.2,2127.5 1476.2,2129.7 1478.2,2132.1 1479.6,2133.6 1480.2,2134.2 1482.2,2136.1 1484.2,2138.0 1486.2,2140.0 1487.5,2141.5 1488.2,2142.5 1490.2,2145.8 1492.2,2149.5 1494.2,2153.2 1495.4,2155.3 1496.2,2156.8 1498.2,2160.5 1500.2,2164.2 1502.2,2167.6 1503.4,2169.2 1504.2,2170.3 1506.2,2172.9 1508.2,2175.0 1510.2,2176.1 1510.3,2176.1 1512.2,2175.0 1514.2,2172.8 1516.2,2170.3 1517.2,2169.2 1518.2,2168.2 1520.2,2166.1 1522.2,2164.1 1523.2,2163.3 1524.2,2162.4 1526.2,2160.7 1528.2,2159.5 1529.1,2159.3 1530.2,2159.9 1532.2,2161.9 1534.2,2164.4 1535.0,2165.2 1536.2,2166.4 1538.2,2168.2 1540.2,2170.0 1542.2,2172.2 1543.0,2173.2 1544.2,2176.0 1546.2,2181.6 1547.9,2185.0 1548.2,2185.4 1550.2,2186.8 1550.9,2187.0 1552.2,2186.2 1554.2,2183.7 1555.8,2181.1 1556.2,2180.1 1558.2,2173.9 1560.2,2165.7 1560.8,2163.3 1562.2,2154.1 1564.2,2138.7 1565.7,2127.6 1566.2,2124.2 1568.2,2110.5 1570.2,2098.3 1570.7,2095.9 1572.2,2089.3 1574.2,2081.9 1575.6,2078.1 1576.2,2077.1 1578.2,2074.1 1580.2,2072.3 1580.6,2072.2 1582.2,2073.5 1584.2,2076.5 1586.2,2078.9 1586.5,2079.1 1588.2,2079.5 1590.2,2079.9 1592.2,2080.1 1592.5,2080.1 1594.2,2079.4 1596.2,2077.9 1598.2,2076.3 1598.4,2076.1 1600.2,2074.4 1602.2,2072.3 1604.2,2070.3 1604.4,2070.2 1606.2,2068.5 1608.2,2067.2 1608.3,2067.2 1610.2,2068.1 1612.2,2069.9 1614.2,2072.2 1614.3,2072.2 1616.2,2075.9 1618.2,2080.6 1620.2,2086.4 1622.2,2093.1 1624.2,2100.7 1625.9,2107.8 1626.2,2109.6 1628.2,2124.5 1630.2,2142.8 1631.9,2157.3 1632.2,2160.4 1634.2,2178.4 1636.2,2195.8 1637.8,2206.8 1638.2,2208.9 1640.2,2218.2 1642.2,2226.3 1644.2,2232.9 1645.7,2236.5 1646.2,2237.3 1648.2,2240.1 1650.2,2242.6 1652.2,2244.6 1654.2,2245.9 1655.6,2246.4 1656.2,2246.0 1658.2,2242.7 1660.2,2237.3 1662.2,2230.9 1663.6,2226.6 1664.2,2224.0 1666.2,2215.1 1668.2,2204.9 1670.2,2194.0 1671.5,2187.0 1672.2,2182.3 1674.2,2168.7 1676.2,2154.8 1677.4,2147.4 1678.2,2142.9 1680.2,2132.4 1682.2,2122.8 1683.4,2117.7 1684.2,2114.0 1686.2,2105.2 1688.2,2098.2 1689.3,2095.9 1690.2,2095.2 1692.2,2093.9 1694.2,2093.2 1695.2,2093.0 1696.2,2093.0 1698.2,2093.3 1700.2,2093.7 1701.2,2094.0 1702.2,2094.6 1704.2,2096.5 1706.2,2098.8 1707.1,2099.9 1708.2,2101.7 1710.2,2105.2 1711.1,2105.8 1712.2,2105.3 1714.2,2103.2 1716.2,2100.7 1717.0,2099.9 1718.2,2098.8 1720.2,2096.8 1722.2,2095.3 1723.0,2095.0 1724.2,2094.6 1726.2,2094.1 1727.9,2094.0 1728.2,2094.0 1730.2,2095.4 1732.2,2097.7 1733.9,2099.9 1734.2,2100.6 1736.2,2106.2 1738.2,2111.2 1738.8,2111.8 1740.2,2112.0 1742.2,2112.2 1744.2,2112.3 1746.2,2112.4 1748.2,2112.5 1750.2,2112.7 1750.7,2112.8 1752.2,2113.5 1754.2,2115.1 1756.2,2117.3 1756.6,2117.7 1758.2,2121.6 1760.2,2128.4 1762.2,2136.3 1762.6,2137.5 1764.2,2145.6 1766.2,2156.5 1768.2,2166.2 1768.5,2167.2 1770.2,2172.8 1772.2,2178.5 1774.2,2182.7 1774.5,2183.1 1776.2,2185.1 1778.2,2187.0 1780.2,2188.0 1780.4,2188.0 1782.2,2187.9 1784.2,2187.6 1786.2,2187.1 1786.3,2187.0 1788.2,2182.6 1790.2,2177.2 1790.3,2177.1 1792.2,2175.5 1794.2,2174.3 1796.2,2173.2 1796.2,2173.2 1798.2,2172.1 1800.2,2171.2 1802.2,2170.3 1804.2,2169.2 1804.2,2169.1 1806.2,2167.3 1808.2,2165.1 1810.1,2163.3 1810.2,2163.1 1812.2,2161.2 1814.2,2159.2 1816.2,2157.3 1818.2,2155.7 1820.2,2154.7 1821.4,2154.4 1822.2,2154.4 1824.2,2154.4 1826.2,2154.4 1828.2,2154.4 1829.3,2154.4 1830.2,2154.8 1832.2,2157.1 1834.2,2160.0 1835.2,2161.3 1836.2,2162.6 1838.2,2165.5 1840.2,2167.7 1841.2,2168.2 1842.2,2167.9 1844.2,2166.4 1846.2,2164.3 1847.1,2163.3 1848.2,2161.1 1850.2,2155.8 1851.1,2153.4 1852.2,2148.9 1854.2,2140.2 1855.0,2137.5 1856.2,2135.0 1858.2,2131.4 1860.2,2128.6 1861.0,2127.6 1862.2,2126.3 1864.2,2124.4 1866.2,2122.8 1867.9,2121.7 1868.2,2121.5 1870.2,2120.7 1872.2,2120.0 1874.2,2119.1 1874.9,2118.7 1876.2,2117.2 1878.2,2114.2 1880.2,2110.7 1880.8,2109.8 1882.2,2106.9 1884.2,2102.4 1886.2,2098.6 1886.7,2097.9 1888.2,2096.5 1890.2,2095.0 1891.7,2094.0 1892.2,2093.5 1894.2,2091.8 1896.2,2090.1" stroke="#a6a6a6"/>
</g>
<g shape-rendering="crispEdges">
<rect x="284" y="1631" width="1606" height="4" fill="#000"/>
<rect x="283" y="1633" width="4" height="1019" fill="#bfbfbf"/>
<rect x="283" y="2647" width="1606" height="5" fill="#bfbfbf"/>
<rect x="283" y="2650" width="2" height="1" fill="#000"/>
</g>
<text transform="translate(130.40 1656.40) scale(0.9752 1.0000)" font-family="'Liberation Sans', Arial, sans-serif" font-size="71.00" stroke="#000" stroke-width="0.21">0.6</text>
<text transform="translate(129.38 1825.40) scale(0.9752 1.0000)" font-family="'Liberation Sans', Arial, sans-serif" font-size="71.00" stroke="#000" stroke-width="0.21">0.4</text>
<text transform="translate(130.83 1994.40) scale(0.9752 1.0000)" font-family="'Liberation Sans', Arial, sans-serif" font-size="71.00" stroke="#000" stroke-width="0.21">0.2</text>
<text transform="translate(187.80 2163.40) scale(0.9752 1.0000)" font-family="'Liberation Sans', Arial, sans-serif" font-size="71.00" stroke="#000" stroke-width="0.21">0</text>
<text transform="translate(107.78 2332.40) scale(0.9752 1.0000)" font-family="'Liberation Sans', Arial, sans-serif" font-size="71.00" stroke="#000" stroke-width="0.21">-0.2</text>
<text transform="translate(106.33 2501.40) scale(0.9752 1.0000)" font-family="'Liberation Sans', Arial, sans-serif" font-size="71.00" stroke="#000" stroke-width="0.21">-0.4</text>
<text transform="translate(107.34 2670.40) scale(0.9752 1.0000)" font-family="'Liberation Sans', Arial, sans-serif" font-size="71.00" stroke="#000" stroke-width="0.21">-0.6</text>
<text transform="translate(247.19 2753.30) scale(0.9752 1.0000)" font-family="'Liberation Sans', Arial, sans-serif" font-size="71.00" stroke="#000" stroke-width="0.21">50</text>
<text transform="translate(568.49 2753.30) scale(0.9752 1.0000)" font-family="'Liberation Sans', Arial, sans-serif" font-size="71.00" stroke="#000" stroke-width="0.21">70</text>
<text transform="translate(889.49 2753.30) scale(0.9752 1.0000)" font-family="'Liberation Sans', Arial, sans-serif" font-size="71.00" stroke="#000" stroke-width="0.21">90</text>
<text transform="translate(1188.74 2753.30) scale(0.9752 1.0000)" font-family="'Liberation Sans', Arial, sans-serif" font-size="71.00" stroke="#000" stroke-width="0.21">110</text>
<text transform="translate(1509.74 2753.30) scale(0.9752 1.0000)" font-family="'Liberation Sans', Arial, sans-serif" font-size="71.00" stroke="#000" stroke-width="0.21">130</text>
<text transform="translate(1831.74 2753.30) scale(0.9752 1.0000)" font-family="'Liberation Sans', Arial, sans-serif" font-size="71.00" stroke="#000" stroke-width="0.21">150</text>
<text transform="translate(79.00 2290.03) rotate(-90)" font-family="'Liberation Sans', Arial, sans-serif" font-size="68.00" letter-spacing="-1.278" stroke="#000" stroke-width="0.20">Amplitude</text>
<text transform="translate(943.66 2846.30) scale(0.9850 1.0000)" font-family="'Liberation Sans', Arial, sans-serif" font-size="69.80" letter-spacing="-3.784" stroke="#000" stroke-width="0.20">Time</text>
<text transform="translate(1115.54 2846.30) scale(0.9850 1.0000)" font-family="'Liberation Sans', Arial, sans-serif" font-size="69.80" letter-spacing="-1.000" stroke="#000" stroke-width="0.20">(μs)</text>
<text transform="translate(927.46 2999.64) scale(0.7826 0.8624)" font-family="'Liberation Serif', 'Times New Roman', serif" font-size="100.00" stroke="#000" stroke-width="0.26">(</text>
<text transform="translate(953.74 3000.52) scale(0.9127 0.9011)" font-family="'Liberation Serif', 'Times New Roman', serif" font-size="100.00" font-weight="bold" stroke="#000" stroke-width="0.22">b</text>
<text transform="translate(1005.82 2999.64) scale(0.7709 0.8624)" font-family="'Liberation Serif', 'Times New Roman', serif" font-size="100.00" stroke="#000" stroke-width="0.26">)</text>
<g shape-rendering="crispEdges">
<rect x="335" y="3246" width="1443" height="5" fill="#d9d9d9"/>
<rect x="335" y="3363" width="1443" height="4" fill="#d9d9d9"/>
<rect x="335" y="3479" width="1443" height="5" fill="#d9d9d9"/>
<rect x="335" y="3596" width="1443" height="4" fill="#d9d9d9"/>
<rect x="335" y="3712" width="1443" height="5" fill="#d9d9d9"/>
<rect x="335" y="3829" width="1443" height="4" fill="#d9d9d9"/>
<rect x="335" y="3949" width="1443" height="5" fill="#d9d9d9"/>
<rect x="813" y="3130" width="5" height="940" fill="#d9d9d9"/>
<rect x="1292" y="3130" width="4" height="940" fill="#d9d9d9"/>
</g>
<clipPath id="cc"><rect x="337" y="3130" width="1442" height="940"/></clipPath>
<g clip-path="url(#cc)" fill="none" shape-rendering="crispEdges">
<path d="M336.5,4046.7 359.9,4053.8 383.4,4050.3 406.8,4050.3 430.3,4050.3 453.7,4050.3 477.1,4045.3 500.6,4042.1 524.0,4038.9 547.5,4026.5 570.9,4019.5 594.3,4030.8 617.8,3956.5 641.2,3971.7 664.7,3992.2 688.1,3835.4 711.5,3955.8 735.0,3996.5 758.4,3702.7 781.9,3860.2 805.3,3899.1 828.7,3915.0 852.2,3961.1 875.6,3823.0 899.1,3980.5 922.5,3934.5 945.9,3911.5 969.4,3814.2 992.8,3782.3 1016.3,3369.6 1039.7,3661.6 1063.1,3512.9 1086.6,3992.9 1110.0,3844.2 1133.5,3776.3 1156.9,3957.5 1180.3,3808.8 1203.8,3871.9 1227.2,3795.8 1250.7,3823.7 1274.1,3984.8 1297.5,3932.7 1321.0,3948.7 1344.4,3948.7 1367.9,3940.5 1391.3,3968.1 1414.7,4038.9 1438.2,3960.4 1461.6,4007.1 1485.1,3987.6 1508.5,3960.4 1531.9,3980.5 1555.4,4019.5 1578.8,3992.9 1602.3,3987.6 1625.7,4023.0 1649.1,4011.3 1672.6,4038.9 1696.0,4021.9 1719.5,4054.9 1742.9,4007.1 1766.3,4035.4 1789.8,4007.1" stroke="#1874cd" stroke-width="7" stroke-linejoin="miter" stroke-miterlimit="3"/>
<path d="M336.5,4053.8 359.9,4057.3 383.4,4057.3 406.8,4057.3 430.3,4057.3 453.7,4057.3 477.1,4057.3 500.6,4057.3 524.0,4053.1 547.5,4048.8 570.9,4021.9 594.3,4017.7 617.8,3969.9 641.2,3971.7 664.7,3869.0 688.1,3897.3 711.5,3766.4 735.0,3925.7 758.4,3877.9 781.9,3957.5 805.3,3821.2 828.7,3925.7 852.2,3955.8 875.6,3971.7 899.1,3969.9 922.5,3966.4 945.9,3847.8 969.4,3713.3 992.8,3289.9 1016.3,3185.5 1039.7,3743.4 1063.1,3647.4 1086.6,3665.1 1110.0,3876.1 1133.5,3876.1 1156.9,3952.2 1180.3,3927.4 1203.8,3957.5 1227.2,3872.6 1250.7,3879.6 1274.1,3748.7 1297.5,3915.0 1321.0,3902.7 1344.4,3954.0 1367.9,3961.1 1391.3,3969.9 1414.7,3980.5 1438.2,3966.4 1461.6,3975.2 1485.1,3971.7 1508.5,3985.8 1531.9,3996.5 1555.4,4031.9 1578.8,3992.9 1602.3,4007.1 1625.7,4001.8 1649.1,4026.5 1672.6,4010.6 1696.0,3994.7 1719.5,3987.6 1742.9,4003.5 1766.3,4021.2 1789.8,4000.0" stroke="#ff0000" stroke-width="7.5" stroke-dasharray="12.5 14" stroke-linecap="round" stroke-linejoin="round"/>
</g>
<g shape-rendering="crispEdges">
<rect x="336" y="3130" width="1442" height="4" fill="#000"/>
<rect x="1774" y="3130" width="4" height="939" fill="#000"/>
<rect x="335" y="3132" width="4" height="938" fill="#bfbfbf"/>
<rect x="335" y="4066" width="1442" height="4" fill="#bfbfbf"/>
<rect x="335" y="4068" width="2" height="1" fill="#000"/>
</g>
<g fill="none" shape-rendering="crispEdges">
<line x1="1236.5" y1="3297" x2="1348" y2="3297" stroke="#1874cd" stroke-width="7" stroke-linecap="round"/>
<line x1="1236.5" y1="3420.7" x2="1348" y2="3420.7" stroke="#ff0000" stroke-width="7.5" stroke-dasharray="12.5 14" stroke-linecap="round"/>
</g>
<text transform="translate(199.50 3159.30) scale(0.8251 1.0000)" font-family="'Liberation Sans', Arial, sans-serif" font-size="84.70" stroke="#000" stroke-width="0.24">40</text>
<text transform="translate(199.70 3276.03) scale(0.8251 1.0000)" font-family="'Liberation Sans', Arial, sans-serif" font-size="84.70" stroke="#000" stroke-width="0.24">35</text>
<text transform="translate(199.50 3392.75) scale(0.8251 1.0000)" font-family="'Liberation Sans', Arial, sans-serif" font-size="84.70" stroke="#000" stroke-width="0.24">30</text>
<text transform="translate(199.70 3509.47) scale(0.8251 1.0000)" font-family="'Liberation Sans', Arial, sans-serif" font-size="84.70" stroke="#000" stroke-width="0.24">25</text>
<text transform="translate(199.50 3626.20) scale(0.8251 1.0000)" font-family="'Liberation Sans', Arial, sans-serif" font-size="84.70" stroke="#000" stroke-width="0.24">20</text>
<text transform="translate(199.70 3742.93) scale(0.8251 1.0000)" font-family="'Liberation Sans', Arial, sans-serif" font-size="84.70" stroke="#000" stroke-width="0.24">15</text>
<text transform="translate(199.50 3859.65) scale(0.8251 1.0000)" font-family="'Liberation Sans', Arial, sans-serif" font-size="84.70" stroke="#000" stroke-width="0.24">10</text>
<text transform="translate(238.57 3976.38) scale(0.8251 1.0000)" font-family="'Liberation Sans', Arial, sans-serif" font-size="84.70" stroke="#000" stroke-width="0.24">5</text>
<text transform="translate(238.36 4093.10) scale(0.8251 1.0000)" font-family="'Liberation Sans', Arial, sans-serif" font-size="84.70" stroke="#000" stroke-width="0.24">0</text>
<text transform="translate(317.57 4192.30) scale(0.8251 1.0000)" font-family="'Liberation Sans', Arial, sans-serif" font-size="84.70" stroke="#000" stroke-width="0.24">0</text>
<text transform="translate(756.00 4192.30) scale(0.8251 1.0000)" font-family="'Liberation Sans', Arial, sans-serif" font-size="84.70" stroke="#000" stroke-width="0.24">100</text>
<text transform="translate(1235.70 4192.30) scale(0.8251 1.0000)" font-family="'Liberation Sans', Arial, sans-serif" font-size="84.70" stroke="#000" stroke-width="0.24">200</text>
<text transform="translate(1717.70 4192.30) scale(0.8251 1.0000)" font-family="'Liberation Sans', Arial, sans-serif" font-size="84.70" stroke="#000" stroke-width="0.24">300</text>
<text transform="translate(172.20 3790.61) rotate(-90) scale(0.9850 0.8200)" font-family="'Liberation Sans', Arial, sans-serif" font-size="83.00" letter-spacing="-0.945" stroke="#000" stroke-width="0.24">Magnitude</text>
<text transform="translate(808.19 4304.70) scale(0.8313 1.0000)" font-family="'Liberation Sans', Arial, sans-serif" font-size="82.30" stroke="#000" stroke-width="0.24">Frequency</text>
<text transform="translate(1159.65 4304.70) scale(0.7535 1.0000)" font-family="'Liberation Sans', Arial, sans-serif" font-size="82.30" stroke="#000" stroke-width="0.27">(kHz)</text>
<text transform="translate(1361.69 3325.20) scale(0.8370 1.0000)" font-family="'Liberation Sans', Arial, sans-serif" font-size="83.00" fill="#7f7f7f" stroke="#7f7f7f" stroke-width="0.24">Vertical</text>
<text transform="translate(1358.84 3448.40) scale(0.8453 1.0000)" font-family="'Liberation Sans', Arial, sans-serif" font-size="83.00" fill="#7f7f7f" stroke="#7f7f7f" stroke-width="0.24">Horizontal</text>
<text transform="translate(934.03 4475.61) scale(0.7904 0.8591)" font-family="'Liberation Serif', 'Times New Roman', serif" font-size="100.00" stroke="#000" stroke-width="0.25">(</text>
<text transform="translate(961.98 4476.38) scale(0.8265 0.8846)" font-family="'Liberation Serif', 'Times New Roman', serif" font-size="100.00" font-weight="bold" stroke="#000" stroke-width="0.24">c</text>
<text transform="translate(998.20 4475.61) scale(0.8060 0.8591)" font-family="'Liberation Serif', 'Times New Roman', serif" font-size="100.00" stroke="#000" stroke-width="0.25">)</text>
</svg>
</body>
</html>
